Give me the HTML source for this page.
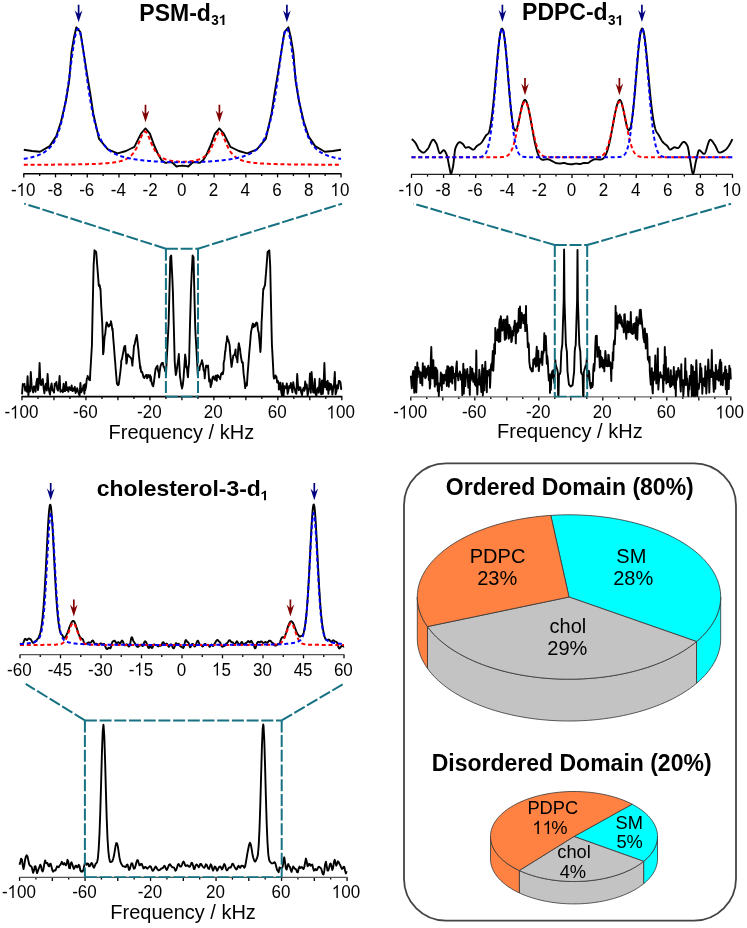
<!DOCTYPE html><html><head><meta charset="utf-8"><style>html,body{margin:0;padding:0;background:#fff;overflow:hidden}svg{display:block;will-change:transform}text{font-family:"Liberation Sans",sans-serif}</style></head><body><svg width="747" height="928" viewBox="0 0 747 928" font-family="Liberation Sans, sans-serif">
<rect width="747" height="928" fill="#fff"/>
<line x1="23.8" y1="173.8" x2="23.8" y2="177.4" stroke="#000" stroke-width="1.3"/>
<line x1="55.52" y1="173.8" x2="55.52" y2="177.4" stroke="#000" stroke-width="1.3"/>
<line x1="87.24" y1="173.8" x2="87.24" y2="177.4" stroke="#000" stroke-width="1.3"/>
<line x1="118.96" y1="173.8" x2="118.96" y2="177.4" stroke="#000" stroke-width="1.3"/>
<line x1="150.68" y1="173.8" x2="150.68" y2="177.4" stroke="#000" stroke-width="1.3"/>
<line x1="182.4" y1="173.8" x2="182.4" y2="177.4" stroke="#000" stroke-width="1.3"/>
<line x1="214.12" y1="173.8" x2="214.12" y2="177.4" stroke="#000" stroke-width="1.3"/>
<line x1="245.84" y1="173.8" x2="245.84" y2="177.4" stroke="#000" stroke-width="1.3"/>
<line x1="277.56" y1="173.8" x2="277.56" y2="177.4" stroke="#000" stroke-width="1.3"/>
<line x1="309.28" y1="173.8" x2="309.28" y2="177.4" stroke="#000" stroke-width="1.3"/>
<line x1="341" y1="173.8" x2="341" y2="177.4" stroke="#000" stroke-width="1.3"/>
<line x1="39.66" y1="173.8" x2="39.66" y2="176.1" stroke="#000" stroke-width="1.3"/>
<line x1="71.38" y1="173.8" x2="71.38" y2="176.1" stroke="#000" stroke-width="1.3"/>
<line x1="103.1" y1="173.8" x2="103.1" y2="176.1" stroke="#000" stroke-width="1.3"/>
<line x1="134.82" y1="173.8" x2="134.82" y2="176.1" stroke="#000" stroke-width="1.3"/>
<line x1="166.54" y1="173.8" x2="166.54" y2="176.1" stroke="#000" stroke-width="1.3"/>
<line x1="198.26" y1="173.8" x2="198.26" y2="176.1" stroke="#000" stroke-width="1.3"/>
<line x1="229.98" y1="173.8" x2="229.98" y2="176.1" stroke="#000" stroke-width="1.3"/>
<line x1="261.7" y1="173.8" x2="261.7" y2="176.1" stroke="#000" stroke-width="1.3"/>
<line x1="293.42" y1="173.8" x2="293.42" y2="176.1" stroke="#000" stroke-width="1.3"/>
<line x1="325.14" y1="173.8" x2="325.14" y2="176.1" stroke="#000" stroke-width="1.3"/>
<line x1="23.3" y1="173.8" x2="341.5" y2="173.8" stroke="#000" stroke-width="1.6"/>
<text transform="translate(10.93,196) scale(1.0,1.07)" font-size="17" fill="#000">-</text>
<path d="M22.66,196 L22.66,182.98 L21.69,182.98 L21.3,183.78 L20.58,184.63 L19.61,185.36 L18.37,186.05 L18.37,187.54 L19.48,187.05 L20.46,186.41 L21.26,185.72 L21.26,196 Z" fill="#000"/>
<text transform="translate(26.04,196) scale(1.0,1.07)" font-size="17" fill="#000">0</text>
<text transform="translate(47.41,196) scale(1.0,1.07)" font-size="17" fill="#000">-8</text>
<text transform="translate(79.13,196) scale(1.0,1.07)" font-size="17" fill="#000">-6</text>
<text transform="translate(110.73,196) scale(1.0,1.07)" font-size="17" fill="#000">-4</text>
<text transform="translate(142.62,196) scale(1.0,1.07)" font-size="17" fill="#000">-2</text>
<text transform="translate(177.12,196) scale(1.0,1.07)" font-size="17" fill="#000">0</text>
<text transform="translate(208.84,196) scale(1.0,1.07)" font-size="17" fill="#000">2</text>
<text transform="translate(240.61,196) scale(1.0,1.07)" font-size="17" fill="#000">4</text>
<text transform="translate(272.22,196) scale(1.0,1.07)" font-size="17" fill="#000">6</text>
<text transform="translate(304,196) scale(1.0,1.07)" font-size="17" fill="#000">8</text>
<path d="M336.51,196 L336.51,182.98 L335.54,182.98 L335.15,183.78 L334.43,184.63 L333.46,185.36 L332.22,186.05 L332.22,187.54 L333.33,187.05 L334.31,186.41 L335.11,185.72 L335.11,196 Z" fill="#000"/>
<text transform="translate(339.89,196) scale(1.0,1.07)" font-size="17" fill="#000">0</text>
<path d="M23.8,149.7 L32,151 L40,151.7 L49.7,146.1 L56.2,136.4 L61,121.8 L65.9,100.8 L69.1,81.4 L71.5,52.3 L73.9,37.8 L76.4,27.3 L80.4,32.1 L83.6,52.3 L86.9,73.3 L90.1,92.7 L93.3,113.7 L99,138.8 L107.9,149.3 L117.6,153.3 L126,151 L130,149 L134.4,146.8 L141,133.6 L145.5,128.4 L149.9,133.6 L154,145 L158,154 L161.3,159.8 L164.5,162.5 L166,162.8 L168,162.3 L172,162.3 L176.5,166.5 L179.5,165.9 L182.4,165.6 L185.3,165.9 L188.3,166.5 L192.8,162.3 L196.8,162.3 L198.8,162.8 L200.3,162.5 L203.5,159.8 L206.8,154 L210.8,145 L214.9,133.6 L219.3,128.4 L223.8,133.6 L230.4,146.8 L234.8,149 L238.8,151 L247.2,153.3 L256.9,149.3 L265.8,138.8 L271.5,113.7 L274.7,92.7 L277.9,73.3 L281.2,52.3 L284.4,32.1 L288.4,27.3 L290.9,37.8 L293.3,52.3 L295.7,81.4 L298.9,100.8 L303.8,121.8 L308.6,136.4 L315.1,146.1 L324.8,151.7 L332.8,151 L341,149.7" fill="none" stroke="#000" stroke-width="1.9" stroke-linejoin="round"/>
<path d="M23.8,164.77 L24.2,164.77 L24.59,164.77 L24.99,164.77 L25.39,164.77 L25.78,164.77 L26.18,164.76 L26.58,164.76 L26.97,164.76 L27.37,164.76 L27.77,164.76 L28.16,164.76 L28.56,164.76 L28.95,164.75 L29.35,164.75 L29.75,164.75 L30.14,164.75 L30.54,164.75 L30.94,164.75 L31.33,164.75 L31.73,164.74 L32.13,164.74 L32.52,164.74 L32.92,164.74 L33.32,164.74 L33.71,164.74 L34.11,164.73 L34.51,164.73 L34.9,164.73 L35.3,164.73 L35.7,164.73 L36.09,164.73 L36.49,164.72 L36.88,164.72 L37.28,164.72 L37.68,164.72 L38.07,164.72 L38.47,164.71 L38.87,164.71 L39.26,164.71 L39.66,164.71 L40.06,164.71 L40.45,164.7 L40.85,164.7 L41.25,164.7 L41.64,164.7 L42.04,164.7 L42.44,164.69 L42.83,164.69 L43.23,164.69 L43.62,164.69 L44.02,164.69 L44.42,164.68 L44.81,164.68 L45.21,164.68 L45.61,164.68 L46,164.67 L46.4,164.67 L46.8,164.67 L47.19,164.67 L47.59,164.67 L47.99,164.66 L48.38,164.66 L48.78,164.66 L49.18,164.66 L49.57,164.65 L49.97,164.65 L50.37,164.65 L50.76,164.65 L51.16,164.64 L51.56,164.64 L51.95,164.64 L52.35,164.63 L52.74,164.63 L53.14,164.63 L53.54,164.63 L53.93,164.62 L54.33,164.62 L54.73,164.62 L55.12,164.61 L55.52,164.61 L55.92,164.61 L56.31,164.6 L56.71,164.6 L57.11,164.6 L57.5,164.6 L57.9,164.59 L58.3,164.59 L58.69,164.59 L59.09,164.58 L59.49,164.58 L59.88,164.57 L60.28,164.57 L60.67,164.57 L61.07,164.56 L61.47,164.56 L61.86,164.56 L62.26,164.55 L62.66,164.55 L63.05,164.55 L63.45,164.54 L63.85,164.54 L64.24,164.53 L64.64,164.53 L65.04,164.52 L65.43,164.52 L65.83,164.52 L66.23,164.51 L66.62,164.51 L67.02,164.5 L67.42,164.5 L67.81,164.49 L68.21,164.49 L68.6,164.48 L69,164.48 L69.4,164.47 L69.79,164.47 L70.19,164.47 L70.59,164.46 L70.98,164.45 L71.38,164.45 L71.78,164.44 L72.17,164.44 L72.57,164.43 L72.97,164.43 L73.36,164.42 L73.76,164.42 L74.16,164.41 L74.55,164.4 L74.95,164.4 L75.35,164.39 L75.74,164.39 L76.14,164.38 L76.53,164.37 L76.93,164.37 L77.33,164.36 L77.72,164.35 L78.12,164.35 L78.52,164.34 L78.91,164.33 L79.31,164.33 L79.71,164.32 L80.1,164.31 L80.5,164.3 L80.9,164.3 L81.29,164.29 L81.69,164.28 L82.09,164.27 L82.48,164.26 L82.88,164.26 L83.28,164.25 L83.67,164.24 L84.07,164.23 L84.46,164.22 L84.86,164.21 L85.26,164.2 L85.65,164.19 L86.05,164.18 L86.45,164.17 L86.84,164.16 L87.24,164.15 L87.64,164.14 L88.03,164.13 L88.43,164.12 L88.83,164.11 L89.22,164.1 L89.62,164.09 L90.02,164.07 L90.41,164.06 L90.81,164.05 L91.21,164.04 L91.6,164.02 L92,164.01 L92.39,164 L92.79,163.99 L93.19,163.97 L93.58,163.96 L93.98,163.94 L94.38,163.93 L94.77,163.91 L95.17,163.9 L95.57,163.88 L95.96,163.87 L96.36,163.85 L96.76,163.83 L97.15,163.81 L97.55,163.8 L97.95,163.78 L98.34,163.76 L98.74,163.74 L99.14,163.72 L99.53,163.7 L99.93,163.68 L100.32,163.66 L100.72,163.64 L101.12,163.62 L101.51,163.59 L101.91,163.57 L102.31,163.55 L102.7,163.52 L103.1,163.5 L103.5,163.47 L103.89,163.45 L104.29,163.42 L104.69,163.39 L105.08,163.36 L105.48,163.33 L105.88,163.3 L106.27,163.27 L106.67,163.24 L107.07,163.21 L107.46,163.17 L107.86,163.14 L108.25,163.1 L108.65,163.07 L109.05,163.03 L109.44,162.99 L109.84,162.95 L110.24,162.91 L110.63,162.87 L111.03,162.82 L111.43,162.78 L111.82,162.73 L112.22,162.68 L112.62,162.63 L113.01,162.58 L113.41,162.52 L113.81,162.47 L114.2,162.41 L114.6,162.35 L115,162.29 L115.39,162.23 L115.79,162.16 L116.18,162.09 L116.58,162.02 L116.98,161.95 L117.37,161.87 L117.77,161.79 L118.17,161.71 L118.56,161.62 L118.96,161.54 L119.36,161.44 L119.75,161.35 L120.15,161.25 L120.55,161.14 L120.94,161.03 L121.34,160.92 L121.74,160.8 L122.13,160.68 L122.53,160.55 L122.93,160.42 L123.32,160.28 L123.72,160.13 L124.11,159.98 L124.51,159.82 L124.91,159.65 L125.3,159.47 L125.7,159.29 L126.1,159.09 L126.49,158.89 L126.89,158.67 L127.29,158.45 L127.68,158.21 L128.08,157.97 L128.48,157.7 L128.87,157.43 L129.27,157.14 L129.67,156.84 L130.06,156.51 L130.46,156.18 L130.86,155.82 L131.25,155.44 L131.65,155.04 L132.04,154.62 L132.44,154.18 L132.84,153.71 L133.23,153.21 L133.63,152.69 L134.03,152.14 L134.42,151.56 L134.82,150.95 L135.22,150.3 L135.61,149.62 L136.01,148.91 L136.41,148.16 L136.8,147.37 L137.2,146.55 L137.6,145.7 L137.99,144.81 L138.39,143.89 L138.79,142.95 L139.18,141.98 L139.58,141 L139.97,140 L140.37,139.01 L140.77,138.02 L141.16,137.06 L141.56,136.12 L141.96,135.24 L142.35,134.42 L142.75,133.68 L143.15,133.03 L143.54,132.48 L143.94,132.06 L144.34,131.76 L144.73,131.6 L145.13,131.58 L145.53,131.71 L145.92,131.97 L146.32,132.36 L146.72,132.87 L147.11,133.49 L147.51,134.21 L147.9,135.01 L148.3,135.87 L148.7,136.78 L149.09,137.73 L149.49,138.71 L149.89,139.69 L150.28,140.68 L150.68,141.66 L151.08,142.62 L151.47,143.56 L151.87,144.47 L152.27,145.35 L152.66,146.21 L153.06,147.02 L153.46,147.81 L153.85,148.55 L154.25,149.26 L154.65,149.94 L155.04,150.58 L155.44,151.19 L155.83,151.77 L156.23,152.32 L156.63,152.84 L157.02,153.33 L157.42,153.79 L157.82,154.23 L158.21,154.64 L158.61,155.03 L159.01,155.41 L159.4,155.76 L159.8,156.09 L160.2,156.4 L160.59,156.7 L160.99,156.98 L161.39,157.25 L161.78,157.5 L162.18,157.74 L162.58,157.96 L162.97,158.18 L163.37,158.38 L163.76,158.57 L164.16,158.76 L164.56,158.93 L164.95,159.09 L165.35,159.25 L165.75,159.4 L166.14,159.54 L166.54,159.67 L166.94,159.8 L167.33,159.92 L167.73,160.04 L168.13,160.15 L168.52,160.25 L168.92,160.35 L169.32,160.44 L169.71,160.53 L170.11,160.62 L170.5,160.7 L170.9,160.77 L171.3,160.85 L171.69,160.91 L172.09,160.98 L172.49,161.04 L172.88,161.1 L173.28,161.15 L173.68,161.2 L174.07,161.25 L174.47,161.3 L174.87,161.34 L175.26,161.38 L175.66,161.42 L176.06,161.46 L176.45,161.49 L176.85,161.52 L177.25,161.55 L177.64,161.57 L178.04,161.6 L178.44,161.62 L178.83,161.64 L179.23,161.65 L179.62,161.67 L180.02,161.68 L180.42,161.69 L180.81,161.7 L181.21,161.71 L181.61,161.71 L182,161.72 L182.4,161.72 L182.8,161.72 L183.19,161.71 L183.59,161.71 L183.99,161.7 L184.38,161.69 L184.78,161.68 L185.18,161.67 L185.57,161.65 L185.97,161.64 L186.37,161.62 L186.76,161.6 L187.16,161.57 L187.55,161.55 L187.95,161.52 L188.35,161.49 L188.74,161.46 L189.14,161.42 L189.54,161.38 L189.93,161.34 L190.33,161.3 L190.73,161.25 L191.12,161.2 L191.52,161.15 L191.92,161.1 L192.31,161.04 L192.71,160.98 L193.11,160.91 L193.5,160.85 L193.9,160.77 L194.3,160.7 L194.69,160.62 L195.09,160.53 L195.48,160.44 L195.88,160.35 L196.28,160.25 L196.67,160.15 L197.07,160.04 L197.47,159.92 L197.86,159.8 L198.26,159.67 L198.66,159.54 L199.05,159.4 L199.45,159.25 L199.85,159.09 L200.24,158.93 L200.64,158.76 L201.04,158.57 L201.43,158.38 L201.83,158.18 L202.22,157.96 L202.62,157.74 L203.02,157.5 L203.41,157.25 L203.81,156.98 L204.21,156.7 L204.6,156.4 L205,156.09 L205.4,155.76 L205.79,155.41 L206.19,155.03 L206.59,154.64 L206.98,154.23 L207.38,153.79 L207.78,153.33 L208.17,152.84 L208.57,152.32 L208.97,151.77 L209.36,151.19 L209.76,150.58 L210.16,149.94 L210.55,149.26 L210.95,148.55 L211.34,147.81 L211.74,147.02 L212.14,146.21 L212.53,145.35 L212.93,144.47 L213.33,143.56 L213.72,142.62 L214.12,141.66 L214.52,140.68 L214.91,139.69 L215.31,138.71 L215.71,137.73 L216.1,136.78 L216.5,135.87 L216.9,135.01 L217.29,134.21 L217.69,133.49 L218.09,132.87 L218.48,132.36 L218.88,131.97 L219.27,131.71 L219.67,131.58 L220.07,131.6 L220.46,131.76 L220.86,132.06 L221.26,132.48 L221.65,133.03 L222.05,133.68 L222.45,134.42 L222.84,135.24 L223.24,136.12 L223.64,137.06 L224.03,138.02 L224.43,139.01 L224.83,140 L225.22,141 L225.62,141.98 L226.01,142.95 L226.41,143.89 L226.81,144.81 L227.2,145.7 L227.6,146.55 L228,147.37 L228.39,148.16 L228.79,148.91 L229.19,149.62 L229.58,150.3 L229.98,150.95 L230.38,151.56 L230.77,152.14 L231.17,152.69 L231.57,153.21 L231.96,153.71 L232.36,154.18 L232.76,154.62 L233.15,155.04 L233.55,155.44 L233.94,155.82 L234.34,156.18 L234.74,156.51 L235.13,156.84 L235.53,157.14 L235.93,157.43 L236.32,157.7 L236.72,157.97 L237.12,158.21 L237.51,158.45 L237.91,158.67 L238.31,158.89 L238.7,159.09 L239.1,159.29 L239.5,159.47 L239.89,159.65 L240.29,159.82 L240.69,159.98 L241.08,160.13 L241.48,160.28 L241.88,160.42 L242.27,160.55 L242.67,160.68 L243.06,160.8 L243.46,160.92 L243.86,161.03 L244.25,161.14 L244.65,161.25 L245.05,161.35 L245.44,161.44 L245.84,161.54 L246.24,161.62 L246.63,161.71 L247.03,161.79 L247.43,161.87 L247.82,161.95 L248.22,162.02 L248.62,162.09 L249.01,162.16 L249.41,162.23 L249.81,162.29 L250.2,162.35 L250.6,162.41 L250.99,162.47 L251.39,162.52 L251.79,162.58 L252.18,162.63 L252.58,162.68 L252.98,162.73 L253.37,162.78 L253.77,162.82 L254.17,162.87 L254.56,162.91 L254.96,162.95 L255.36,162.99 L255.75,163.03 L256.15,163.07 L256.55,163.1 L256.94,163.14 L257.34,163.17 L257.74,163.21 L258.13,163.24 L258.53,163.27 L258.92,163.3 L259.32,163.33 L259.72,163.36 L260.11,163.39 L260.51,163.42 L260.91,163.45 L261.3,163.47 L261.7,163.5 L262.1,163.52 L262.49,163.55 L262.89,163.57 L263.29,163.59 L263.68,163.62 L264.08,163.64 L264.48,163.66 L264.87,163.68 L265.27,163.7 L265.67,163.72 L266.06,163.74 L266.46,163.76 L266.85,163.78 L267.25,163.8 L267.65,163.81 L268.04,163.83 L268.44,163.85 L268.84,163.87 L269.23,163.88 L269.63,163.9 L270.03,163.91 L270.42,163.93 L270.82,163.94 L271.22,163.96 L271.61,163.97 L272.01,163.99 L272.41,164 L272.8,164.01 L273.2,164.02 L273.6,164.04 L273.99,164.05 L274.39,164.06 L274.78,164.07 L275.18,164.09 L275.58,164.1 L275.97,164.11 L276.37,164.12 L276.77,164.13 L277.16,164.14 L277.56,164.15 L277.96,164.16 L278.35,164.17 L278.75,164.18 L279.15,164.19 L279.54,164.2 L279.94,164.21 L280.34,164.22 L280.73,164.23 L281.13,164.24 L281.52,164.25 L281.92,164.26 L282.32,164.26 L282.71,164.27 L283.11,164.28 L283.51,164.29 L283.9,164.3 L284.3,164.3 L284.7,164.31 L285.09,164.32 L285.49,164.33 L285.89,164.33 L286.28,164.34 L286.68,164.35 L287.08,164.35 L287.47,164.36 L287.87,164.37 L288.27,164.37 L288.66,164.38 L289.06,164.39 L289.45,164.39 L289.85,164.4 L290.25,164.4 L290.64,164.41 L291.04,164.42 L291.44,164.42 L291.83,164.43 L292.23,164.43 L292.63,164.44 L293.02,164.44 L293.42,164.45 L293.82,164.45 L294.21,164.46 L294.61,164.47 L295.01,164.47 L295.4,164.47 L295.8,164.48 L296.2,164.48 L296.59,164.49 L296.99,164.49 L297.38,164.5 L297.78,164.5 L298.18,164.51 L298.57,164.51 L298.97,164.52 L299.37,164.52 L299.76,164.52 L300.16,164.53 L300.56,164.53 L300.95,164.54 L301.35,164.54 L301.75,164.55 L302.14,164.55 L302.54,164.55 L302.94,164.56 L303.33,164.56 L303.73,164.56 L304.13,164.57 L304.52,164.57 L304.92,164.57 L305.31,164.58 L305.71,164.58 L306.11,164.59 L306.5,164.59 L306.9,164.59 L307.3,164.6 L307.69,164.6 L308.09,164.6 L308.49,164.6 L308.88,164.61 L309.28,164.61 L309.68,164.61 L310.07,164.62 L310.47,164.62 L310.87,164.62 L311.26,164.63 L311.66,164.63 L312.06,164.63 L312.45,164.63 L312.85,164.64 L313.25,164.64 L313.64,164.64 L314.04,164.65 L314.43,164.65 L314.83,164.65 L315.23,164.65 L315.62,164.66 L316.02,164.66 L316.42,164.66 L316.81,164.66 L317.21,164.67 L317.61,164.67 L318,164.67 L318.4,164.67 L318.8,164.67 L319.19,164.68 L319.59,164.68 L319.99,164.68 L320.38,164.68 L320.78,164.69 L321.18,164.69 L321.57,164.69 L321.97,164.69 L322.36,164.69 L322.76,164.7 L323.16,164.7 L323.55,164.7 L323.95,164.7 L324.35,164.7 L324.74,164.71 L325.14,164.71 L325.54,164.71 L325.93,164.71 L326.33,164.71 L326.73,164.72 L327.12,164.72 L327.52,164.72 L327.92,164.72 L328.31,164.72 L328.71,164.73 L329.11,164.73 L329.5,164.73 L329.9,164.73 L330.29,164.73 L330.69,164.73 L331.09,164.74 L331.48,164.74 L331.88,164.74 L332.28,164.74 L332.67,164.74 L333.07,164.74 L333.47,164.75 L333.86,164.75 L334.26,164.75 L334.66,164.75 L335.05,164.75 L335.45,164.75 L335.85,164.75 L336.24,164.76 L336.64,164.76 L337.03,164.76 L337.43,164.76 L337.83,164.76 L338.22,164.76 L338.62,164.76 L339.02,164.77 L339.41,164.77 L339.81,164.77 L340.21,164.77 L340.6,164.77 L341,164.77" fill="none" stroke="#ff0000" stroke-width="2.0" stroke-dasharray="4 2.8" stroke-linejoin="round"/>
<path d="M23.8,158.91 L24.2,158.84 L24.59,158.78 L24.99,158.71 L25.39,158.64 L25.78,158.56 L26.18,158.49 L26.58,158.41 L26.97,158.34 L27.37,158.26 L27.77,158.18 L28.16,158.09 L28.56,158.01 L28.95,157.92 L29.35,157.83 L29.75,157.74 L30.14,157.65 L30.54,157.56 L30.94,157.46 L31.33,157.36 L31.73,157.26 L32.13,157.16 L32.52,157.05 L32.92,156.94 L33.32,156.83 L33.71,156.72 L34.11,156.6 L34.51,156.48 L34.9,156.36 L35.3,156.23 L35.7,156.1 L36.09,155.97 L36.49,155.83 L36.88,155.69 L37.28,155.55 L37.68,155.4 L38.07,155.25 L38.47,155.09 L38.87,154.93 L39.26,154.76 L39.66,154.59 L40.06,154.42 L40.45,154.24 L40.85,154.05 L41.25,153.86 L41.64,153.67 L42.04,153.46 L42.44,153.25 L42.83,153.04 L43.23,152.81 L43.62,152.58 L44.02,152.34 L44.42,152.1 L44.81,151.84 L45.21,151.58 L45.61,151.3 L46,151.02 L46.4,150.72 L46.8,150.42 L47.19,150.1 L47.59,149.77 L47.99,149.43 L48.38,149.07 L48.78,148.7 L49.18,148.31 L49.57,147.91 L49.97,147.49 L50.37,147.05 L50.76,146.59 L51.16,146.11 L51.56,145.61 L51.95,145.09 L52.35,144.55 L52.74,143.97 L53.14,143.38 L53.54,142.75 L53.93,142.1 L54.33,141.42 L54.73,140.7 L55.12,139.95 L55.52,139.16 L55.92,138.34 L56.31,137.48 L56.71,136.57 L57.11,135.63 L57.5,134.64 L57.9,133.6 L58.3,132.52 L58.69,131.38 L59.09,130.19 L59.49,128.95 L59.88,127.65 L60.28,126.3 L60.67,124.88 L61.07,123.41 L61.47,121.87 L61.86,120.26 L62.26,118.59 L62.66,116.84 L63.05,115.03 L63.45,113.15 L63.85,111.19 L64.24,109.16 L64.64,107.06 L65.04,104.88 L65.43,102.63 L65.83,100.3 L66.23,97.9 L66.62,95.43 L67.02,92.88 L67.42,90.27 L67.81,87.59 L68.21,84.85 L68.6,82.04 L69,79.19 L69.4,76.29 L69.79,73.35 L70.19,70.38 L70.59,67.39 L70.98,64.39 L71.38,61.39 L71.78,58.42 L72.17,55.47 L72.57,52.58 L72.97,49.76 L73.36,47.03 L73.76,44.41 L74.16,41.92 L74.55,39.59 L74.95,37.43 L75.35,35.48 L75.74,33.74 L76.14,32.24 L76.53,30.99 L76.93,30.01 L77.33,29.32 L77.72,28.92 L78.12,28.81 L78.52,29 L78.91,29.49 L79.31,30.26 L79.71,31.32 L80.1,32.64 L80.5,34.21 L80.9,36.01 L81.29,38.02 L81.69,40.23 L82.09,42.61 L82.48,45.14 L82.88,47.79 L83.28,50.55 L83.67,53.39 L84.07,56.29 L84.46,59.25 L84.86,62.23 L85.26,65.23 L85.65,68.22 L86.05,71.21 L86.45,74.17 L86.84,77.1 L87.24,79.98 L87.64,82.82 L88.03,85.61 L88.43,88.33 L88.83,90.99 L89.22,93.58 L89.62,96.11 L90.02,98.56 L90.41,100.94 L90.81,103.24 L91.21,105.47 L91.6,107.62 L92,109.71 L92.39,111.71 L92.79,113.64 L93.19,115.51 L93.58,117.3 L93.98,119.02 L94.38,120.67 L94.77,122.26 L95.17,123.78 L95.57,125.23 L95.96,126.63 L96.36,127.97 L96.76,129.25 L97.15,130.47 L97.55,131.64 L97.95,132.76 L98.34,133.83 L98.74,134.86 L99.14,135.83 L99.53,136.76 L99.93,137.65 L100.32,138.5 L100.72,139.32 L101.12,140.09 L101.51,140.83 L101.91,141.54 L102.31,142.21 L102.7,142.86 L103.1,143.47 L103.5,144.06 L103.89,144.62 L104.29,145.16 L104.69,145.68 L105.08,146.17 L105.48,146.64 L105.88,147.09 L106.27,147.53 L106.67,147.94 L107.07,148.34 L107.46,148.72 L107.86,149.09 L108.25,149.44 L108.65,149.78 L109.05,150.11 L109.44,150.42 L109.84,150.73 L110.24,151.02 L110.63,151.3 L111.03,151.57 L111.43,151.83 L111.82,152.09 L112.22,152.33 L112.62,152.57 L113.01,152.8 L113.41,153.02 L113.81,153.23 L114.2,153.44 L114.6,153.64 L115,153.84 L115.39,154.03 L115.79,154.22 L116.18,154.39 L116.58,154.57 L116.98,154.74 L117.37,154.9 L117.77,155.06 L118.17,155.22 L118.56,155.37 L118.96,155.52 L119.36,155.66 L119.75,155.8 L120.15,155.94 L120.55,156.07 L120.94,156.2 L121.34,156.33 L121.74,156.46 L122.13,156.58 L122.53,156.69 L122.93,156.81 L123.32,156.92 L123.72,157.03 L124.11,157.14 L124.51,157.24 L124.91,157.35 L125.3,157.45 L125.7,157.54 L126.1,157.64 L126.49,157.73 L126.89,157.83 L127.29,157.92 L127.68,158 L128.08,158.09 L128.48,158.18 L128.87,158.26 L129.27,158.34 L129.67,158.42 L130.06,158.5 L130.46,158.57 L130.86,158.65 L131.25,158.72 L131.65,158.79 L132.04,158.86 L132.44,158.93 L132.84,159 L133.23,159.07 L133.63,159.13 L134.03,159.19 L134.42,159.26 L134.82,159.32 L135.22,159.38 L135.61,159.44 L136.01,159.5 L136.41,159.55 L136.8,159.61 L137.2,159.67 L137.6,159.72 L137.99,159.77 L138.39,159.83 L138.79,159.88 L139.18,159.93 L139.58,159.98 L139.97,160.03 L140.37,160.08 L140.77,160.12 L141.16,160.17 L141.56,160.22 L141.96,160.26 L142.35,160.31 L142.75,160.35 L143.15,160.39 L143.54,160.43 L143.94,160.48 L144.34,160.52 L144.73,160.56 L145.13,160.6 L145.53,160.64 L145.92,160.67 L146.32,160.71 L146.72,160.75 L147.11,160.79 L147.51,160.82 L147.9,160.86 L148.3,160.89 L148.7,160.93 L149.09,160.96 L149.49,160.99 L149.89,161.03 L150.28,161.06 L150.68,161.09 L151.08,161.12 L151.47,161.15 L151.87,161.18 L152.27,161.21 L152.66,161.24 L153.06,161.27 L153.46,161.3 L153.85,161.33 L154.25,161.35 L154.65,161.38 L155.04,161.41 L155.44,161.43 L155.83,161.46 L156.23,161.48 L156.63,161.51 L157.02,161.53 L157.42,161.56 L157.82,161.58 L158.21,161.6 L158.61,161.63 L159.01,161.65 L159.4,161.67 L159.8,161.69 L160.2,161.71 L160.59,161.73 L160.99,161.75 L161.39,161.77 L161.78,161.79 L162.18,161.81 L162.58,161.83 L162.97,161.85 L163.37,161.87 L163.76,161.88 L164.16,161.9 L164.56,161.92 L164.95,161.93 L165.35,161.95 L165.75,161.96 L166.14,161.98 L166.54,161.99 L166.94,162.01 L167.33,162.02 L167.73,162.04 L168.13,162.05 L168.52,162.06 L168.92,162.08 L169.32,162.09 L169.71,162.1 L170.11,162.11 L170.5,162.12 L170.9,162.13 L171.3,162.14 L171.69,162.15 L172.09,162.16 L172.49,162.17 L172.88,162.18 L173.28,162.19 L173.68,162.2 L174.07,162.21 L174.47,162.21 L174.87,162.22 L175.26,162.23 L175.66,162.23 L176.06,162.24 L176.45,162.24 L176.85,162.25 L177.25,162.25 L177.64,162.26 L178.04,162.26 L178.44,162.27 L178.83,162.27 L179.23,162.27 L179.62,162.28 L180.02,162.28 L180.42,162.28 L180.81,162.28 L181.21,162.28 L181.61,162.28 L182,162.28 L182.4,162.29 L182.8,162.28 L183.19,162.28 L183.59,162.28 L183.99,162.28 L184.38,162.28 L184.78,162.28 L185.18,162.28 L185.57,162.27 L185.97,162.27 L186.37,162.27 L186.76,162.26 L187.16,162.26 L187.55,162.25 L187.95,162.25 L188.35,162.24 L188.74,162.24 L189.14,162.23 L189.54,162.23 L189.93,162.22 L190.33,162.21 L190.73,162.21 L191.12,162.2 L191.52,162.19 L191.92,162.18 L192.31,162.17 L192.71,162.16 L193.11,162.15 L193.5,162.14 L193.9,162.13 L194.3,162.12 L194.69,162.11 L195.09,162.1 L195.48,162.09 L195.88,162.08 L196.28,162.06 L196.67,162.05 L197.07,162.04 L197.47,162.02 L197.86,162.01 L198.26,161.99 L198.66,161.98 L199.05,161.96 L199.45,161.95 L199.85,161.93 L200.24,161.92 L200.64,161.9 L201.04,161.88 L201.43,161.87 L201.83,161.85 L202.22,161.83 L202.62,161.81 L203.02,161.79 L203.41,161.77 L203.81,161.75 L204.21,161.73 L204.6,161.71 L205,161.69 L205.4,161.67 L205.79,161.65 L206.19,161.63 L206.59,161.6 L206.98,161.58 L207.38,161.56 L207.78,161.53 L208.17,161.51 L208.57,161.48 L208.97,161.46 L209.36,161.43 L209.76,161.41 L210.16,161.38 L210.55,161.35 L210.95,161.33 L211.34,161.3 L211.74,161.27 L212.14,161.24 L212.53,161.21 L212.93,161.18 L213.33,161.15 L213.72,161.12 L214.12,161.09 L214.52,161.06 L214.91,161.03 L215.31,160.99 L215.71,160.96 L216.1,160.93 L216.5,160.89 L216.9,160.86 L217.29,160.82 L217.69,160.79 L218.09,160.75 L218.48,160.71 L218.88,160.67 L219.27,160.64 L219.67,160.6 L220.07,160.56 L220.46,160.52 L220.86,160.48 L221.26,160.43 L221.65,160.39 L222.05,160.35 L222.45,160.31 L222.84,160.26 L223.24,160.22 L223.64,160.17 L224.03,160.12 L224.43,160.08 L224.83,160.03 L225.22,159.98 L225.62,159.93 L226.01,159.88 L226.41,159.83 L226.81,159.77 L227.2,159.72 L227.6,159.67 L228,159.61 L228.39,159.55 L228.79,159.5 L229.19,159.44 L229.58,159.38 L229.98,159.32 L230.38,159.26 L230.77,159.19 L231.17,159.13 L231.57,159.07 L231.96,159 L232.36,158.93 L232.76,158.86 L233.15,158.79 L233.55,158.72 L233.94,158.65 L234.34,158.57 L234.74,158.5 L235.13,158.42 L235.53,158.34 L235.93,158.26 L236.32,158.18 L236.72,158.09 L237.12,158 L237.51,157.92 L237.91,157.83 L238.31,157.73 L238.7,157.64 L239.1,157.54 L239.5,157.45 L239.89,157.35 L240.29,157.24 L240.69,157.14 L241.08,157.03 L241.48,156.92 L241.88,156.81 L242.27,156.69 L242.67,156.58 L243.06,156.46 L243.46,156.33 L243.86,156.2 L244.25,156.07 L244.65,155.94 L245.05,155.8 L245.44,155.66 L245.84,155.52 L246.24,155.37 L246.63,155.22 L247.03,155.06 L247.43,154.9 L247.82,154.74 L248.22,154.57 L248.62,154.39 L249.01,154.22 L249.41,154.03 L249.81,153.84 L250.2,153.64 L250.6,153.44 L250.99,153.23 L251.39,153.02 L251.79,152.8 L252.18,152.57 L252.58,152.33 L252.98,152.09 L253.37,151.83 L253.77,151.57 L254.17,151.3 L254.56,151.02 L254.96,150.73 L255.36,150.42 L255.75,150.11 L256.15,149.78 L256.55,149.44 L256.94,149.09 L257.34,148.72 L257.74,148.34 L258.13,147.94 L258.53,147.53 L258.92,147.09 L259.32,146.64 L259.72,146.17 L260.11,145.68 L260.51,145.16 L260.91,144.62 L261.3,144.06 L261.7,143.47 L262.1,142.86 L262.49,142.21 L262.89,141.54 L263.29,140.83 L263.68,140.09 L264.08,139.32 L264.48,138.5 L264.87,137.65 L265.27,136.76 L265.67,135.83 L266.06,134.86 L266.46,133.83 L266.85,132.76 L267.25,131.64 L267.65,130.47 L268.04,129.25 L268.44,127.97 L268.84,126.63 L269.23,125.23 L269.63,123.78 L270.03,122.26 L270.42,120.67 L270.82,119.02 L271.22,117.3 L271.61,115.51 L272.01,113.64 L272.41,111.71 L272.8,109.71 L273.2,107.62 L273.6,105.47 L273.99,103.24 L274.39,100.94 L274.78,98.56 L275.18,96.11 L275.58,93.58 L275.97,90.99 L276.37,88.33 L276.77,85.61 L277.16,82.82 L277.56,79.98 L277.96,77.1 L278.35,74.17 L278.75,71.21 L279.15,68.22 L279.54,65.23 L279.94,62.23 L280.34,59.25 L280.73,56.29 L281.13,53.39 L281.52,50.55 L281.92,47.79 L282.32,45.14 L282.71,42.61 L283.11,40.23 L283.51,38.02 L283.9,36.01 L284.3,34.21 L284.7,32.64 L285.09,31.32 L285.49,30.26 L285.89,29.49 L286.28,29 L286.68,28.81 L287.08,28.92 L287.47,29.32 L287.87,30.01 L288.27,30.99 L288.66,32.24 L289.06,33.74 L289.45,35.48 L289.85,37.43 L290.25,39.59 L290.64,41.92 L291.04,44.41 L291.44,47.03 L291.83,49.76 L292.23,52.58 L292.63,55.47 L293.02,58.42 L293.42,61.39 L293.82,64.39 L294.21,67.39 L294.61,70.38 L295.01,73.35 L295.4,76.29 L295.8,79.19 L296.2,82.04 L296.59,84.85 L296.99,87.59 L297.38,90.27 L297.78,92.88 L298.18,95.43 L298.57,97.9 L298.97,100.3 L299.37,102.63 L299.76,104.88 L300.16,107.06 L300.56,109.16 L300.95,111.19 L301.35,113.15 L301.75,115.03 L302.14,116.84 L302.54,118.59 L302.94,120.26 L303.33,121.87 L303.73,123.41 L304.13,124.88 L304.52,126.3 L304.92,127.65 L305.31,128.95 L305.71,130.19 L306.11,131.38 L306.5,132.52 L306.9,133.6 L307.3,134.64 L307.69,135.63 L308.09,136.57 L308.49,137.48 L308.88,138.34 L309.28,139.16 L309.68,139.95 L310.07,140.7 L310.47,141.42 L310.87,142.1 L311.26,142.75 L311.66,143.38 L312.06,143.97 L312.45,144.55 L312.85,145.09 L313.25,145.61 L313.64,146.11 L314.04,146.59 L314.43,147.05 L314.83,147.49 L315.23,147.91 L315.62,148.31 L316.02,148.7 L316.42,149.07 L316.81,149.43 L317.21,149.77 L317.61,150.1 L318,150.42 L318.4,150.72 L318.8,151.02 L319.19,151.3 L319.59,151.58 L319.99,151.84 L320.38,152.1 L320.78,152.34 L321.18,152.58 L321.57,152.81 L321.97,153.04 L322.36,153.25 L322.76,153.46 L323.16,153.67 L323.55,153.86 L323.95,154.05 L324.35,154.24 L324.74,154.42 L325.14,154.59 L325.54,154.76 L325.93,154.93 L326.33,155.09 L326.73,155.25 L327.12,155.4 L327.52,155.55 L327.92,155.69 L328.31,155.83 L328.71,155.97 L329.11,156.1 L329.5,156.23 L329.9,156.36 L330.29,156.48 L330.69,156.6 L331.09,156.72 L331.48,156.83 L331.88,156.94 L332.28,157.05 L332.67,157.16 L333.07,157.26 L333.47,157.36 L333.86,157.46 L334.26,157.56 L334.66,157.65 L335.05,157.74 L335.45,157.83 L335.85,157.92 L336.24,158.01 L336.64,158.09 L337.03,158.18 L337.43,158.26 L337.83,158.34 L338.22,158.41 L338.62,158.49 L339.02,158.56 L339.41,158.64 L339.81,158.71 L340.21,158.78 L340.6,158.84 L341,158.91" fill="none" stroke="#0000ff" stroke-width="2.0" stroke-dasharray="4 2.8" stroke-linejoin="round"/>
<line x1="411.5" y1="174.3" x2="411.5" y2="177.9" stroke="#000" stroke-width="1.3"/>
<line x1="443.6" y1="174.3" x2="443.6" y2="177.9" stroke="#000" stroke-width="1.3"/>
<line x1="475.7" y1="174.3" x2="475.7" y2="177.9" stroke="#000" stroke-width="1.3"/>
<line x1="507.8" y1="174.3" x2="507.8" y2="177.9" stroke="#000" stroke-width="1.3"/>
<line x1="539.9" y1="174.3" x2="539.9" y2="177.9" stroke="#000" stroke-width="1.3"/>
<line x1="572" y1="174.3" x2="572" y2="177.9" stroke="#000" stroke-width="1.3"/>
<line x1="604.1" y1="174.3" x2="604.1" y2="177.9" stroke="#000" stroke-width="1.3"/>
<line x1="636.2" y1="174.3" x2="636.2" y2="177.9" stroke="#000" stroke-width="1.3"/>
<line x1="668.3" y1="174.3" x2="668.3" y2="177.9" stroke="#000" stroke-width="1.3"/>
<line x1="700.4" y1="174.3" x2="700.4" y2="177.9" stroke="#000" stroke-width="1.3"/>
<line x1="732.5" y1="174.3" x2="732.5" y2="177.9" stroke="#000" stroke-width="1.3"/>
<line x1="427.55" y1="174.3" x2="427.55" y2="176.6" stroke="#000" stroke-width="1.3"/>
<line x1="459.65" y1="174.3" x2="459.65" y2="176.6" stroke="#000" stroke-width="1.3"/>
<line x1="491.75" y1="174.3" x2="491.75" y2="176.6" stroke="#000" stroke-width="1.3"/>
<line x1="523.85" y1="174.3" x2="523.85" y2="176.6" stroke="#000" stroke-width="1.3"/>
<line x1="555.95" y1="174.3" x2="555.95" y2="176.6" stroke="#000" stroke-width="1.3"/>
<line x1="588.05" y1="174.3" x2="588.05" y2="176.6" stroke="#000" stroke-width="1.3"/>
<line x1="620.15" y1="174.3" x2="620.15" y2="176.6" stroke="#000" stroke-width="1.3"/>
<line x1="652.25" y1="174.3" x2="652.25" y2="176.6" stroke="#000" stroke-width="1.3"/>
<line x1="684.35" y1="174.3" x2="684.35" y2="176.6" stroke="#000" stroke-width="1.3"/>
<line x1="716.45" y1="174.3" x2="716.45" y2="176.6" stroke="#000" stroke-width="1.3"/>
<line x1="411" y1="174.3" x2="733" y2="174.3" stroke="#222" stroke-width="1.35"/>
<text transform="translate(398.62,196) scale(1.0,1.07)" font-size="17" fill="#000">-</text>
<path d="M410.36,196 L410.36,182.98 L409.39,182.98 L409,183.78 L408.28,184.63 L407.31,185.36 L406.07,186.05 L406.07,187.54 L407.18,187.05 L408.16,186.41 L408.96,185.72 L408.96,196 Z" fill="#000"/>
<text transform="translate(413.74,196) scale(1.0,1.07)" font-size="17" fill="#000">0</text>
<text transform="translate(435.49,196) scale(1.0,1.07)" font-size="17" fill="#000">-8</text>
<text transform="translate(467.59,196) scale(1.0,1.07)" font-size="17" fill="#000">-6</text>
<text transform="translate(499.57,196) scale(1.0,1.07)" font-size="17" fill="#000">-4</text>
<text transform="translate(531.84,196) scale(1.0,1.07)" font-size="17" fill="#000">-2</text>
<text transform="translate(566.72,196) scale(1.0,1.07)" font-size="17" fill="#000">0</text>
<text transform="translate(598.82,196) scale(1.0,1.07)" font-size="17" fill="#000">2</text>
<text transform="translate(630.98,196) scale(1.0,1.07)" font-size="17" fill="#000">4</text>
<text transform="translate(662.96,196) scale(1.0,1.07)" font-size="17" fill="#000">6</text>
<text transform="translate(695.12,196) scale(1.0,1.07)" font-size="17" fill="#000">8</text>
<path d="M728.01,196 L728.01,182.98 L727.04,182.98 L726.65,183.78 L725.93,184.63 L724.96,185.36 L723.72,186.05 L723.72,187.54 L724.83,187.05 L725.81,186.41 L726.61,185.72 L726.61,196 Z" fill="#000"/>
<text transform="translate(731.39,196) scale(1.0,1.07)" font-size="17" fill="#000">0</text>
<path d="M411.7,139.1 L411.93,139.24 L412.16,139.4 L412.39,139.57 L412.62,139.75 L412.85,139.95 L413.08,140.15 L413.3,140.37 L413.53,140.6 L413.76,140.84 L413.99,141.09 L414.22,141.35 L414.45,141.62 L414.68,141.89 L414.91,142.18 L415.14,142.46 L415.37,142.76 L415.6,143.07 L415.83,143.44 L416.06,143.84 L416.28,144.28 L416.51,144.74 L416.74,145.23 L416.97,145.72 L417.2,146.22 L417.43,146.72 L417.66,147.21 L417.89,147.68 L418.12,148.12 L418.35,148.54 L418.58,148.92 L418.81,149.25 L419.04,149.53 L419.26,149.77 L419.49,150 L419.72,150.24 L419.95,150.47 L420.18,150.69 L420.41,150.91 L420.64,151.13 L420.87,151.33 L421.1,151.53 L421.33,151.71 L421.56,151.88 L421.79,152.04 L422.02,152.18 L422.24,152.3 L422.47,152.4 L422.7,152.49 L422.93,152.55 L423.16,152.59 L423.39,152.6 L423.62,152.58 L423.85,152.53 L424.08,152.45 L424.31,152.34 L424.54,152.21 L424.77,152.05 L425,151.87 L425.22,151.67 L425.45,151.45 L425.68,151.22 L425.91,150.97 L426.14,150.72 L426.37,150.45 L426.6,150.19 L426.83,149.91 L427.06,149.64 L427.29,149.37 L427.52,149.11 L427.75,148.85 L427.98,148.55 L428.2,148.21 L428.43,147.83 L428.66,147.42 L428.89,146.97 L429.12,146.5 L429.35,146 L429.58,145.5 L429.81,144.98 L430.04,144.46 L430.27,143.94 L430.5,143.42 L430.73,142.92 L430.96,142.44 L431.18,141.98 L431.41,141.54 L431.64,141.14 L431.87,140.78 L432.1,140.46 L432.33,140.19 L432.56,139.97 L432.79,139.81 L433.02,139.72 L433.25,139.7 L433.48,139.75 L433.71,139.85 L433.94,140.01 L434.17,140.21 L434.39,140.46 L434.62,140.75 L434.85,141.06 L435.08,141.4 L435.31,141.76 L435.54,142.14 L435.77,142.52 L436,142.9 L436.23,143.28 L436.46,143.69 L436.69,144.21 L436.92,144.83 L437.15,145.53 L437.37,146.3 L437.6,147.11 L437.83,147.95 L438.06,148.79 L438.29,149.61 L438.52,150.4 L438.75,151.13 L438.98,151.79 L439.21,152.35 L439.44,152.8 L439.67,153.12 L439.9,153.28 L440.13,153.29 L440.35,153.22 L440.58,153.09 L440.81,152.92 L441.04,152.7 L441.27,152.45 L441.5,152.18 L441.73,151.9 L441.96,151.61 L442.19,151.33 L442.42,151.06 L442.65,150.81 L442.88,150.59 L443.11,150.41 L443.33,150.28 L443.56,150.21 L443.79,150.21 L444.02,150.28 L444.25,150.42 L444.48,150.62 L444.71,150.89 L444.94,151.21 L445.17,151.58 L445.4,151.99 L445.63,152.44 L445.86,152.92 L446.09,153.42 L446.31,153.95 L446.54,154.49 L446.77,155.04 L447,155.66 L447.23,156.46 L447.46,157.41 L447.69,158.47 L447.92,159.63 L448.15,160.84 L448.38,162.08 L448.61,163.33 L448.84,164.54 L449.07,165.7 L449.29,166.78 L449.52,167.9 L449.75,169.16 L449.98,170.45 L450.21,171.66 L450.44,172.66 L450.67,173.34 L450.9,173.6 L451.13,173.48 L451.36,173.12 L451.59,172.58 L451.82,171.86 L452.05,171.02 L452.27,170.08 L452.5,169.07 L452.73,168.02 L452.96,166.97 L453.19,165.77 L453.42,164.16 L453.65,162.23 L453.88,160.1 L454.11,157.86 L454.34,155.63 L454.57,153.5 L454.8,151.58 L455.03,149.97 L455.25,148.79 L455.48,148.09 L455.71,147.52 L455.94,146.97 L456.17,146.45 L456.4,145.95 L456.63,145.48 L456.86,145.04 L457.09,144.62 L457.32,144.23 L457.55,143.88 L457.78,143.55 L458.01,143.26 L458.23,143 L458.46,142.77 L458.69,142.58 L458.92,142.43 L459.15,142.32 L459.38,142.24 L459.61,142.2 L459.84,142.21 L460.07,142.24 L460.3,142.3 L460.53,142.39 L460.76,142.5 L460.99,142.63 L461.21,142.77 L461.44,142.93 L461.67,143.1 L461.9,143.28 L462.13,143.46 L462.36,143.65 L462.59,143.83 L462.82,144.02 L463.05,144.23 L463.28,144.5 L463.51,144.82 L463.74,145.17 L463.97,145.53 L464.19,145.9 L464.42,146.27 L464.65,146.62 L464.88,146.94 L465.11,147.22 L465.34,147.45 L465.57,147.61 L465.8,147.69 L466.03,147.7 L466.26,147.66 L466.49,147.61 L466.72,147.54 L466.95,147.46 L467.17,147.37 L467.4,147.29 L467.63,147.21 L467.86,147.15 L468.09,147.11 L468.32,147.1 L468.55,147.12 L468.78,147.16 L469.01,147.24 L469.24,147.33 L469.47,147.45 L469.7,147.58 L469.93,147.72 L470.15,147.88 L470.38,148.04 L470.61,148.21 L470.84,148.38 L471.07,148.55 L471.3,148.72 L471.53,148.88 L471.76,149.04 L471.99,149.18 L472.22,149.3 L472.45,149.41 L472.68,149.49 L472.91,149.56 L473.14,149.59 L473.36,149.6 L473.59,149.55 L473.82,149.45 L474.05,149.3 L474.28,149.1 L474.51,148.87 L474.74,148.62 L474.97,148.33 L475.2,148.04 L475.43,147.73 L475.66,147.42 L475.89,147.12 L476.12,146.82 L476.34,146.55 L476.57,146.29 L476.8,146.07 L477.03,145.88 L477.26,145.71 L477.49,145.55 L477.72,145.39 L477.95,145.24 L478.18,145.1 L478.41,144.96 L478.64,144.82 L478.87,144.68 L479.1,144.54 L479.32,144.4 L479.55,144.25 L479.78,144.1 L480.01,143.94 L480.24,143.77 L480.47,143.59 L480.7,143.4 L480.93,143.19 L481.16,142.95 L481.39,142.69 L481.62,142.41 L481.85,142.11 L482.08,141.79 L482.3,141.45 L482.53,141.11 L482.76,140.75 L482.99,140.38 L483.22,140.01 L483.45,139.63 L483.68,139.24 L483.91,138.85 L484.14,138.46 L484.37,138.07 L484.6,137.68 L484.83,137.29 L485.06,136.9 L485.28,136.52 L485.51,136.14 L485.74,135.78 L485.97,135.48 L486.2,135.22 L486.43,135.01 L486.66,134.82 L486.89,134.65 L487.12,134.48 L487.35,134.31 L487.58,134.12 L487.81,133.9 L488.04,133.64 L488.26,133.33 L488.49,132.95 L488.72,132.5 L488.95,131.97 L489.18,131.34 L489.41,130.59 L489.64,129.73 L489.87,128.74 L490.1,127.64 L490.33,126.45 L490.56,125.19 L490.79,123.85 L491.02,122.42 L491.24,120.92 L491.47,119.33 L491.7,117.67 L491.93,115.92 L492.16,114.09 L492.39,112.18 L492.62,110.2 L492.85,108.14 L493.08,106.01 L493.31,103.81 L493.54,101.54 L493.77,99.2 L494,96.81 L494.22,94.36 L494.45,91.86 L494.68,89.32 L494.91,86.74 L495.14,84.12 L495.37,81.48 L495.6,78.81 L495.83,76.14 L496.06,73.45 L496.29,70.77 L496.52,68.1 L496.75,65.45 L496.98,62.83 L497.2,60.24 L497.43,57.7 L497.66,55.21 L497.89,52.78 L498.12,50.42 L498.35,48.14 L498.58,45.95 L498.81,43.86 L499.04,41.87 L499.27,39.99 L499.5,38.24 L499.73,36.61 L499.96,35.11 L500.18,33.75 L500.41,32.54 L500.64,31.49 L500.87,30.58 L501.1,29.84 L501.33,29.26 L501.56,28.85 L501.79,28.61 L502.02,28.54 L502.25,28.63 L502.48,28.91 L502.71,29.35 L502.94,29.96 L503.16,30.75 L503.39,31.7 L503.62,32.81 L503.85,34.08 L504.08,35.5 L504.31,37.06 L504.54,38.77 L504.77,40.61 L505,42.58 L505.23,44.67 L505.46,46.87 L505.69,49.17 L505.92,51.57 L506.14,54.04 L506.37,56.6 L506.6,59.22 L506.83,61.9 L507.06,64.63 L507.29,67.39 L507.52,70.18 L507.75,72.99 L507.98,75.81 L508.21,78.62 L508.44,81.43 L508.67,84.22 L508.9,86.98 L509.12,89.71 L509.35,92.39 L509.58,95.03 L509.81,97.6 L510.04,100.11 L510.27,102.55 L510.5,104.91 L510.73,107.19 L510.96,109.38 L511.19,111.48 L511.42,113.48 L511.65,115.38 L511.88,117.17 L512.11,118.86 L512.33,120.44 L512.56,121.91 L512.79,123.26 L513.02,124.5 L513.25,125.62 L513.48,126.64 L513.71,127.53 L513.94,128.31 L514.17,128.97 L514.4,129.51 L514.63,129.93 L514.86,130.23 L515.09,130.41 L515.31,130.48 L515.54,130.44 L515.77,130.3 L516,130.06 L516.23,129.72 L516.46,129.29 L516.69,128.78 L516.92,128.18 L517.15,127.51 L517.38,126.77 L517.61,125.97 L517.84,125.11 L518.07,124.19 L518.29,123.23 L518.52,122.22 L518.75,121.19 L518.98,120.12 L519.21,119.03 L519.44,117.92 L519.67,116.8 L519.9,115.67 L520.13,114.55 L520.36,113.43 L520.59,112.32 L520.82,111.23 L521.05,110.16 L521.27,109.13 L521.5,108.12 L521.73,107.15 L521.96,106.23 L522.19,105.35 L522.42,104.53 L522.65,103.76 L522.88,103.06 L523.11,102.42 L523.34,101.85 L523.57,101.35 L523.8,100.92 L524.03,100.57 L524.25,100.3 L524.48,100.12 L524.71,100.02 L524.94,100 L525.17,100.05 L525.4,100.18 L525.63,100.39 L525.86,100.66 L526.09,101.01 L526.32,101.42 L526.55,101.91 L526.78,102.46 L527.01,103.08 L527.23,103.76 L527.46,104.5 L527.69,105.3 L527.92,106.16 L528.15,107.07 L528.38,108.03 L528.61,109.04 L528.84,110.09 L529.07,111.19 L529.3,112.32 L529.53,113.49 L529.76,114.68 L529.99,115.9 L530.21,117.15 L530.44,118.42 L530.67,119.7 L530.9,121 L531.13,122.31 L531.36,123.62 L531.59,124.94 L531.82,126.26 L532.05,127.58 L532.28,128.89 L532.51,130.19 L532.74,131.48 L532.97,132.76 L533.19,134.02 L533.42,135.26 L533.65,136.48 L533.88,137.68 L534.11,138.85 L534.34,140 L534.57,141.12 L534.8,142.22 L535.03,143.28 L535.26,144.31 L535.49,145.31 L535.72,146.28 L535.95,147.21 L536.17,148.11 L536.4,148.97 L536.63,149.8 L536.86,150.59 L537.09,151.35 L537.32,152.07 L537.55,152.76 L537.78,153.41 L538.01,154.03 L538.24,154.61 L538.47,155.16 L538.7,155.68 L538.93,156.16 L539.15,156.61 L539.38,157.02 L539.61,157.41 L539.84,157.76 L540.07,158.08 L540.3,158.37 L540.53,158.62 L540.76,158.85 L540.99,159.04 L541.22,159.21 L541.45,159.35 L541.68,159.47 L541.91,159.57 L542.13,159.65 L542.36,159.7 L542.59,159.74 L542.82,159.77 L543.05,159.78 L543.28,159.78 L543.51,159.77 L543.74,159.75 L543.97,159.72 L544.2,159.68 L544.43,159.64 L544.66,159.59 L544.89,159.54 L545.11,159.49 L545.34,159.44 L545.57,159.39 L545.8,159.35 L546.03,159.31 L546.26,159.27 L546.49,159.24 L546.72,159.21 L546.95,159.19 L547.18,159.19 L547.41,159.19 L547.64,159.2 L547.87,159.23 L548.09,159.27 L548.32,159.33 L548.55,159.39 L548.78,159.47 L549.01,159.55 L549.24,159.65 L549.47,159.75 L549.7,159.85 L549.93,159.97 L550.16,160.08 L550.39,160.2 L550.62,160.32 L550.85,160.44 L551.07,160.56 L551.3,160.67 L551.53,160.79 L551.76,160.89 L551.99,161 L552.22,161.1 L552.45,161.21 L552.68,161.33 L552.91,161.46 L553.14,161.59 L553.37,161.73 L553.6,161.86 L553.83,162 L554.06,162.13 L554.28,162.27 L554.51,162.39 L554.74,162.52 L554.97,162.63 L555.2,162.74 L555.43,162.84 L555.66,162.93 L555.89,163 L556.12,163.06 L556.35,163.11 L556.58,163.15 L556.81,163.19 L557.04,163.22 L557.26,163.26 L557.49,163.29 L557.72,163.33 L557.95,163.36 L558.18,163.38 L558.41,163.41 L558.64,163.43 L558.87,163.45 L559.1,163.47 L559.33,163.48 L559.56,163.49 L559.79,163.5 L560.02,163.5 L560.24,163.49 L560.47,163.48 L560.7,163.46 L560.93,163.43 L561.16,163.4 L561.39,163.36 L561.62,163.32 L561.85,163.28 L562.08,163.24 L562.31,163.19 L562.54,163.15 L562.77,163.11 L563,163.08 L563.22,163.05 L563.45,163.03 L563.68,163.01 L563.91,163 L564.14,163 L564.37,163.02 L564.6,163.05 L564.83,163.1 L565.06,163.15 L565.29,163.21 L565.52,163.28 L565.75,163.36 L565.98,163.43 L566.2,163.51 L566.43,163.59 L566.66,163.67 L566.89,163.75 L567.12,163.81 L567.35,163.88 L567.58,163.93 L567.81,163.97 L568.04,164 L568.27,164.03 L568.5,164.06 L568.73,164.08 L568.96,164.11 L569.18,164.13 L569.41,164.15 L569.64,164.18 L569.87,164.2 L570.1,164.22 L570.33,164.23 L570.56,164.25 L570.79,164.26 L571.02,164.28 L571.25,164.29 L571.48,164.29 L571.71,164.3 L571.94,164.3 L572.16,164.3 L572.39,164.28 L572.62,164.25 L572.85,164.22 L573.08,164.17 L573.31,164.12 L573.54,164.07 L573.77,164.01 L574,163.95 L574.23,163.89 L574.46,163.83 L574.69,163.78 L574.92,163.73 L575.14,163.68 L575.37,163.65 L575.6,163.62 L575.83,163.6 L576.06,163.6 L576.29,163.61 L576.52,163.62 L576.75,163.64 L576.98,163.66 L577.21,163.69 L577.44,163.72 L577.67,163.75 L577.9,163.78 L578.12,163.82 L578.35,163.85 L578.58,163.89 L578.81,163.92 L579.04,163.94 L579.27,163.96 L579.5,163.98 L579.73,163.99 L579.96,164 L580.19,163.99 L580.42,163.97 L580.65,163.93 L580.88,163.88 L581.1,163.81 L581.33,163.74 L581.56,163.66 L581.79,163.58 L582.02,163.49 L582.25,163.41 L582.48,163.32 L582.71,163.25 L582.94,163.17 L583.17,163.11 L583.4,163.06 L583.63,163.02 L583.86,163 L584.08,163 L584.31,163 L584.54,163.01 L584.77,163.01 L585,163.02 L585.23,163.03 L585.46,163.04 L585.69,163.05 L585.92,163.06 L586.15,163.07 L586.38,163.08 L586.61,163.09 L586.84,163.09 L587.06,163.1 L587.29,163.1 L587.52,163.09 L587.75,163.06 L587.98,162.99 L588.21,162.9 L588.44,162.78 L588.67,162.64 L588.9,162.49 L589.13,162.33 L589.36,162.15 L589.59,161.98 L589.82,161.8 L590.04,161.62 L590.27,161.45 L590.5,161.29 L590.73,161.15 L590.96,161.02 L591.19,160.9 L591.42,160.78 L591.65,160.65 L591.88,160.52 L592.11,160.39 L592.34,160.26 L592.57,160.13 L592.8,160 L593.03,159.87 L593.25,159.75 L593.48,159.64 L593.71,159.54 L593.94,159.45 L594.17,159.37 L594.4,159.3 L594.63,159.25 L594.86,159.22 L595.09,159.2 L595.32,159.2 L595.55,159.2 L595.78,159.2 L596.01,159.21 L596.23,159.23 L596.46,159.24 L596.69,159.26 L596.92,159.29 L597.15,159.31 L597.38,159.34 L597.61,159.37 L597.84,159.39 L598.07,159.42 L598.3,159.45 L598.53,159.47 L598.76,159.49 L598.99,159.51 L599.21,159.53 L599.44,159.54 L599.67,159.55 L599.9,159.55 L600.13,159.54 L600.36,159.53 L600.59,159.51 L600.82,159.48 L601.05,159.44 L601.28,159.39 L601.51,159.32 L601.74,159.25 L601.97,159.16 L602.19,159.05 L602.42,158.93 L602.65,158.8 L602.88,158.64 L603.11,158.47 L603.34,158.27 L603.57,158.05 L603.8,157.81 L604.03,157.55 L604.26,157.26 L604.49,156.95 L604.72,156.61 L604.95,156.24 L605.17,155.84 L605.4,155.42 L605.63,154.97 L605.86,154.49 L606.09,153.97 L606.32,153.43 L606.55,152.86 L606.78,152.25 L607.01,151.61 L607.24,150.94 L607.47,150.24 L607.7,149.5 L607.93,148.73 L608.15,147.93 L608.38,147.1 L608.61,146.23 L608.84,145.33 L609.07,144.4 L609.3,143.43 L609.53,142.44 L609.76,141.41 L609.99,140.36 L610.22,139.28 L610.45,138.17 L610.68,137.03 L610.91,135.87 L611.13,134.69 L611.36,133.49 L611.59,132.27 L611.82,131.04 L612.05,129.79 L612.28,128.52 L612.51,127.25 L612.74,125.98 L612.97,124.7 L613.2,123.42 L613.43,122.14 L613.66,120.86 L613.89,119.6 L614.11,118.35 L614.34,117.11 L614.57,115.89 L614.8,114.69 L615.03,113.52 L615.26,112.38 L615.49,111.27 L615.72,110.2 L615.95,109.16 L616.18,108.16 L616.41,107.21 L616.64,106.31 L616.87,105.46 L617.09,104.66 L617.32,103.92 L617.55,103.24 L617.78,102.62 L618.01,102.06 L618.24,101.56 L618.47,101.13 L618.7,100.77 L618.93,100.48 L619.16,100.25 L619.39,100.1 L619.62,100.02 L619.85,100 L620.07,100.08 L620.3,100.24 L620.53,100.5 L620.76,100.84 L620.99,101.27 L621.22,101.78 L621.45,102.37 L621.68,103.03 L621.91,103.76 L622.14,104.56 L622.37,105.41 L622.6,106.32 L622.83,107.28 L623.05,108.29 L623.28,109.34 L623.51,110.42 L623.74,111.53 L623.97,112.66 L624.2,113.81 L624.43,114.97 L624.66,116.13 L624.89,117.28 L625.12,118.43 L625.35,119.57 L625.58,120.68 L625.81,121.76 L626.03,122.8 L626.26,123.8 L626.49,124.76 L626.72,125.65 L626.95,126.49 L627.18,127.26 L627.41,127.95 L627.64,128.56 L627.87,129.08 L628.1,129.52 L628.33,129.85 L628.56,130.08 L628.79,130.2 L629.01,130.21 L629.24,130.09 L629.47,129.86 L629.7,129.5 L629.93,129.01 L630.16,128.42 L630.39,127.71 L630.62,126.89 L630.85,125.95 L631.08,124.9 L631.31,123.73 L631.54,122.44 L631.77,121.04 L631.99,119.53 L632.22,117.91 L632.45,116.18 L632.68,114.34 L632.91,112.4 L633.14,110.35 L633.37,108.22 L633.6,105.99 L633.83,103.67 L634.06,101.27 L634.29,98.8 L634.52,96.25 L634.75,93.65 L634.98,90.99 L635.2,88.28 L635.43,85.54 L635.66,82.76 L635.89,79.96 L636.12,77.14 L636.35,74.32 L636.58,71.51 L636.81,68.7 L637.04,65.93 L637.27,63.18 L637.5,60.48 L637.73,57.83 L637.96,55.24 L638.18,52.72 L638.41,50.28 L638.64,47.93 L638.87,45.69 L639.1,43.55 L639.33,41.52 L639.56,39.62 L639.79,37.85 L640.02,36.21 L640.25,34.72 L640.48,33.38 L640.71,32.2 L640.94,31.17 L641.16,30.31 L641.39,29.62 L641.62,29.09 L641.85,28.74 L642.08,28.55 L642.31,28.54 L642.54,28.69 L642.77,29 L643,29.48 L643.23,30.11 L643.46,30.91 L643.69,31.85 L643.92,32.95 L644.14,34.18 L644.37,35.56 L644.6,37.07 L644.83,38.7 L645.06,40.45 L645.29,42.32 L645.52,44.29 L645.75,46.36 L645.98,48.51 L646.21,50.75 L646.44,53.05 L646.67,55.42 L646.9,57.85 L647.12,60.32 L647.35,62.83 L647.58,65.37 L647.81,67.93 L648.04,70.5 L648.27,73.08 L648.5,75.65 L648.73,78.22 L648.96,80.77 L649.19,83.29 L649.42,85.79 L649.65,88.25 L649.88,90.67 L650.1,93.04 L650.33,95.37 L650.56,97.63 L650.79,99.84 L651.02,101.99 L651.25,104.07 L651.48,106.08 L651.71,108.02 L651.94,109.89 L652.17,111.68 L652.4,113.41 L652.63,115.05 L652.86,116.62 L653.08,118.12 L653.31,119.54 L653.54,120.89 L653.77,122.16 L654,123.36 L654.23,124.49 L654.46,125.55 L654.69,126.55 L654.92,127.47 L655.15,128.32 L655.38,129.07 L655.61,129.75 L655.84,130.35 L656.06,130.89 L656.29,131.37 L656.52,131.81 L656.75,132.2 L656.98,132.57 L657.21,132.91 L657.44,133.24 L657.67,133.56 L657.9,133.88 L658.13,134.22 L658.36,134.57 L658.59,134.94 L658.82,135.34 L659.04,135.74 L659.27,136.15 L659.5,136.57 L659.73,136.99 L659.96,137.42 L660.19,137.85 L660.42,138.28 L660.65,138.7 L660.88,139.12 L661.11,139.53 L661.34,139.94 L661.57,140.33 L661.8,140.7 L662.02,141.05 L662.25,141.39 L662.48,141.7 L662.71,141.99 L662.94,142.24 L663.17,142.48 L663.4,142.71 L663.63,142.92 L663.86,143.13 L664.09,143.32 L664.32,143.51 L664.55,143.7 L664.78,143.88 L665,144.06 L665.23,144.24 L665.46,144.42 L665.69,144.6 L665.92,144.78 L666.15,144.97 L666.38,145.16 L666.61,145.36 L666.84,145.56 L667.07,145.77 L667.3,146 L667.53,146.27 L667.76,146.59 L667.98,146.94 L668.21,147.31 L668.44,147.69 L668.67,148.07 L668.9,148.43 L669.13,148.76 L669.36,149.06 L669.59,149.3 L669.82,149.48 L670.05,149.58 L670.28,149.6 L670.51,149.57 L670.74,149.51 L670.96,149.42 L671.19,149.3 L671.42,149.17 L671.65,149.02 L671.88,148.85 L672.11,148.68 L672.34,148.5 L672.57,148.32 L672.8,148.14 L673.03,147.97 L673.26,147.81 L673.49,147.67 L673.72,147.54 L673.95,147.44 L674.17,147.36 L674.4,147.31 L674.63,147.3 L674.86,147.32 L675.09,147.36 L675.32,147.42 L675.55,147.49 L675.78,147.57 L676.01,147.66 L676.24,147.75 L676.47,147.84 L676.7,147.93 L676.93,148 L677.15,148.05 L677.38,148.09 L677.61,148.1 L677.84,148.07 L678.07,148 L678.3,147.88 L678.53,147.72 L678.76,147.53 L678.99,147.31 L679.22,147.05 L679.45,146.78 L679.68,146.48 L679.91,146.17 L680.13,145.84 L680.36,145.5 L680.59,145.16 L680.82,144.82 L681.05,144.48 L681.28,144.14 L681.51,143.81 L681.74,143.5 L681.97,143.2 L682.2,142.93 L682.43,142.68 L682.66,142.46 L682.89,142.27 L683.11,142.11 L683.34,142 L683.57,141.92 L683.8,141.9 L684.03,141.92 L684.26,141.98 L684.49,142.07 L684.72,142.19 L684.95,142.35 L685.18,142.54 L685.41,142.76 L685.64,143.01 L685.87,143.29 L686.09,143.59 L686.32,143.91 L686.55,144.26 L686.78,144.63 L687.01,145.02 L687.24,145.42 L687.47,145.84 L687.7,146.39 L687.93,147.2 L688.16,148.24 L688.39,149.46 L688.62,150.82 L688.85,152.27 L689.07,153.77 L689.3,155.27 L689.53,156.74 L689.76,158.11 L689.99,159.36 L690.22,160.58 L690.45,161.91 L690.68,163.31 L690.91,164.75 L691.14,166.19 L691.37,167.61 L691.6,168.95 L691.83,170.19 L692.05,171.29 L692.28,172.22 L692.51,172.93 L692.74,173.41 L692.97,173.6 L693.2,173.49 L693.43,173.11 L693.66,172.5 L693.89,171.69 L694.12,170.71 L694.35,169.6 L694.58,168.4 L694.81,167.14 L695.03,165.86 L695.26,164.59 L695.49,163.36 L695.72,162.22 L695.95,161.19 L696.18,160.29 L696.41,159.37 L696.64,158.39 L696.87,157.38 L697.1,156.35 L697.33,155.33 L697.56,154.34 L697.79,153.41 L698.01,152.56 L698.24,151.8 L698.47,151.16 L698.7,150.67 L698.93,150.34 L699.16,150.2 L699.39,150.22 L699.62,150.28 L699.85,150.38 L700.08,150.51 L700.31,150.68 L700.54,150.88 L700.77,151.09 L700.99,151.33 L701.22,151.57 L701.45,151.83 L701.68,152.09 L701.91,152.35 L702.14,152.6 L702.37,152.84 L702.6,153.07 L702.83,153.28 L703.06,153.47 L703.29,153.63 L703.52,153.76 L703.75,153.84 L703.97,153.89 L704.2,153.89 L704.43,153.78 L704.66,153.57 L704.89,153.26 L705.12,152.87 L705.35,152.4 L705.58,151.86 L705.81,151.26 L706.04,150.61 L706.27,149.91 L706.5,149.18 L706.73,148.42 L706.95,147.64 L707.18,146.85 L707.41,146.07 L707.64,145.29 L707.87,144.53 L708.1,143.79 L708.33,143.09 L708.56,142.43 L708.79,141.82 L709.02,141.27 L709.25,140.79 L709.48,140.39 L709.71,140.07 L709.93,139.84 L710.16,139.72 L710.39,139.7 L710.62,139.75 L710.85,139.84 L711.08,139.97 L711.31,140.14 L711.54,140.35 L711.77,140.58 L712,140.85 L712.23,141.13 L712.46,141.44 L712.69,141.76 L712.92,142.1 L713.14,142.44 L713.37,142.79 L713.6,143.14 L713.83,143.49 L714.06,143.84 L714.29,144.17 L714.52,144.49 L714.75,144.81 L714.98,145.17 L715.21,145.56 L715.44,145.99 L715.67,146.44 L715.9,146.92 L716.12,147.41 L716.35,147.91 L716.58,148.41 L716.81,148.91 L717.04,149.4 L717.27,149.88 L717.5,150.34 L717.73,150.77 L717.96,151.17 L718.19,151.53 L718.42,151.85 L718.65,152.12 L718.88,152.34 L719.1,152.49 L719.33,152.58 L719.56,152.6 L719.79,152.59 L720.02,152.57 L720.25,152.54 L720.48,152.49 L720.71,152.44 L720.94,152.38 L721.17,152.3 L721.4,152.22 L721.63,152.13 L721.86,152.04 L722.08,151.93 L722.31,151.82 L722.54,151.7 L722.77,151.58 L723,151.45 L723.23,151.32 L723.46,151.18 L723.69,151.04 L723.92,150.9 L724.15,150.76 L724.38,150.61 L724.61,150.46 L724.84,150.31 L725.06,150.16 L725.29,149.99 L725.52,149.82 L725.75,149.62 L725.98,149.42 L726.21,149.2 L726.44,148.96 L726.67,148.72 L726.9,148.46 L727.13,148.18 L727.36,147.9 L727.59,147.6 L727.82,147.29 L728.04,146.97 L728.27,146.64 L728.5,146.3 L728.73,145.94 L728.96,145.58 L729.19,145.21 L729.42,144.82 L729.65,144.43 L729.88,144.03 L730.11,143.62 L730.34,143.2 L730.57,142.77 L730.8,142.34 L731.02,141.89 L731.25,141.45 L731.48,140.99 L731.71,140.53 L731.94,140.06 L732.17,139.58 L732.4,139.1" fill="none" stroke="#000" stroke-width="1.9" stroke-linejoin="round"/>
<path d="M411.5,157.2 L411.77,157.2 L412.03,157.2 L412.3,157.2 L412.57,157.2 L412.84,157.2 L413.11,157.2 L413.37,157.2 L413.64,157.2 L413.91,157.2 L414.17,157.2 L414.44,157.2 L414.71,157.2 L414.98,157.2 L415.25,157.2 L415.51,157.2 L415.78,157.2 L416.05,157.2 L416.31,157.2 L416.58,157.2 L416.85,157.2 L417.12,157.2 L417.38,157.2 L417.65,157.2 L417.92,157.2 L418.19,157.2 L418.45,157.2 L418.72,157.2 L418.99,157.2 L419.26,157.2 L419.52,157.2 L419.79,157.2 L420.06,157.2 L420.33,157.2 L420.6,157.2 L420.86,157.2 L421.13,157.2 L421.4,157.2 L421.66,157.2 L421.93,157.2 L422.2,157.2 L422.47,157.2 L422.74,157.2 L423,157.2 L423.27,157.2 L423.54,157.2 L423.8,157.2 L424.07,157.2 L424.34,157.2 L424.61,157.2 L424.88,157.2 L425.14,157.2 L425.41,157.2 L425.68,157.2 L425.94,157.2 L426.21,157.2 L426.48,157.2 L426.75,157.2 L427.01,157.2 L427.28,157.2 L427.55,157.2 L427.82,157.2 L428.08,157.2 L428.35,157.2 L428.62,157.2 L428.89,157.2 L429.15,157.2 L429.42,157.2 L429.69,157.2 L429.96,157.2 L430.23,157.2 L430.49,157.2 L430.76,157.2 L431.03,157.2 L431.3,157.2 L431.56,157.2 L431.83,157.2 L432.1,157.2 L432.37,157.2 L432.63,157.2 L432.9,157.2 L433.17,157.2 L433.44,157.2 L433.7,157.2 L433.97,157.2 L434.24,157.2 L434.5,157.2 L434.77,157.2 L435.04,157.2 L435.31,157.2 L435.57,157.2 L435.84,157.2 L436.11,157.2 L436.38,157.2 L436.64,157.2 L436.91,157.2 L437.18,157.2 L437.45,157.2 L437.71,157.2 L437.98,157.2 L438.25,157.2 L438.52,157.2 L438.78,157.2 L439.05,157.2 L439.32,157.2 L439.59,157.2 L439.86,157.2 L440.12,157.2 L440.39,157.2 L440.66,157.2 L440.93,157.2 L441.19,157.2 L441.46,157.2 L441.73,157.2 L442,157.2 L442.26,157.2 L442.53,157.2 L442.8,157.2 L443.06,157.2 L443.33,157.2 L443.6,157.2 L443.87,157.2 L444.13,157.2 L444.4,157.2 L444.67,157.2 L444.94,157.2 L445.2,157.2 L445.47,157.2 L445.74,157.2 L446.01,157.2 L446.27,157.2 L446.54,157.2 L446.81,157.2 L447.08,157.2 L447.35,157.2 L447.61,157.2 L447.88,157.2 L448.15,157.2 L448.41,157.2 L448.68,157.2 L448.95,157.2 L449.22,157.2 L449.49,157.2 L449.75,157.2 L450.02,157.2 L450.29,157.2 L450.56,157.2 L450.82,157.2 L451.09,157.2 L451.36,157.2 L451.62,157.2 L451.89,157.2 L452.16,157.2 L452.43,157.2 L452.69,157.2 L452.96,157.2 L453.23,157.2 L453.5,157.2 L453.76,157.2 L454.03,157.2 L454.3,157.2 L454.57,157.2 L454.83,157.2 L455.1,157.2 L455.37,157.2 L455.64,157.2 L455.9,157.2 L456.17,157.2 L456.44,157.2 L456.71,157.2 L456.98,157.2 L457.24,157.2 L457.51,157.2 L457.78,157.2 L458.05,157.2 L458.31,157.2 L458.58,157.2 L458.85,157.2 L459.12,157.2 L459.38,157.2 L459.65,157.2 L459.92,157.2 L460.19,157.2 L460.45,157.2 L460.72,157.2 L460.99,157.2 L461.25,157.2 L461.52,157.2 L461.79,157.2 L462.06,157.2 L462.32,157.2 L462.59,157.2 L462.86,157.2 L463.13,157.2 L463.39,157.2 L463.66,157.2 L463.93,157.2 L464.2,157.2 L464.46,157.2 L464.73,157.2 L465,157.2 L465.27,157.2 L465.53,157.2 L465.8,157.2 L466.07,157.2 L466.34,157.2 L466.61,157.2 L466.87,157.2 L467.14,157.2 L467.41,157.2 L467.68,157.2 L467.94,157.2 L468.21,157.2 L468.48,157.2 L468.75,157.2 L469.01,157.2 L469.28,157.2 L469.55,157.2 L469.81,157.2 L470.08,157.2 L470.35,157.2 L470.62,157.2 L470.88,157.2 L471.15,157.2 L471.42,157.2 L471.69,157.2 L471.95,157.2 L472.22,157.2 L472.49,157.2 L472.76,157.2 L473.02,157.2 L473.29,157.2 L473.56,157.2 L473.83,157.2 L474.1,157.2 L474.36,157.2 L474.63,157.2 L474.9,157.2 L475.16,157.2 L475.43,157.2 L475.7,157.2 L475.97,157.2 L476.24,157.2 L476.5,157.2 L476.77,157.2 L477.04,157.2 L477.31,157.2 L477.57,157.2 L477.84,157.2 L478.11,157.2 L478.38,157.2 L478.64,157.2 L478.91,157.2 L479.18,157.2 L479.44,157.2 L479.71,157.2 L479.98,157.2 L480.25,157.2 L480.51,157.2 L480.78,157.2 L481.05,157.2 L481.32,157.2 L481.58,157.2 L481.85,157.2 L482.12,157.2 L482.39,157.2 L482.65,157.2 L482.92,157.2 L483.19,157.2 L483.46,157.2 L483.73,157.2 L483.99,157.2 L484.26,157.2 L484.53,157.2 L484.79,157.2 L485.06,157.2 L485.33,157.2 L485.6,157.2 L485.87,157.2 L486.13,157.2 L486.4,157.2 L486.67,157.2 L486.94,157.2 L487.2,157.2 L487.47,157.2 L487.74,157.2 L488,157.2 L488.27,157.2 L488.54,157.2 L488.81,157.2 L489.07,157.2 L489.34,157.2 L489.61,157.2 L489.88,157.2 L490.14,157.2 L490.41,157.2 L490.68,157.2 L490.95,157.2 L491.22,157.2 L491.48,157.2 L491.75,157.2 L492.02,157.2 L492.28,157.2 L492.55,157.2 L492.82,157.2 L493.09,157.2 L493.36,157.2 L493.62,157.2 L493.89,157.2 L494.16,157.2 L494.43,157.2 L494.69,157.2 L494.96,157.2 L495.23,157.2 L495.5,157.2 L495.76,157.2 L496.03,157.2 L496.3,157.2 L496.56,157.2 L496.83,157.19 L497.1,157.19 L497.37,157.19 L497.63,157.19 L497.9,157.19 L498.17,157.19 L498.44,157.18 L498.7,157.18 L498.97,157.18 L499.24,157.17 L499.51,157.17 L499.77,157.16 L500.04,157.16 L500.31,157.15 L500.58,157.14 L500.85,157.13 L501.11,157.12 L501.38,157.11 L501.65,157.1 L501.91,157.08 L502.18,157.06 L502.45,157.04 L502.72,157.02 L502.99,156.99 L503.25,156.96 L503.52,156.93 L503.79,156.89 L504.06,156.85 L504.32,156.8 L504.59,156.74 L504.86,156.68 L505.12,156.61 L505.39,156.54 L505.66,156.45 L505.93,156.36 L506.19,156.25 L506.46,156.14 L506.73,156.01 L507,155.87 L507.26,155.71 L507.53,155.54 L507.8,155.36 L508.07,155.15 L508.33,154.93 L508.6,154.69 L508.87,154.42 L509.14,154.13 L509.4,153.82 L509.67,153.48 L509.94,153.12 L510.21,152.72 L510.48,152.3 L510.74,151.85 L511.01,151.36 L511.28,150.84 L511.55,150.28 L511.81,149.69 L512.08,149.06 L512.35,148.39 L512.62,147.69 L512.88,146.94 L513.15,146.15 L513.42,145.32 L513.68,144.46 L513.95,143.55 L514.22,142.6 L514.49,141.61 L514.75,140.58 L515.02,139.51 L515.29,138.4 L515.56,137.26 L515.83,136.08 L516.09,134.88 L516.36,133.64 L516.63,132.37 L516.89,131.08 L517.16,129.76 L517.43,128.43 L517.7,127.08 L517.97,125.72 L518.23,124.36 L518.5,122.99 L518.77,121.62 L519.03,120.26 L519.3,118.92 L519.57,117.58 L519.84,116.27 L520.11,114.99 L520.37,113.74 L520.64,112.52 L520.91,111.34 L521.17,110.22 L521.44,109.14 L521.71,108.12 L521.98,107.16 L522.25,106.27 L522.51,105.45 L522.78,104.7 L523.05,104.03 L523.32,103.43 L523.58,102.93 L523.85,102.5 L524.12,102.17 L524.38,101.92 L524.65,101.77 L524.92,101.7 L525.19,101.73 L525.46,101.85 L525.72,102.06 L525.99,102.36 L526.26,102.75 L526.52,103.22 L526.79,103.78 L527.06,104.42 L527.33,105.14 L527.6,105.93 L527.86,106.8 L528.13,107.73 L528.4,108.73 L528.66,109.78 L528.93,110.89 L529.2,112.04 L529.47,113.24 L529.74,114.48 L530,115.76 L530.27,117.06 L530.54,118.38 L530.8,119.72 L531.07,121.08 L531.34,122.44 L531.61,123.81 L531.88,125.18 L532.14,126.54 L532.41,127.89 L532.68,129.23 L532.94,130.55 L533.21,131.85 L533.48,133.13 L533.75,134.38 L534.01,135.6 L534.28,136.79 L534.55,137.95 L534.82,139.07 L535.09,140.16 L535.35,141.2 L535.62,142.21 L535.89,143.17 L536.15,144.1 L536.42,144.98 L536.69,145.83 L536.96,146.63 L537.23,147.39 L537.49,148.11 L537.76,148.8 L538.03,149.44 L538.29,150.05 L538.56,150.62 L538.83,151.15 L539.1,151.65 L539.37,152.12 L539.63,152.56 L539.9,152.96 L540.17,153.34 L540.43,153.69 L540.7,154.01 L540.97,154.31 L541.24,154.58 L541.5,154.83 L541.77,155.07 L542.04,155.28 L542.31,155.47 L542.58,155.65 L542.84,155.81 L543.11,155.96 L543.38,156.09 L543.64,156.21 L543.91,156.32 L544.18,156.42 L544.45,156.5 L544.72,156.58 L544.98,156.65 L545.25,156.72 L545.52,156.78 L545.78,156.83 L546.05,156.87 L546.32,156.91 L546.59,156.95 L546.86,156.98 L547.12,157.01 L547.39,157.03 L547.66,157.05 L547.92,157.07 L548.19,157.09 L548.46,157.1 L548.73,157.12 L549,157.13 L549.26,157.14 L549.53,157.15 L549.8,157.15 L550.06,157.16 L550.33,157.17 L550.6,157.17 L550.87,157.18 L551.13,157.18 L551.4,157.18 L551.67,157.19 L551.94,157.19 L552.2,157.19 L552.47,157.19 L552.74,157.19 L553.01,157.19 L553.27,157.19 L553.54,157.2 L553.81,157.2 L554.08,157.2 L554.35,157.2 L554.61,157.2 L554.88,157.2 L555.15,157.2 L555.41,157.2 L555.68,157.2 L555.95,157.2 L556.22,157.2 L556.49,157.2 L556.75,157.2 L557.02,157.2 L557.29,157.2 L557.55,157.2 L557.82,157.2 L558.09,157.2 L558.36,157.2 L558.62,157.2 L558.89,157.2 L559.16,157.2 L559.43,157.2 L559.69,157.2 L559.96,157.2 L560.23,157.2 L560.5,157.2 L560.76,157.2 L561.03,157.2 L561.3,157.2 L561.57,157.2 L561.84,157.2 L562.1,157.2 L562.37,157.2 L562.64,157.2 L562.9,157.2 L563.17,157.2 L563.44,157.2 L563.71,157.2 L563.98,157.2 L564.24,157.2 L564.51,157.2 L564.78,157.2 L565.04,157.2 L565.31,157.2 L565.58,157.2 L565.85,157.2 L566.12,157.2 L566.38,157.2 L566.65,157.2 L566.92,157.2 L567.18,157.2 L567.45,157.2 L567.72,157.2 L567.99,157.2 L568.25,157.2 L568.52,157.2 L568.79,157.2 L569.06,157.2 L569.33,157.2 L569.59,157.2 L569.86,157.2 L570.13,157.2 L570.39,157.2 L570.66,157.2 L570.93,157.2 L571.2,157.2 L571.47,157.2 L571.73,157.2 L572,157.2 L572.27,157.2 L572.53,157.2 L572.8,157.2 L573.07,157.2 L573.34,157.2 L573.61,157.2 L573.87,157.2 L574.14,157.2 L574.41,157.2 L574.67,157.2 L574.94,157.2 L575.21,157.2 L575.48,157.2 L575.75,157.2 L576.01,157.2 L576.28,157.2 L576.55,157.2 L576.82,157.2 L577.08,157.2 L577.35,157.2 L577.62,157.2 L577.88,157.2 L578.15,157.2 L578.42,157.2 L578.69,157.2 L578.96,157.2 L579.22,157.2 L579.49,157.2 L579.76,157.2 L580.02,157.2 L580.29,157.2 L580.56,157.2 L580.83,157.2 L581.1,157.2 L581.36,157.2 L581.63,157.2 L581.9,157.2 L582.16,157.2 L582.43,157.2 L582.7,157.2 L582.97,157.2 L583.24,157.2 L583.5,157.2 L583.77,157.2 L584.04,157.2 L584.3,157.2 L584.57,157.2 L584.84,157.2 L585.11,157.2 L585.38,157.2 L585.64,157.2 L585.91,157.2 L586.18,157.2 L586.45,157.2 L586.71,157.2 L586.98,157.2 L587.25,157.2 L587.51,157.2 L587.78,157.2 L588.05,157.2 L588.32,157.2 L588.59,157.2 L588.85,157.2 L589.12,157.2 L589.39,157.2 L589.65,157.2 L589.92,157.2 L590.19,157.2 L590.46,157.2 L590.73,157.2 L590.99,157.2 L591.26,157.2 L591.53,157.19 L591.79,157.19 L592.06,157.19 L592.33,157.19 L592.6,157.19 L592.87,157.19 L593.13,157.18 L593.4,157.18 L593.67,157.18 L593.94,157.17 L594.2,157.17 L594.47,157.16 L594.74,157.16 L595,157.15 L595.27,157.14 L595.54,157.13 L595.81,157.12 L596.08,157.11 L596.34,157.1 L596.61,157.08 L596.88,157.06 L597.14,157.04 L597.41,157.02 L597.68,156.99 L597.95,156.96 L598.22,156.93 L598.48,156.89 L598.75,156.85 L599.02,156.8 L599.28,156.74 L599.55,156.68 L599.82,156.61 L600.09,156.54 L600.36,156.45 L600.62,156.36 L600.89,156.25 L601.16,156.14 L601.42,156.01 L601.69,155.87 L601.96,155.71 L602.23,155.54 L602.5,155.36 L602.76,155.15 L603.03,154.93 L603.3,154.69 L603.57,154.42 L603.83,154.13 L604.1,153.82 L604.37,153.48 L604.63,153.12 L604.9,152.72 L605.17,152.3 L605.44,151.85 L605.71,151.36 L605.97,150.84 L606.24,150.28 L606.51,149.69 L606.77,149.06 L607.04,148.39 L607.31,147.69 L607.58,146.94 L607.85,146.15 L608.11,145.32 L608.38,144.46 L608.65,143.55 L608.91,142.6 L609.18,141.61 L609.45,140.58 L609.72,139.51 L609.99,138.4 L610.25,137.26 L610.52,136.08 L610.79,134.88 L611.06,133.64 L611.32,132.37 L611.59,131.08 L611.86,129.76 L612.12,128.43 L612.39,127.08 L612.66,125.72 L612.93,124.36 L613.2,122.99 L613.46,121.62 L613.73,120.26 L614,118.92 L614.26,117.58 L614.53,116.27 L614.8,114.99 L615.07,113.74 L615.34,112.52 L615.6,111.34 L615.87,110.22 L616.14,109.14 L616.4,108.12 L616.67,107.16 L616.94,106.27 L617.21,105.45 L617.48,104.7 L617.74,104.03 L618.01,103.43 L618.28,102.93 L618.54,102.5 L618.81,102.17 L619.08,101.92 L619.35,101.77 L619.62,101.7 L619.88,101.73 L620.15,101.85 L620.42,102.06 L620.68,102.36 L620.95,102.75 L621.22,103.22 L621.49,103.78 L621.75,104.42 L622.02,105.14 L622.29,105.93 L622.56,106.8 L622.83,107.73 L623.09,108.73 L623.36,109.78 L623.63,110.89 L623.89,112.04 L624.16,113.24 L624.43,114.48 L624.7,115.76 L624.97,117.06 L625.23,118.38 L625.5,119.72 L625.77,121.08 L626.03,122.44 L626.3,123.81 L626.57,125.18 L626.84,126.54 L627.11,127.89 L627.37,129.23 L627.64,130.55 L627.91,131.85 L628.17,133.13 L628.44,134.38 L628.71,135.6 L628.98,136.79 L629.25,137.95 L629.51,139.07 L629.78,140.16 L630.05,141.2 L630.32,142.21 L630.58,143.17 L630.85,144.1 L631.12,144.98 L631.38,145.83 L631.65,146.63 L631.92,147.39 L632.19,148.11 L632.45,148.8 L632.72,149.44 L632.99,150.05 L633.26,150.62 L633.52,151.15 L633.79,151.65 L634.06,152.12 L634.33,152.56 L634.6,152.96 L634.86,153.34 L635.13,153.69 L635.4,154.01 L635.66,154.31 L635.93,154.58 L636.2,154.83 L636.47,155.07 L636.74,155.28 L637,155.47 L637.27,155.65 L637.54,155.81 L637.8,155.96 L638.07,156.09 L638.34,156.21 L638.61,156.32 L638.88,156.42 L639.14,156.5 L639.41,156.58 L639.68,156.65 L639.94,156.72 L640.21,156.78 L640.48,156.83 L640.75,156.87 L641.01,156.91 L641.28,156.95 L641.55,156.98 L641.82,157.01 L642.09,157.03 L642.35,157.05 L642.62,157.07 L642.89,157.09 L643.15,157.1 L643.42,157.12 L643.69,157.13 L643.96,157.14 L644.23,157.15 L644.49,157.15 L644.76,157.16 L645.03,157.17 L645.29,157.17 L645.56,157.18 L645.83,157.18 L646.1,157.18 L646.37,157.19 L646.63,157.19 L646.9,157.19 L647.17,157.19 L647.43,157.19 L647.7,157.19 L647.97,157.19 L648.24,157.2 L648.5,157.2 L648.77,157.2 L649.04,157.2 L649.31,157.2 L649.58,157.2 L649.84,157.2 L650.11,157.2 L650.38,157.2 L650.64,157.2 L650.91,157.2 L651.18,157.2 L651.45,157.2 L651.72,157.2 L651.98,157.2 L652.25,157.2 L652.52,157.2 L652.78,157.2 L653.05,157.2 L653.32,157.2 L653.59,157.2 L653.86,157.2 L654.12,157.2 L654.39,157.2 L654.66,157.2 L654.92,157.2 L655.19,157.2 L655.46,157.2 L655.73,157.2 L656,157.2 L656.26,157.2 L656.53,157.2 L656.8,157.2 L657.06,157.2 L657.33,157.2 L657.6,157.2 L657.87,157.2 L658.13,157.2 L658.4,157.2 L658.67,157.2 L658.94,157.2 L659.21,157.2 L659.47,157.2 L659.74,157.2 L660.01,157.2 L660.27,157.2 L660.54,157.2 L660.81,157.2 L661.08,157.2 L661.35,157.2 L661.61,157.2 L661.88,157.2 L662.15,157.2 L662.41,157.2 L662.68,157.2 L662.95,157.2 L663.22,157.2 L663.49,157.2 L663.75,157.2 L664.02,157.2 L664.29,157.2 L664.55,157.2 L664.82,157.2 L665.09,157.2 L665.36,157.2 L665.62,157.2 L665.89,157.2 L666.16,157.2 L666.43,157.2 L666.7,157.2 L666.96,157.2 L667.23,157.2 L667.5,157.2 L667.76,157.2 L668.03,157.2 L668.3,157.2 L668.57,157.2 L668.84,157.2 L669.1,157.2 L669.37,157.2 L669.64,157.2 L669.9,157.2 L670.17,157.2 L670.44,157.2 L670.71,157.2 L670.98,157.2 L671.24,157.2 L671.51,157.2 L671.78,157.2 L672.05,157.2 L672.31,157.2 L672.58,157.2 L672.85,157.2 L673.12,157.2 L673.38,157.2 L673.65,157.2 L673.92,157.2 L674.19,157.2 L674.45,157.2 L674.72,157.2 L674.99,157.2 L675.25,157.2 L675.52,157.2 L675.79,157.2 L676.06,157.2 L676.33,157.2 L676.59,157.2 L676.86,157.2 L677.13,157.2 L677.39,157.2 L677.66,157.2 L677.93,157.2 L678.2,157.2 L678.47,157.2 L678.73,157.2 L679,157.2 L679.27,157.2 L679.53,157.2 L679.8,157.2 L680.07,157.2 L680.34,157.2 L680.61,157.2 L680.87,157.2 L681.14,157.2 L681.41,157.2 L681.67,157.2 L681.94,157.2 L682.21,157.2 L682.48,157.2 L682.75,157.2 L683.01,157.2 L683.28,157.2 L683.55,157.2 L683.81,157.2 L684.08,157.2 L684.35,157.2 L684.62,157.2 L684.88,157.2 L685.15,157.2 L685.42,157.2 L685.69,157.2 L685.96,157.2 L686.22,157.2 L686.49,157.2 L686.76,157.2 L687.02,157.2 L687.29,157.2 L687.56,157.2 L687.83,157.2 L688.1,157.2 L688.36,157.2 L688.63,157.2 L688.9,157.2 L689.16,157.2 L689.43,157.2 L689.7,157.2 L689.97,157.2 L690.24,157.2 L690.5,157.2 L690.77,157.2 L691.04,157.2 L691.31,157.2 L691.57,157.2 L691.84,157.2 L692.11,157.2 L692.38,157.2 L692.64,157.2 L692.91,157.2 L693.18,157.2 L693.45,157.2 L693.71,157.2 L693.98,157.2 L694.25,157.2 L694.51,157.2 L694.78,157.2 L695.05,157.2 L695.32,157.2 L695.59,157.2 L695.85,157.2 L696.12,157.2 L696.39,157.2 L696.65,157.2 L696.92,157.2 L697.19,157.2 L697.46,157.2 L697.73,157.2 L697.99,157.2 L698.26,157.2 L698.53,157.2 L698.79,157.2 L699.06,157.2 L699.33,157.2 L699.6,157.2 L699.87,157.2 L700.13,157.2 L700.4,157.2 L700.67,157.2 L700.93,157.2 L701.2,157.2 L701.47,157.2 L701.74,157.2 L702,157.2 L702.27,157.2 L702.54,157.2 L702.81,157.2 L703.08,157.2 L703.34,157.2 L703.61,157.2 L703.88,157.2 L704.14,157.2 L704.41,157.2 L704.68,157.2 L704.95,157.2 L705.22,157.2 L705.48,157.2 L705.75,157.2 L706.02,157.2 L706.29,157.2 L706.55,157.2 L706.82,157.2 L707.09,157.2 L707.36,157.2 L707.62,157.2 L707.89,157.2 L708.16,157.2 L708.42,157.2 L708.69,157.2 L708.96,157.2 L709.23,157.2 L709.5,157.2 L709.76,157.2 L710.03,157.2 L710.3,157.2 L710.57,157.2 L710.83,157.2 L711.1,157.2 L711.37,157.2 L711.63,157.2 L711.9,157.2 L712.17,157.2 L712.44,157.2 L712.7,157.2 L712.97,157.2 L713.24,157.2 L713.51,157.2 L713.77,157.2 L714.04,157.2 L714.31,157.2 L714.58,157.2 L714.85,157.2 L715.11,157.2 L715.38,157.2 L715.65,157.2 L715.91,157.2 L716.18,157.2 L716.45,157.2 L716.72,157.2 L716.99,157.2 L717.25,157.2 L717.52,157.2 L717.79,157.2 L718.06,157.2 L718.32,157.2 L718.59,157.2 L718.86,157.2 L719.12,157.2 L719.39,157.2 L719.66,157.2 L719.93,157.2 L720.2,157.2 L720.46,157.2 L720.73,157.2 L721,157.2 L721.26,157.2 L721.53,157.2 L721.8,157.2 L722.07,157.2 L722.34,157.2 L722.6,157.2 L722.87,157.2 L723.14,157.2 L723.4,157.2 L723.67,157.2 L723.94,157.2 L724.21,157.2 L724.48,157.2 L724.74,157.2 L725.01,157.2 L725.28,157.2 L725.55,157.2 L725.81,157.2 L726.08,157.2 L726.35,157.2 L726.62,157.2 L726.88,157.2 L727.15,157.2 L727.42,157.2 L727.68,157.2 L727.95,157.2 L728.22,157.2 L728.49,157.2 L728.75,157.2 L729.02,157.2 L729.29,157.2 L729.56,157.2 L729.83,157.2 L730.09,157.2 L730.36,157.2 L730.63,157.2 L730.89,157.2 L731.16,157.2 L731.43,157.2 L731.7,157.2 L731.96,157.2 L732.23,157.2 L732.5,157.2" fill="none" stroke="#ff0000" stroke-width="2.0" stroke-dasharray="4 2.8" stroke-linejoin="round"/>
<path d="M411.5,157.2 L411.77,157.2 L412.03,157.2 L412.3,157.2 L412.57,157.2 L412.84,157.2 L413.11,157.2 L413.37,157.2 L413.64,157.2 L413.91,157.2 L414.17,157.2 L414.44,157.2 L414.71,157.2 L414.98,157.2 L415.25,157.2 L415.51,157.2 L415.78,157.2 L416.05,157.2 L416.31,157.2 L416.58,157.2 L416.85,157.2 L417.12,157.2 L417.38,157.2 L417.65,157.2 L417.92,157.2 L418.19,157.2 L418.45,157.2 L418.72,157.2 L418.99,157.2 L419.26,157.2 L419.52,157.2 L419.79,157.2 L420.06,157.2 L420.33,157.2 L420.6,157.2 L420.86,157.2 L421.13,157.2 L421.4,157.2 L421.66,157.2 L421.93,157.2 L422.2,157.2 L422.47,157.2 L422.74,157.2 L423,157.2 L423.27,157.2 L423.54,157.2 L423.8,157.2 L424.07,157.2 L424.34,157.2 L424.61,157.2 L424.88,157.2 L425.14,157.2 L425.41,157.2 L425.68,157.2 L425.94,157.2 L426.21,157.2 L426.48,157.2 L426.75,157.2 L427.01,157.2 L427.28,157.2 L427.55,157.2 L427.82,157.2 L428.08,157.2 L428.35,157.2 L428.62,157.2 L428.89,157.2 L429.15,157.2 L429.42,157.2 L429.69,157.2 L429.96,157.2 L430.23,157.2 L430.49,157.2 L430.76,157.2 L431.03,157.2 L431.3,157.2 L431.56,157.2 L431.83,157.2 L432.1,157.2 L432.37,157.2 L432.63,157.2 L432.9,157.2 L433.17,157.2 L433.44,157.2 L433.7,157.2 L433.97,157.2 L434.24,157.2 L434.5,157.2 L434.77,157.2 L435.04,157.2 L435.31,157.2 L435.57,157.2 L435.84,157.2 L436.11,157.2 L436.38,157.2 L436.64,157.2 L436.91,157.2 L437.18,157.2 L437.45,157.2 L437.71,157.2 L437.98,157.2 L438.25,157.2 L438.52,157.2 L438.78,157.2 L439.05,157.2 L439.32,157.2 L439.59,157.2 L439.86,157.2 L440.12,157.2 L440.39,157.2 L440.66,157.2 L440.93,157.2 L441.19,157.2 L441.46,157.2 L441.73,157.2 L442,157.2 L442.26,157.2 L442.53,157.2 L442.8,157.2 L443.06,157.2 L443.33,157.2 L443.6,157.2 L443.87,157.2 L444.13,157.2 L444.4,157.2 L444.67,157.2 L444.94,157.2 L445.2,157.2 L445.47,157.2 L445.74,157.2 L446.01,157.2 L446.27,157.2 L446.54,157.2 L446.81,157.2 L447.08,157.2 L447.35,157.2 L447.61,157.2 L447.88,157.2 L448.15,157.2 L448.41,157.2 L448.68,157.2 L448.95,157.2 L449.22,157.2 L449.49,157.2 L449.75,157.2 L450.02,157.2 L450.29,157.2 L450.56,157.2 L450.82,157.2 L451.09,157.2 L451.36,157.2 L451.62,157.2 L451.89,157.2 L452.16,157.2 L452.43,157.2 L452.69,157.2 L452.96,157.2 L453.23,157.2 L453.5,157.2 L453.76,157.2 L454.03,157.2 L454.3,157.2 L454.57,157.2 L454.83,157.2 L455.1,157.2 L455.37,157.2 L455.64,157.2 L455.9,157.2 L456.17,157.2 L456.44,157.2 L456.71,157.2 L456.98,157.2 L457.24,157.2 L457.51,157.2 L457.78,157.2 L458.05,157.2 L458.31,157.2 L458.58,157.2 L458.85,157.2 L459.12,157.2 L459.38,157.2 L459.65,157.2 L459.92,157.2 L460.19,157.2 L460.45,157.2 L460.72,157.2 L460.99,157.2 L461.25,157.2 L461.52,157.2 L461.79,157.2 L462.06,157.2 L462.32,157.2 L462.59,157.2 L462.86,157.2 L463.13,157.2 L463.39,157.2 L463.66,157.2 L463.93,157.2 L464.2,157.2 L464.46,157.2 L464.73,157.2 L465,157.2 L465.27,157.2 L465.53,157.2 L465.8,157.2 L466.07,157.2 L466.34,157.2 L466.61,157.2 L466.87,157.2 L467.14,157.2 L467.41,157.2 L467.68,157.2 L467.94,157.2 L468.21,157.2 L468.48,157.2 L468.75,157.2 L469.01,157.2 L469.28,157.2 L469.55,157.2 L469.81,157.2 L470.08,157.2 L470.35,157.2 L470.62,157.2 L470.88,157.2 L471.15,157.2 L471.42,157.2 L471.69,157.2 L471.95,157.2 L472.22,157.2 L472.49,157.2 L472.76,157.2 L473.02,157.2 L473.29,157.2 L473.56,157.2 L473.83,157.2 L474.1,157.19 L474.36,157.19 L474.63,157.19 L474.9,157.19 L475.16,157.19 L475.43,157.19 L475.7,157.18 L475.97,157.18 L476.24,157.18 L476.5,157.17 L476.77,157.17 L477.04,157.16 L477.31,157.15 L477.57,157.14 L477.84,157.13 L478.11,157.12 L478.38,157.11 L478.64,157.09 L478.91,157.07 L479.18,157.05 L479.44,157.02 L479.71,157 L479.98,156.96 L480.25,156.92 L480.51,156.88 L480.78,156.83 L481.05,156.77 L481.32,156.7 L481.58,156.63 L481.85,156.54 L482.12,156.44 L482.39,156.33 L482.65,156.21 L482.92,156.07 L483.19,155.91 L483.46,155.73 L483.73,155.54 L483.99,155.31 L484.26,155.07 L484.53,154.79 L484.79,154.49 L485.06,154.15 L485.33,153.77 L485.6,153.36 L485.87,152.9 L486.13,152.4 L486.4,151.84 L486.67,151.24 L486.94,150.58 L487.2,149.86 L487.47,149.08 L487.74,148.23 L488,147.31 L488.27,146.31 L488.54,145.24 L488.81,144.08 L489.07,142.84 L489.34,141.51 L489.61,140.09 L489.88,138.58 L490.14,136.96 L490.41,135.25 L490.68,133.43 L490.95,131.51 L491.22,129.49 L491.48,127.37 L491.75,125.13 L492.02,122.8 L492.28,120.36 L492.55,117.82 L492.82,115.18 L493.09,112.45 L493.36,109.63 L493.62,106.72 L493.89,103.73 L494.16,100.66 L494.43,97.53 L494.69,94.35 L494.96,91.11 L495.23,87.83 L495.5,84.53 L495.76,81.2 L496.03,77.87 L496.3,74.54 L496.56,71.23 L496.83,67.95 L497.1,64.71 L497.37,61.54 L497.63,58.43 L497.9,55.41 L498.17,52.48 L498.44,49.67 L498.7,46.99 L498.97,44.45 L499.24,42.05 L499.51,39.82 L499.77,37.77 L500.04,35.9 L500.31,34.23 L500.58,32.76 L500.85,31.5 L501.11,30.47 L501.38,29.65 L501.65,29.07 L501.91,28.72 L502.18,28.6 L502.45,28.72 L502.72,29.07 L502.99,29.65 L503.25,30.47 L503.52,31.5 L503.79,32.76 L504.06,34.23 L504.32,35.9 L504.59,37.77 L504.86,39.82 L505.12,42.05 L505.39,44.45 L505.66,46.99 L505.93,49.67 L506.19,52.48 L506.46,55.41 L506.73,58.43 L507,61.54 L507.26,64.71 L507.53,67.95 L507.8,71.23 L508.07,74.54 L508.33,77.87 L508.6,81.2 L508.87,84.53 L509.14,87.83 L509.4,91.11 L509.67,94.35 L509.94,97.53 L510.21,100.66 L510.48,103.73 L510.74,106.72 L511.01,109.63 L511.28,112.45 L511.55,115.18 L511.81,117.82 L512.08,120.36 L512.35,122.8 L512.62,125.13 L512.88,127.37 L513.15,129.49 L513.42,131.51 L513.68,133.43 L513.95,135.25 L514.22,136.96 L514.49,138.58 L514.75,140.09 L515.02,141.51 L515.29,142.84 L515.56,144.08 L515.83,145.24 L516.09,146.31 L516.36,147.31 L516.63,148.23 L516.89,149.08 L517.16,149.86 L517.43,150.58 L517.7,151.24 L517.97,151.84 L518.23,152.4 L518.5,152.9 L518.77,153.36 L519.03,153.77 L519.3,154.15 L519.57,154.49 L519.84,154.79 L520.11,155.07 L520.37,155.31 L520.64,155.54 L520.91,155.73 L521.17,155.91 L521.44,156.07 L521.71,156.21 L521.98,156.33 L522.25,156.44 L522.51,156.54 L522.78,156.63 L523.05,156.7 L523.32,156.77 L523.58,156.83 L523.85,156.88 L524.12,156.92 L524.38,156.96 L524.65,157 L524.92,157.02 L525.19,157.05 L525.46,157.07 L525.72,157.09 L525.99,157.11 L526.26,157.12 L526.52,157.13 L526.79,157.14 L527.06,157.15 L527.33,157.16 L527.6,157.17 L527.86,157.17 L528.13,157.18 L528.4,157.18 L528.66,157.18 L528.93,157.19 L529.2,157.19 L529.47,157.19 L529.74,157.19 L530,157.19 L530.27,157.19 L530.54,157.2 L530.8,157.2 L531.07,157.2 L531.34,157.2 L531.61,157.2 L531.88,157.2 L532.14,157.2 L532.41,157.2 L532.68,157.2 L532.94,157.2 L533.21,157.2 L533.48,157.2 L533.75,157.2 L534.01,157.2 L534.28,157.2 L534.55,157.2 L534.82,157.2 L535.09,157.2 L535.35,157.2 L535.62,157.2 L535.89,157.2 L536.15,157.2 L536.42,157.2 L536.69,157.2 L536.96,157.2 L537.23,157.2 L537.49,157.2 L537.76,157.2 L538.03,157.2 L538.29,157.2 L538.56,157.2 L538.83,157.2 L539.1,157.2 L539.37,157.2 L539.63,157.2 L539.9,157.2 L540.17,157.2 L540.43,157.2 L540.7,157.2 L540.97,157.2 L541.24,157.2 L541.5,157.2 L541.77,157.2 L542.04,157.2 L542.31,157.2 L542.58,157.2 L542.84,157.2 L543.11,157.2 L543.38,157.2 L543.64,157.2 L543.91,157.2 L544.18,157.2 L544.45,157.2 L544.72,157.2 L544.98,157.2 L545.25,157.2 L545.52,157.2 L545.78,157.2 L546.05,157.2 L546.32,157.2 L546.59,157.2 L546.86,157.2 L547.12,157.2 L547.39,157.2 L547.66,157.2 L547.92,157.2 L548.19,157.2 L548.46,157.2 L548.73,157.2 L549,157.2 L549.26,157.2 L549.53,157.2 L549.8,157.2 L550.06,157.2 L550.33,157.2 L550.6,157.2 L550.87,157.2 L551.13,157.2 L551.4,157.2 L551.67,157.2 L551.94,157.2 L552.2,157.2 L552.47,157.2 L552.74,157.2 L553.01,157.2 L553.27,157.2 L553.54,157.2 L553.81,157.2 L554.08,157.2 L554.35,157.2 L554.61,157.2 L554.88,157.2 L555.15,157.2 L555.41,157.2 L555.68,157.2 L555.95,157.2 L556.22,157.2 L556.49,157.2 L556.75,157.2 L557.02,157.2 L557.29,157.2 L557.55,157.2 L557.82,157.2 L558.09,157.2 L558.36,157.2 L558.62,157.2 L558.89,157.2 L559.16,157.2 L559.43,157.2 L559.69,157.2 L559.96,157.2 L560.23,157.2 L560.5,157.2 L560.76,157.2 L561.03,157.2 L561.3,157.2 L561.57,157.2 L561.84,157.2 L562.1,157.2 L562.37,157.2 L562.64,157.2 L562.9,157.2 L563.17,157.2 L563.44,157.2 L563.71,157.2 L563.98,157.2 L564.24,157.2 L564.51,157.2 L564.78,157.2 L565.04,157.2 L565.31,157.2 L565.58,157.2 L565.85,157.2 L566.12,157.2 L566.38,157.2 L566.65,157.2 L566.92,157.2 L567.18,157.2 L567.45,157.2 L567.72,157.2 L567.99,157.2 L568.25,157.2 L568.52,157.2 L568.79,157.2 L569.06,157.2 L569.33,157.2 L569.59,157.2 L569.86,157.2 L570.13,157.2 L570.39,157.2 L570.66,157.2 L570.93,157.2 L571.2,157.2 L571.47,157.2 L571.73,157.2 L572,157.2 L572.27,157.2 L572.53,157.2 L572.8,157.2 L573.07,157.2 L573.34,157.2 L573.61,157.2 L573.87,157.2 L574.14,157.2 L574.41,157.2 L574.67,157.2 L574.94,157.2 L575.21,157.2 L575.48,157.2 L575.75,157.2 L576.01,157.2 L576.28,157.2 L576.55,157.2 L576.82,157.2 L577.08,157.2 L577.35,157.2 L577.62,157.2 L577.88,157.2 L578.15,157.2 L578.42,157.2 L578.69,157.2 L578.96,157.2 L579.22,157.2 L579.49,157.2 L579.76,157.2 L580.02,157.2 L580.29,157.2 L580.56,157.2 L580.83,157.2 L581.1,157.2 L581.36,157.2 L581.63,157.2 L581.9,157.2 L582.16,157.2 L582.43,157.2 L582.7,157.2 L582.97,157.2 L583.24,157.2 L583.5,157.2 L583.77,157.2 L584.04,157.2 L584.3,157.2 L584.57,157.2 L584.84,157.2 L585.11,157.2 L585.38,157.2 L585.64,157.2 L585.91,157.2 L586.18,157.2 L586.45,157.2 L586.71,157.2 L586.98,157.2 L587.25,157.2 L587.51,157.2 L587.78,157.2 L588.05,157.2 L588.32,157.2 L588.59,157.2 L588.85,157.2 L589.12,157.2 L589.39,157.2 L589.65,157.2 L589.92,157.2 L590.19,157.2 L590.46,157.2 L590.73,157.2 L590.99,157.2 L591.26,157.2 L591.53,157.2 L591.79,157.2 L592.06,157.2 L592.33,157.2 L592.6,157.2 L592.87,157.2 L593.13,157.2 L593.4,157.2 L593.67,157.2 L593.94,157.2 L594.2,157.2 L594.47,157.2 L594.74,157.2 L595,157.2 L595.27,157.2 L595.54,157.2 L595.81,157.2 L596.08,157.2 L596.34,157.2 L596.61,157.2 L596.88,157.2 L597.14,157.2 L597.41,157.2 L597.68,157.2 L597.95,157.2 L598.22,157.2 L598.48,157.2 L598.75,157.2 L599.02,157.2 L599.28,157.2 L599.55,157.2 L599.82,157.2 L600.09,157.2 L600.36,157.2 L600.62,157.2 L600.89,157.2 L601.16,157.2 L601.42,157.2 L601.69,157.2 L601.96,157.2 L602.23,157.2 L602.5,157.2 L602.76,157.2 L603.03,157.2 L603.3,157.2 L603.57,157.2 L603.83,157.2 L604.1,157.2 L604.37,157.2 L604.63,157.2 L604.9,157.2 L605.17,157.2 L605.44,157.2 L605.71,157.2 L605.97,157.2 L606.24,157.2 L606.51,157.2 L606.77,157.2 L607.04,157.2 L607.31,157.2 L607.58,157.2 L607.85,157.2 L608.11,157.2 L608.38,157.2 L608.65,157.2 L608.91,157.2 L609.18,157.2 L609.45,157.2 L609.72,157.2 L609.99,157.2 L610.25,157.2 L610.52,157.2 L610.79,157.2 L611.06,157.2 L611.32,157.2 L611.59,157.2 L611.86,157.2 L612.12,157.2 L612.39,157.2 L612.66,157.2 L612.93,157.2 L613.2,157.2 L613.46,157.2 L613.73,157.2 L614,157.19 L614.26,157.19 L614.53,157.19 L614.8,157.19 L615.07,157.19 L615.34,157.19 L615.6,157.18 L615.87,157.18 L616.14,157.17 L616.4,157.17 L616.67,157.16 L616.94,157.16 L617.21,157.15 L617.48,157.14 L617.74,157.13 L618.01,157.12 L618.28,157.1 L618.54,157.08 L618.81,157.06 L619.08,157.04 L619.35,157.01 L619.62,156.98 L619.88,156.95 L620.15,156.91 L620.42,156.86 L620.68,156.81 L620.95,156.74 L621.22,156.67 L621.49,156.59 L621.75,156.5 L622.02,156.4 L622.29,156.29 L622.56,156.16 L622.83,156.01 L623.09,155.84 L623.36,155.66 L623.63,155.45 L623.89,155.22 L624.16,154.96 L624.43,154.67 L624.7,154.35 L624.97,154 L625.23,153.61 L625.5,153.18 L625.77,152.7 L626.03,152.18 L626.3,151.61 L626.57,150.98 L626.84,150.3 L627.11,149.56 L627.37,148.75 L627.64,147.87 L627.91,146.92 L628.17,145.89 L628.44,144.79 L628.71,143.6 L628.98,142.32 L629.25,140.96 L629.51,139.5 L629.78,137.94 L630.05,136.29 L630.32,134.53 L630.58,132.68 L630.85,130.72 L631.12,128.65 L631.38,126.48 L631.65,124.21 L631.92,121.83 L632.19,119.36 L632.45,116.78 L632.72,114.1 L632.99,111.33 L633.26,108.47 L633.52,105.53 L633.79,102.51 L634.06,99.42 L634.33,96.27 L634.6,93.06 L634.86,89.8 L635.13,86.51 L635.4,83.2 L635.66,79.87 L635.93,76.53 L636.2,73.21 L636.47,69.91 L636.74,66.65 L637,63.43 L637.27,60.28 L637.54,57.21 L637.8,54.23 L638.07,51.35 L638.34,48.58 L638.61,45.95 L638.88,43.47 L639.14,41.14 L639.41,38.98 L639.68,37 L639.94,35.21 L640.21,33.61 L640.48,32.23 L640.75,31.06 L641.01,30.11 L641.28,29.39 L641.55,28.9 L641.82,28.64 L642.09,28.62 L642.35,28.83 L642.62,29.27 L642.89,29.95 L643.15,30.85 L643.42,31.98 L643.69,33.32 L643.96,34.87 L644.23,36.62 L644.49,38.57 L644.76,40.69 L645.03,42.99 L645.29,45.45 L645.56,48.05 L645.83,50.78 L646.1,53.64 L646.37,56.6 L646.63,59.66 L646.9,62.8 L647.17,66 L647.43,69.26 L647.7,72.55 L647.97,75.87 L648.24,79.2 L648.5,82.53 L648.77,85.85 L649.04,89.15 L649.31,92.41 L649.58,95.63 L649.84,98.79 L650.11,101.9 L650.38,104.93 L650.64,107.89 L650.91,110.77 L651.18,113.55 L651.45,116.25 L651.72,118.85 L651.98,121.35 L652.25,123.74 L652.52,126.04 L652.78,128.23 L653.05,130.31 L653.32,132.29 L653.59,134.17 L653.86,135.95 L654.12,137.62 L654.39,139.19 L654.66,140.67 L654.92,142.06 L655.19,143.35 L655.46,144.56 L655.73,145.68 L656,146.72 L656.26,147.69 L656.53,148.58 L656.8,149.4 L657.06,150.16 L657.33,150.85 L657.6,151.49 L657.87,152.07 L658.13,152.6 L658.4,153.09 L658.67,153.53 L658.94,153.93 L659.21,154.29 L659.47,154.61 L659.74,154.91 L660.01,155.17 L660.27,155.41 L660.54,155.62 L660.81,155.81 L661.08,155.98 L661.35,156.13 L661.61,156.26 L661.88,156.38 L662.15,156.48 L662.41,156.58 L662.68,156.66 L662.95,156.73 L663.22,156.79 L663.49,156.85 L663.75,156.9 L664.02,156.94 L664.29,156.98 L664.55,157.01 L664.82,157.04 L665.09,157.06 L665.36,157.08 L665.62,157.1 L665.89,157.11 L666.16,157.13 L666.43,157.14 L666.7,157.15 L666.96,157.16 L667.23,157.16 L667.5,157.17 L667.76,157.17 L668.03,157.18 L668.3,157.18 L668.57,157.18 L668.84,157.19 L669.1,157.19 L669.37,157.19 L669.64,157.19 L669.9,157.19 L670.17,157.19 L670.44,157.2 L670.71,157.2 L670.98,157.2 L671.24,157.2 L671.51,157.2 L671.78,157.2 L672.05,157.2 L672.31,157.2 L672.58,157.2 L672.85,157.2 L673.12,157.2 L673.38,157.2 L673.65,157.2 L673.92,157.2 L674.19,157.2 L674.45,157.2 L674.72,157.2 L674.99,157.2 L675.25,157.2 L675.52,157.2 L675.79,157.2 L676.06,157.2 L676.33,157.2 L676.59,157.2 L676.86,157.2 L677.13,157.2 L677.39,157.2 L677.66,157.2 L677.93,157.2 L678.2,157.2 L678.47,157.2 L678.73,157.2 L679,157.2 L679.27,157.2 L679.53,157.2 L679.8,157.2 L680.07,157.2 L680.34,157.2 L680.61,157.2 L680.87,157.2 L681.14,157.2 L681.41,157.2 L681.67,157.2 L681.94,157.2 L682.21,157.2 L682.48,157.2 L682.75,157.2 L683.01,157.2 L683.28,157.2 L683.55,157.2 L683.81,157.2 L684.08,157.2 L684.35,157.2 L684.62,157.2 L684.88,157.2 L685.15,157.2 L685.42,157.2 L685.69,157.2 L685.96,157.2 L686.22,157.2 L686.49,157.2 L686.76,157.2 L687.02,157.2 L687.29,157.2 L687.56,157.2 L687.83,157.2 L688.1,157.2 L688.36,157.2 L688.63,157.2 L688.9,157.2 L689.16,157.2 L689.43,157.2 L689.7,157.2 L689.97,157.2 L690.24,157.2 L690.5,157.2 L690.77,157.2 L691.04,157.2 L691.31,157.2 L691.57,157.2 L691.84,157.2 L692.11,157.2 L692.38,157.2 L692.64,157.2 L692.91,157.2 L693.18,157.2 L693.45,157.2 L693.71,157.2 L693.98,157.2 L694.25,157.2 L694.51,157.2 L694.78,157.2 L695.05,157.2 L695.32,157.2 L695.59,157.2 L695.85,157.2 L696.12,157.2 L696.39,157.2 L696.65,157.2 L696.92,157.2 L697.19,157.2 L697.46,157.2 L697.73,157.2 L697.99,157.2 L698.26,157.2 L698.53,157.2 L698.79,157.2 L699.06,157.2 L699.33,157.2 L699.6,157.2 L699.87,157.2 L700.13,157.2 L700.4,157.2 L700.67,157.2 L700.93,157.2 L701.2,157.2 L701.47,157.2 L701.74,157.2 L702,157.2 L702.27,157.2 L702.54,157.2 L702.81,157.2 L703.08,157.2 L703.34,157.2 L703.61,157.2 L703.88,157.2 L704.14,157.2 L704.41,157.2 L704.68,157.2 L704.95,157.2 L705.22,157.2 L705.48,157.2 L705.75,157.2 L706.02,157.2 L706.29,157.2 L706.55,157.2 L706.82,157.2 L707.09,157.2 L707.36,157.2 L707.62,157.2 L707.89,157.2 L708.16,157.2 L708.42,157.2 L708.69,157.2 L708.96,157.2 L709.23,157.2 L709.5,157.2 L709.76,157.2 L710.03,157.2 L710.3,157.2 L710.57,157.2 L710.83,157.2 L711.1,157.2 L711.37,157.2 L711.63,157.2 L711.9,157.2 L712.17,157.2 L712.44,157.2 L712.7,157.2 L712.97,157.2 L713.24,157.2 L713.51,157.2 L713.77,157.2 L714.04,157.2 L714.31,157.2 L714.58,157.2 L714.85,157.2 L715.11,157.2 L715.38,157.2 L715.65,157.2 L715.91,157.2 L716.18,157.2 L716.45,157.2 L716.72,157.2 L716.99,157.2 L717.25,157.2 L717.52,157.2 L717.79,157.2 L718.06,157.2 L718.32,157.2 L718.59,157.2 L718.86,157.2 L719.12,157.2 L719.39,157.2 L719.66,157.2 L719.93,157.2 L720.2,157.2 L720.46,157.2 L720.73,157.2 L721,157.2 L721.26,157.2 L721.53,157.2 L721.8,157.2 L722.07,157.2 L722.34,157.2 L722.6,157.2 L722.87,157.2 L723.14,157.2 L723.4,157.2 L723.67,157.2 L723.94,157.2 L724.21,157.2 L724.48,157.2 L724.74,157.2 L725.01,157.2 L725.28,157.2 L725.55,157.2 L725.81,157.2 L726.08,157.2 L726.35,157.2 L726.62,157.2 L726.88,157.2 L727.15,157.2 L727.42,157.2 L727.68,157.2 L727.95,157.2 L728.22,157.2 L728.49,157.2 L728.75,157.2 L729.02,157.2 L729.29,157.2 L729.56,157.2 L729.83,157.2 L730.09,157.2 L730.36,157.2 L730.63,157.2 L730.89,157.2 L731.16,157.2 L731.43,157.2 L731.7,157.2 L731.96,157.2 L732.23,157.2 L732.5,157.2" fill="none" stroke="#0000ff" stroke-width="2.0" stroke-dasharray="4 2.8" stroke-linejoin="round"/>
<line x1="20" y1="654.7" x2="20" y2="658.3" stroke="#000" stroke-width="1.3"/>
<line x1="60.5" y1="654.7" x2="60.5" y2="658.3" stroke="#000" stroke-width="1.3"/>
<line x1="101" y1="654.7" x2="101" y2="658.3" stroke="#000" stroke-width="1.3"/>
<line x1="141.5" y1="654.7" x2="141.5" y2="658.3" stroke="#000" stroke-width="1.3"/>
<line x1="182" y1="654.7" x2="182" y2="658.3" stroke="#000" stroke-width="1.3"/>
<line x1="222.5" y1="654.7" x2="222.5" y2="658.3" stroke="#000" stroke-width="1.3"/>
<line x1="263" y1="654.7" x2="263" y2="658.3" stroke="#000" stroke-width="1.3"/>
<line x1="303.5" y1="654.7" x2="303.5" y2="658.3" stroke="#000" stroke-width="1.3"/>
<line x1="344" y1="654.7" x2="344" y2="658.3" stroke="#000" stroke-width="1.3"/>
<line x1="40.25" y1="654.7" x2="40.25" y2="657" stroke="#000" stroke-width="1.3"/>
<line x1="80.75" y1="654.7" x2="80.75" y2="657" stroke="#000" stroke-width="1.3"/>
<line x1="121.25" y1="654.7" x2="121.25" y2="657" stroke="#000" stroke-width="1.3"/>
<line x1="161.75" y1="654.7" x2="161.75" y2="657" stroke="#000" stroke-width="1.3"/>
<line x1="202.25" y1="654.7" x2="202.25" y2="657" stroke="#000" stroke-width="1.3"/>
<line x1="242.75" y1="654.7" x2="242.75" y2="657" stroke="#000" stroke-width="1.3"/>
<line x1="283.25" y1="654.7" x2="283.25" y2="657" stroke="#000" stroke-width="1.3"/>
<line x1="323.75" y1="654.7" x2="323.75" y2="657" stroke="#000" stroke-width="1.3"/>
<line x1="19.5" y1="654.7" x2="344.5" y2="654.7" stroke="#555" stroke-width="1.3"/>
<text transform="translate(7.12,675.6) scale(1.0,1.07)" font-size="17" fill="#000">-60</text>
<text transform="translate(47.65,675.6) scale(1.0,1.07)" font-size="17" fill="#000">-45</text>
<text transform="translate(88.12,675.6) scale(1.0,1.07)" font-size="17" fill="#000">-30</text>
<text transform="translate(128.65,675.6) scale(1.0,1.07)" font-size="17" fill="#000">-</text>
<path d="M140.38,675.6 L140.38,662.58 L139.41,662.58 L139.02,663.38 L138.31,664.23 L137.34,664.96 L136.1,665.65 L136.1,667.14 L137.2,666.65 L138.19,666.01 L138.99,665.32 L138.99,675.6 Z" fill="#000"/>
<text transform="translate(143.77,675.6) scale(1.0,1.07)" font-size="17" fill="#000">5</text>
<text transform="translate(176.72,675.6) scale(1.0,1.07)" font-size="17" fill="#000">0</text>
<path d="M218.03,675.6 L218.03,662.58 L217.06,662.58 L216.67,663.38 L215.96,664.23 L214.99,664.96 L213.75,665.65 L213.75,667.14 L214.85,666.65 L215.84,666.01 L216.64,665.32 L216.64,675.6 Z" fill="#000"/>
<text transform="translate(221.42,675.6) scale(1.0,1.07)" font-size="17" fill="#000">5</text>
<text transform="translate(253.01,675.6) scale(1.0,1.07)" font-size="17" fill="#000">30</text>
<text transform="translate(293.66,675.6) scale(1.0,1.07)" font-size="17" fill="#000">45</text>
<text transform="translate(333.9,675.6) scale(1.0,1.07)" font-size="17" fill="#000">60</text>
<path d="M20,643.27 L20.46,643.63 L20.93,643.94 L21.39,644.15 L21.85,644.18 L22.32,644.04 L22.78,643.68 L23.24,642.96 L23.71,641.85 L24.17,640.53 L24.64,639.41 L25.1,638.81 L25.56,638.84 L26.03,639.33 L26.49,639.89 L26.95,640.12 L27.42,639.81 L27.88,639.16 L28.34,638.61 L28.81,638.48 L29.27,638.65 L29.73,638.84 L30.2,638.97 L30.66,639.26 L31.12,639.88 L31.59,640.78 L32.05,641.69 L32.52,642.39 L32.98,642.79 L33.44,642.87 L33.91,642.67 L34.37,642.27 L34.83,641.76 L35.3,641.25 L35.76,640.81 L36.22,640.42 L36.69,640 L37.15,639.51 L37.61,638.98 L38.08,638.42 L38.54,637.71 L39,636.72 L39.47,635.43 L39.93,633.93 L40.39,632.13 L40.86,629.99 L41.32,627.43 L41.79,624.37 L42.25,620.71 L42.71,616.39 L43.18,611.33 L43.64,605.5 L44.1,598.92 L44.57,591.62 L45.03,583.68 L45.49,575.19 L45.96,566.3 L46.42,557.12 L46.88,547.83 L47.35,538.62 L47.81,529.81 L48.27,521.76 L48.74,514.88 L49.2,509.54 L49.67,506.06 L50.13,504.62 L50.59,505.27 L51.06,507.93 L51.52,512.45 L51.98,518.59 L52.45,526.03 L52.91,534.43 L53.37,543.4 L53.84,552.63 L54.3,561.87 L54.76,570.89 L55.23,579.53 L55.69,587.67 L56.15,595.22 L56.62,602.11 L57.08,608.26 L57.55,613.64 L58.01,618.27 L58.47,622.2 L58.94,625.51 L59.4,628.25 L59.86,630.46 L60.33,632.21 L60.79,633.55 L61.25,634.22 L61.72,634.57 L62.18,635 L62.64,635.71 L63.11,636.63 L63.57,637.43 L64.03,637.82 L64.5,637.73 L64.96,637.33 L65.42,636.76 L65.89,636.07 L66.35,635.21 L66.82,634.22 L67.28,633.19 L67.74,632.04 L68.21,630.79 L68.67,629.48 L69.13,628.16 L69.6,626.89 L70.06,625.68 L70.52,624.56 L70.99,623.54 L71.45,622.63 L71.91,621.85 L72.38,621.25 L72.84,620.9 L73.3,620.86 L73.77,621.14 L74.23,621.73 L74.7,622.57 L75.16,623.63 L75.62,624.85 L76.09,626.18 L76.55,627.59 L77.01,629.01 L77.48,630.44 L77.94,631.86 L78.4,633.23 L78.87,634.52 L79.33,635.69 L79.79,636.51 L80.26,637.1 L80.72,637.64 L81.18,638.15 L81.65,638.52 L82.11,638.77 L82.58,639.09 L83.04,639.77 L83.5,640.94 L83.97,642.34 L84.43,643.52 L84.89,644.13 L85.36,644.16 L85.82,643.87 L86.28,643.58 L86.75,643.38 L87.21,643.17 L87.67,642.85 L88.14,642.53 L88.6,642.41 L89.06,642.52 L89.53,642.66 L89.99,642.67 L90.45,642.56 L90.92,642.32 L91.38,641.86 L91.85,641.18 L92.31,640.57 L92.77,640.44 L93.24,640.94 L93.7,641.88 L94.16,642.84 L94.63,643.52 L95.09,643.87 L95.55,643.95 L96.02,643.84 L96.48,643.73 L96.94,643.86 L97.41,644.3 L97.87,644.83 L98.33,645.1 L98.8,644.92 L99.26,644.44 L99.73,643.92 L100.19,643.56 L100.65,643.44 L101.12,643.54 L101.58,643.88 L102.04,644.35 L102.51,644.66 L102.97,644.55 L103.43,644.12 L103.9,643.86 L104.36,644.21 L104.82,645.19 L105.29,646.41 L105.75,647.52 L106.21,648.38 L106.68,648.95 L107.14,649.14 L107.61,648.93 L108.07,648.44 L108.53,647.94 L109,647.73 L109.46,647.92 L109.92,648.32 L110.39,648.39 L110.85,647.61 L111.31,645.89 L111.78,643.82 L112.24,642.22 L112.7,641.46 L113.17,641.29 L113.63,641.18 L114.09,640.89 L114.56,640.66 L115.02,640.94 L115.48,641.8 L115.95,642.79 L116.41,643.36 L116.88,643.31 L117.34,642.86 L117.8,642.4 L118.27,642.22 L118.73,642.4 L119.19,642.89 L119.66,643.39 L120.12,643.51 L120.58,642.99 L121.05,642.01 L121.51,641.05 L121.97,640.55 L122.44,640.7 L122.9,641.43 L123.36,642.56 L123.83,643.8 L124.29,644.8 L124.76,645.3 L125.22,645.28 L125.68,644.93 L126.15,644.48 L126.61,644.19 L127.07,644.3 L127.54,644.87 L128,645.67 L128.46,646.32 L128.93,646.54 L129.39,646.1 L129.85,644.85 L130.32,642.79 L130.78,640.34 L131.24,638.22 L131.71,637.18 L132.17,637.52 L132.64,638.88 L133.1,640.39 L133.56,641.41 L134.03,642.01 L134.49,642.64 L134.95,643.46 L135.42,644.31 L135.88,645.04 L136.34,645.72 L136.81,646.37 L137.27,646.84 L137.73,646.92 L138.2,646.66 L138.66,646.29 L139.12,645.99 L139.59,645.71 L140.05,645.32 L140.52,644.86 L140.98,644.59 L141.44,644.78 L141.91,645.38 L142.37,645.98 L142.83,646.01 L143.3,645.23 L143.76,643.84 L144.22,642.4 L144.69,641.48 L145.15,641.3 L145.61,641.66 L146.08,642.28 L146.54,643.11 L147,644.26 L147.47,645.67 L147.93,647 L148.39,647.85 L148.86,648 L149.32,647.51 L149.79,646.73 L150.25,646.27 L150.71,646.53 L151.18,647.34 L151.64,648.02 L152.1,648.01 L152.57,647.24 L153.03,646.06 L153.49,644.98 L153.96,644.39 L154.42,644.42 L154.88,644.82 L155.35,645.15 L155.81,645.12 L156.27,644.92 L156.74,644.98 L157.2,645.51 L157.67,646.16 L158.13,646.42 L158.59,646.16 L159.06,645.72 L159.52,645.54 L159.98,645.68 L160.45,645.82 L160.91,645.62 L161.37,645 L161.84,644.07 L162.3,643.11 L162.76,642.41 L163.23,642.21 L163.69,642.54 L164.15,643.21 L164.62,643.95 L165.08,644.44 L165.55,644.5 L166.01,644.17 L166.47,643.78 L166.94,643.73 L167.4,644.23 L167.86,645.21 L168.33,646.25 L168.79,646.8 L169.25,646.57 L169.72,645.75 L170.18,644.87 L170.64,644.32 L171.11,644.32 L171.57,644.88 L172.03,645.85 L172.5,646.95 L172.96,647.85 L173.42,648.3 L173.89,648.18 L174.35,647.44 L174.82,646.14 L175.28,644.59 L175.74,643.4 L176.21,643.12 L176.67,643.65 L177.13,644.28 L177.6,644.39 L178.06,644.05 L178.52,643.82 L178.99,644.11 L179.45,644.87 L179.91,645.7 L180.38,646.31 L180.84,646.6 L181.3,646.72 L181.77,646.88 L182.23,647.23 L182.7,647.71 L183.16,647.96 L183.62,647.5 L184.09,646.08 L184.55,643.97 L185.01,641.85 L185.48,640.41 L185.94,640 L186.4,640.54 L186.87,641.43 L187.33,642.03 L187.79,642.18 L188.26,642.39 L188.72,643.28 L189.18,644.9 L189.65,646.55 L190.11,647.35 L190.58,646.99 L191.04,645.89 L191.5,644.81 L191.97,644.14 L192.43,643.89 L192.89,644 L193.36,644.49 L193.82,645.34 L194.28,646.21 L194.75,646.62 L195.21,646.26 L195.67,645.28 L196.14,643.99 L196.6,642.68 L197.06,641.54 L197.53,640.8 L197.99,640.75 L198.45,641.51 L198.92,642.78 L199.38,643.97 L199.85,644.62 L200.31,644.7 L200.77,644.62 L201.24,644.86 L201.7,645.52 L202.16,646.24 L202.63,646.58 L203.09,646.27 L203.55,645.47 L204.02,644.6 L204.48,644.04 L204.94,643.88 L205.41,644.01 L205.87,644.39 L206.33,644.89 L206.8,645.19 L207.26,645.06 L207.73,644.73 L208.19,644.72 L208.65,645.34 L209.12,646.25 L209.58,646.79 L210.04,646.57 L210.51,645.76 L210.97,644.93 L211.43,644.59 L211.9,644.87 L212.36,645.48 L212.82,645.95 L213.29,645.92 L213.75,645.32 L214.21,644.38 L214.68,643.45 L215.14,642.68 L215.61,642 L216.07,641.3 L216.53,640.59 L217,640.05 L217.46,639.91 L217.92,640.22 L218.39,640.8 L218.85,641.31 L219.31,641.66 L219.78,642.03 L220.24,642.72 L220.7,643.81 L221.17,645.07 L221.63,646.14 L222.09,646.7 L222.56,646.73 L223.02,646.44 L223.48,646.13 L223.95,645.97 L224.41,645.88 L224.88,645.62 L225.34,645.05 L225.8,644.28 L226.27,643.62 L226.73,643.24 L227.19,642.99 L227.66,642.56 L228.12,641.84 L228.58,641.04 L229.05,640.46 L229.51,640.24 L229.97,640.42 L230.44,640.97 L230.9,641.66 L231.36,642.11 L231.83,642.18 L232.29,642.15 L232.76,642.36 L233.22,642.87 L233.68,643.47 L234.15,643.96 L234.61,644.19 L235.07,644.09 L235.54,643.55 L236,642.65 L236.46,641.74 L236.93,641.35 L237.39,641.7 L237.85,642.52 L238.32,643.3 L238.78,643.82 L239.24,644.15 L239.71,644.39 L240.17,644.32 L240.64,643.7 L241.1,642.67 L241.56,641.88 L242.03,641.93 L242.49,642.79 L242.95,643.83 L243.42,644.38 L243.88,644.33 L244.34,644 L244.81,643.67 L245.27,643.34 L245.73,643.03 L246.2,642.8 L246.66,642.57 L247.12,642.16 L247.59,641.53 L248.05,641.02 L248.52,641.07 L248.98,641.71 L249.44,642.4 L249.91,642.48 L250.37,641.83 L250.83,641.04 L251.3,640.82 L251.76,641.39 L252.22,642.38 L252.69,643.32 L253.15,644.12 L253.61,645.01 L254.08,646.22 L254.54,647.55 L255,648.39 L255.47,648.2 L255.93,646.99 L256.39,645.28 L256.86,643.69 L257.32,642.57 L257.79,641.96 L258.25,641.81 L258.71,641.99 L259.18,642.26 L259.64,642.36 L260.1,642.13 L260.57,641.69 L261.03,641.33 L261.49,641.35 L261.96,641.79 L262.42,642.41 L262.88,642.88 L263.35,642.99 L263.81,642.81 L264.27,642.5 L264.74,642.22 L265.2,642.05 L265.67,642.06 L266.13,642.31 L266.59,642.7 L267.06,642.94 L267.52,642.76 L267.98,642.19 L268.45,641.48 L268.91,640.92 L269.37,640.63 L269.84,640.61 L270.3,640.81 L270.76,641.2 L271.23,641.72 L271.69,642.22 L272.15,642.6 L272.62,642.86 L273.08,643.17 L273.55,643.7 L274.01,644.44 L274.47,645.14 L274.94,645.54 L275.4,645.59 L275.86,645.48 L276.33,645.35 L276.79,645.15 L277.25,644.76 L277.72,644.3 L278.18,644.03 L278.64,644 L279.11,643.87 L279.57,643.24 L280.03,642.11 L280.5,640.77 L280.96,639.49 L281.42,638.4 L281.89,637.58 L282.35,637.14 L282.82,637.09 L283.28,637.33 L283.74,637.57 L284.21,637.52 L284.67,636.95 L285.13,635.79 L285.6,634.3 L286.06,632.93 L286.52,631.41 L286.99,629.83 L287.45,628.3 L287.91,626.89 L288.38,625.61 L288.84,624.44 L289.3,623.38 L289.77,622.48 L290.23,621.79 L290.7,621.39 L291.16,621.27 L291.62,621.42 L292.09,621.78 L292.55,622.33 L293.01,623.04 L293.48,623.93 L293.94,624.98 L294.4,626.18 L294.87,627.47 L295.33,628.75 L295.79,629.97 L296.26,631.1 L296.72,632.14 L297.18,633.1 L297.65,633.97 L298.11,634.62 L298.58,635.33 L299.04,636.01 L299.5,636.46 L299.97,636.56 L300.43,636.35 L300.89,636.03 L301.36,635.84 L301.82,635.83 L302.28,635.75 L302.75,635.24 L303.21,634.13 L303.67,632.7 L304.14,630.83 L304.6,628.5 L305.06,625.68 L305.53,622.35 L305.99,618.43 L306.45,613.85 L306.92,608.52 L307.38,602.41 L307.85,595.56 L308.31,588.01 L308.77,579.83 L309.24,571.09 L309.7,561.92 L310.16,552.55 L310.63,543.22 L311.09,534.23 L311.55,525.83 L312.02,518.35 L312.48,512.15 L312.94,507.59 L313.41,504.99 L313.87,504.51 L314.33,506.19 L314.8,509.89 L315.26,515.36 L315.73,522.25 L316.19,530.21 L316.65,538.92 L317.12,548.04 L317.58,557.27 L318.04,566.4 L318.51,575.25 L318.97,583.68 L319.43,591.55 L319.9,598.75 L320.36,605.22 L320.82,610.95 L321.29,615.97 L321.75,620.34 L322.21,624.11 L322.68,627.35 L323.14,630.12 L323.61,632.48 L324.07,634.41 L324.53,636.42 L325,637.98 L325.46,639.01 L325.92,639.62 L326.39,639.96 L326.85,640.13 L327.31,640.15 L327.78,639.99 L328.24,639.72 L328.7,639.55 L329.17,639.74 L329.63,640.25 L330.09,640.88 L330.56,641.42 L331.02,641.72 L331.48,641.71 L331.95,641.36 L332.41,640.82 L332.88,640.37 L333.34,640.26 L333.8,640.52 L334.27,640.93 L334.73,641.26 L335.19,641.47 L335.66,641.64 L336.12,641.82 L336.58,642.07 L337.05,642.65 L337.51,643.82 L337.97,645.52 L338.44,647.16 L338.9,648.2 L339.36,648.49 L339.83,648.25 L340.29,647.67 L340.76,646.96 L341.22,646.33 L341.68,645.94 L342.15,645.82 L342.61,645.96 L343.07,646.29 L343.54,646.55 L344,646.31" fill="none" stroke="#000" stroke-width="1.9" stroke-linejoin="round"/>
<path d="M20,644.96 L20.27,644.96 L20.54,644.96 L20.81,644.96 L21.08,644.96 L21.35,644.96 L21.62,644.96 L21.89,644.95 L22.16,644.95 L22.43,644.95 L22.7,644.95 L22.97,644.95 L23.24,644.95 L23.51,644.95 L23.78,644.95 L24.05,644.95 L24.32,644.95 L24.59,644.95 L24.86,644.95 L25.13,644.95 L25.4,644.95 L25.67,644.95 L25.94,644.95 L26.21,644.95 L26.48,644.95 L26.75,644.95 L27.02,644.94 L27.29,644.94 L27.56,644.94 L27.83,644.94 L28.1,644.94 L28.37,644.94 L28.64,644.94 L28.91,644.94 L29.18,644.94 L29.45,644.94 L29.72,644.94 L29.99,644.94 L30.26,644.94 L30.53,644.94 L30.8,644.93 L31.07,644.93 L31.34,644.93 L31.61,644.93 L31.88,644.93 L32.15,644.93 L32.42,644.93 L32.69,644.93 L32.96,644.93 L33.23,644.93 L33.5,644.93 L33.77,644.92 L34.04,644.92 L34.31,644.92 L34.58,644.92 L34.85,644.92 L35.12,644.92 L35.39,644.92 L35.66,644.92 L35.93,644.92 L36.2,644.92 L36.47,644.91 L36.74,644.91 L37.01,644.91 L37.28,644.91 L37.55,644.91 L37.82,644.91 L38.09,644.91 L38.36,644.9 L38.63,644.9 L38.9,644.9 L39.17,644.9 L39.44,644.9 L39.71,644.9 L39.98,644.9 L40.25,644.89 L40.52,644.89 L40.79,644.89 L41.06,644.89 L41.33,644.89 L41.6,644.89 L41.87,644.88 L42.14,644.88 L42.41,644.88 L42.68,644.88 L42.95,644.88 L43.22,644.87 L43.49,644.87 L43.76,644.87 L44.03,644.87 L44.3,644.86 L44.57,644.86 L44.84,644.86 L45.11,644.86 L45.38,644.85 L45.65,644.85 L45.92,644.85 L46.19,644.84 L46.46,644.84 L46.73,644.84 L47,644.84 L47.27,644.83 L47.54,644.83 L47.81,644.83 L48.08,644.82 L48.35,644.82 L48.62,644.81 L48.89,644.81 L49.16,644.81 L49.43,644.8 L49.7,644.8 L49.97,644.79 L50.24,644.79 L50.51,644.78 L50.78,644.78 L51.05,644.77 L51.32,644.77 L51.59,644.76 L51.86,644.76 L52.13,644.75 L52.4,644.75 L52.67,644.74 L52.94,644.73 L53.21,644.73 L53.48,644.72 L53.75,644.71 L54.02,644.7 L54.29,644.69 L54.56,644.69 L54.83,644.68 L55.1,644.67 L55.37,644.66 L55.64,644.65 L55.91,644.63 L56.18,644.62 L56.45,644.61 L56.72,644.59 L56.99,644.58 L57.26,644.56 L57.53,644.54 L57.8,644.52 L58.07,644.5 L58.34,644.48 L58.61,644.45 L58.88,644.42 L59.15,644.38 L59.42,644.34 L59.69,644.3 L59.96,644.25 L60.23,644.19 L60.5,644.13 L60.77,644.05 L61.04,643.97 L61.31,643.88 L61.58,643.77 L61.85,643.66 L62.12,643.52 L62.39,643.37 L62.66,643.2 L62.93,643.02 L63.2,642.81 L63.47,642.58 L63.74,642.32 L64.01,642.04 L64.28,641.73 L64.55,641.39 L64.82,641.02 L65.09,640.61 L65.36,640.17 L65.63,639.7 L65.9,639.2 L66.17,638.66 L66.44,638.09 L66.71,637.48 L66.98,636.84 L67.25,636.17 L67.52,635.47 L67.79,634.75 L68.06,634 L68.33,633.23 L68.6,632.45 L68.87,631.66 L69.14,630.86 L69.41,630.07 L69.68,629.28 L69.95,628.5 L70.22,627.75 L70.49,627.03 L70.76,626.34 L71.03,625.7 L71.3,625.1 L71.57,624.57 L71.84,624.11 L72.11,623.72 L72.38,623.41 L72.65,623.18 L72.92,623.04 L73.19,623 L73.46,623.04 L73.73,623.18 L74,623.41 L74.27,623.72 L74.54,624.11 L74.81,624.57 L75.08,625.1 L75.35,625.7 L75.62,626.34 L75.89,627.03 L76.16,627.75 L76.43,628.5 L76.7,629.28 L76.97,630.07 L77.24,630.86 L77.51,631.66 L77.78,632.45 L78.05,633.23 L78.32,634 L78.59,634.74 L78.86,635.47 L79.13,636.17 L79.4,636.84 L79.67,637.48 L79.94,638.09 L80.21,638.66 L80.48,639.2 L80.75,639.7 L81.02,640.17 L81.29,640.61 L81.56,641.02 L81.83,641.39 L82.1,641.73 L82.37,642.04 L82.64,642.32 L82.91,642.58 L83.18,642.81 L83.45,643.02 L83.72,643.2 L83.99,643.37 L84.26,643.52 L84.53,643.65 L84.8,643.77 L85.07,643.88 L85.34,643.97 L85.61,644.05 L85.88,644.13 L86.15,644.19 L86.42,644.25 L86.69,644.3 L86.96,644.34 L87.23,644.38 L87.5,644.42 L87.77,644.45 L88.04,644.48 L88.31,644.5 L88.58,644.52 L88.85,644.54 L89.12,644.56 L89.39,644.58 L89.66,644.59 L89.93,644.61 L90.2,644.62 L90.47,644.63 L90.74,644.65 L91.01,644.66 L91.28,644.67 L91.55,644.68 L91.82,644.69 L92.09,644.69 L92.36,644.7 L92.63,644.71 L92.9,644.72 L93.17,644.72 L93.44,644.73 L93.71,644.74 L93.98,644.74 L94.25,644.75 L94.52,644.76 L94.79,644.76 L95.06,644.77 L95.33,644.77 L95.6,644.78 L95.87,644.78 L96.14,644.79 L96.41,644.79 L96.68,644.8 L96.95,644.8 L97.22,644.81 L97.49,644.81 L97.76,644.81 L98.03,644.82 L98.3,644.82 L98.57,644.82 L98.84,644.83 L99.11,644.83 L99.38,644.83 L99.65,644.84 L99.92,644.84 L100.19,644.84 L100.46,644.85 L100.73,644.85 L101,644.85 L101.27,644.85 L101.54,644.86 L101.81,644.86 L102.08,644.86 L102.35,644.86 L102.62,644.87 L102.89,644.87 L103.16,644.87 L103.43,644.87 L103.7,644.88 L103.97,644.88 L104.24,644.88 L104.51,644.88 L104.78,644.88 L105.05,644.89 L105.32,644.89 L105.59,644.89 L105.86,644.89 L106.13,644.89 L106.4,644.89 L106.67,644.9 L106.94,644.9 L107.21,644.9 L107.48,644.9 L107.75,644.9 L108.02,644.9 L108.29,644.9 L108.56,644.91 L108.83,644.91 L109.1,644.91 L109.37,644.91 L109.64,644.91 L109.91,644.91 L110.18,644.91 L110.45,644.91 L110.72,644.92 L110.99,644.92 L111.26,644.92 L111.53,644.92 L111.8,644.92 L112.07,644.92 L112.34,644.92 L112.61,644.92 L112.88,644.92 L113.15,644.93 L113.42,644.93 L113.69,644.93 L113.96,644.93 L114.23,644.93 L114.5,644.93 L114.77,644.93 L115.04,644.93 L115.31,644.93 L115.58,644.93 L115.85,644.93 L116.12,644.93 L116.39,644.94 L116.66,644.94 L116.93,644.94 L117.2,644.94 L117.47,644.94 L117.74,644.94 L118.01,644.94 L118.28,644.94 L118.55,644.94 L118.82,644.94 L119.09,644.94 L119.36,644.94 L119.63,644.94 L119.9,644.94 L120.17,644.94 L120.44,644.94 L120.71,644.95 L120.98,644.95 L121.25,644.95 L121.52,644.95 L121.79,644.95 L122.06,644.95 L122.33,644.95 L122.6,644.95 L122.87,644.95 L123.14,644.95 L123.41,644.95 L123.68,644.95 L123.95,644.95 L124.22,644.95 L124.49,644.95 L124.76,644.95 L125.03,644.95 L125.3,644.95 L125.57,644.95 L125.84,644.95 L126.11,644.95 L126.38,644.96 L126.65,644.96 L126.92,644.96 L127.19,644.96 L127.46,644.96 L127.73,644.96 L128,644.96 L128.27,644.96 L128.54,644.96 L128.81,644.96 L129.08,644.96 L129.35,644.96 L129.62,644.96 L129.89,644.96 L130.16,644.96 L130.43,644.96 L130.7,644.96 L130.97,644.96 L131.24,644.96 L131.51,644.96 L131.78,644.96 L132.05,644.96 L132.32,644.96 L132.59,644.96 L132.86,644.96 L133.13,644.96 L133.4,644.96 L133.67,644.96 L133.94,644.96 L134.21,644.96 L134.48,644.96 L134.75,644.96 L135.02,644.97 L135.29,644.97 L135.56,644.97 L135.83,644.97 L136.1,644.97 L136.37,644.97 L136.64,644.97 L136.91,644.97 L137.18,644.97 L137.45,644.97 L137.72,644.97 L137.99,644.97 L138.26,644.97 L138.53,644.97 L138.8,644.97 L139.07,644.97 L139.34,644.97 L139.61,644.97 L139.88,644.97 L140.15,644.97 L140.42,644.97 L140.69,644.97 L140.96,644.97 L141.23,644.97 L141.5,644.97 L141.77,644.97 L142.04,644.97 L142.31,644.97 L142.58,644.97 L142.85,644.97 L143.12,644.97 L143.39,644.97 L143.66,644.97 L143.93,644.97 L144.2,644.97 L144.47,644.97 L144.74,644.97 L145.01,644.97 L145.28,644.97 L145.55,644.97 L145.82,644.97 L146.09,644.97 L146.36,644.97 L146.63,644.97 L146.9,644.97 L147.17,644.97 L147.44,644.97 L147.71,644.97 L147.98,644.97 L148.25,644.97 L148.52,644.97 L148.79,644.97 L149.06,644.97 L149.33,644.97 L149.6,644.97 L149.87,644.97 L150.14,644.97 L150.41,644.97 L150.68,644.97 L150.95,644.98 L151.22,644.98 L151.49,644.98 L151.76,644.98 L152.03,644.98 L152.3,644.98 L152.57,644.98 L152.84,644.98 L153.11,644.98 L153.38,644.98 L153.65,644.98 L153.92,644.98 L154.19,644.98 L154.46,644.98 L154.73,644.98 L155,644.98 L155.27,644.98 L155.54,644.98 L155.81,644.98 L156.08,644.98 L156.35,644.98 L156.62,644.98 L156.89,644.98 L157.16,644.98 L157.43,644.98 L157.7,644.98 L157.97,644.98 L158.24,644.98 L158.51,644.98 L158.78,644.98 L159.05,644.98 L159.32,644.98 L159.59,644.98 L159.86,644.98 L160.13,644.98 L160.4,644.98 L160.67,644.98 L160.94,644.98 L161.21,644.98 L161.48,644.98 L161.75,644.98 L162.02,644.98 L162.29,644.98 L162.56,644.98 L162.83,644.98 L163.1,644.98 L163.37,644.98 L163.64,644.98 L163.91,644.98 L164.18,644.98 L164.45,644.98 L164.72,644.98 L164.99,644.98 L165.26,644.98 L165.53,644.98 L165.8,644.98 L166.07,644.98 L166.34,644.98 L166.61,644.98 L166.88,644.98 L167.15,644.98 L167.42,644.98 L167.69,644.98 L167.96,644.98 L168.23,644.98 L168.5,644.98 L168.77,644.98 L169.04,644.98 L169.31,644.98 L169.58,644.98 L169.85,644.98 L170.12,644.98 L170.39,644.98 L170.66,644.98 L170.93,644.98 L171.2,644.98 L171.47,644.98 L171.74,644.98 L172.01,644.98 L172.28,644.98 L172.55,644.98 L172.82,644.98 L173.09,644.98 L173.36,644.98 L173.63,644.98 L173.9,644.98 L174.17,644.98 L174.44,644.98 L174.71,644.98 L174.98,644.98 L175.25,644.98 L175.52,644.98 L175.79,644.98 L176.06,644.98 L176.33,644.98 L176.6,644.98 L176.87,644.98 L177.14,644.98 L177.41,644.98 L177.68,644.98 L177.95,644.98 L178.22,644.98 L178.49,644.98 L178.76,644.98 L179.03,644.98 L179.3,644.98 L179.57,644.98 L179.84,644.98 L180.11,644.98 L180.38,644.98 L180.65,644.98 L180.92,644.98 L181.19,644.98 L181.46,644.98 L181.73,644.98 L182,644.98 L182.27,644.98 L182.54,644.98 L182.81,644.98 L183.08,644.98 L183.35,644.98 L183.62,644.98 L183.89,644.98 L184.16,644.98 L184.43,644.98 L184.7,644.98 L184.97,644.98 L185.24,644.98 L185.51,644.98 L185.78,644.98 L186.05,644.98 L186.32,644.98 L186.59,644.98 L186.86,644.98 L187.13,644.98 L187.4,644.98 L187.67,644.98 L187.94,644.98 L188.21,644.98 L188.48,644.98 L188.75,644.98 L189.02,644.98 L189.29,644.98 L189.56,644.98 L189.83,644.98 L190.1,644.98 L190.37,644.98 L190.64,644.98 L190.91,644.98 L191.18,644.98 L191.45,644.98 L191.72,644.98 L191.99,644.98 L192.26,644.98 L192.53,644.98 L192.8,644.98 L193.07,644.98 L193.34,644.98 L193.61,644.98 L193.88,644.98 L194.15,644.98 L194.42,644.98 L194.69,644.98 L194.96,644.98 L195.23,644.98 L195.5,644.98 L195.77,644.98 L196.04,644.98 L196.31,644.98 L196.58,644.98 L196.85,644.98 L197.12,644.98 L197.39,644.98 L197.66,644.98 L197.93,644.98 L198.2,644.98 L198.47,644.98 L198.74,644.98 L199.01,644.98 L199.28,644.98 L199.55,644.98 L199.82,644.98 L200.09,644.98 L200.36,644.98 L200.63,644.98 L200.9,644.98 L201.17,644.98 L201.44,644.98 L201.71,644.98 L201.98,644.98 L202.25,644.98 L202.52,644.98 L202.79,644.98 L203.06,644.98 L203.33,644.98 L203.6,644.98 L203.87,644.98 L204.14,644.98 L204.41,644.98 L204.68,644.98 L204.95,644.98 L205.22,644.98 L205.49,644.98 L205.76,644.98 L206.03,644.98 L206.3,644.98 L206.57,644.98 L206.84,644.98 L207.11,644.98 L207.38,644.98 L207.65,644.98 L207.92,644.98 L208.19,644.98 L208.46,644.98 L208.73,644.98 L209,644.98 L209.27,644.98 L209.54,644.98 L209.81,644.98 L210.08,644.98 L210.35,644.98 L210.62,644.98 L210.89,644.98 L211.16,644.98 L211.43,644.98 L211.7,644.98 L211.97,644.98 L212.24,644.98 L212.51,644.98 L212.78,644.98 L213.05,644.98 L213.32,644.98 L213.59,644.97 L213.86,644.97 L214.13,644.97 L214.4,644.97 L214.67,644.97 L214.94,644.97 L215.21,644.97 L215.48,644.97 L215.75,644.97 L216.02,644.97 L216.29,644.97 L216.56,644.97 L216.83,644.97 L217.1,644.97 L217.37,644.97 L217.64,644.97 L217.91,644.97 L218.18,644.97 L218.45,644.97 L218.72,644.97 L218.99,644.97 L219.26,644.97 L219.53,644.97 L219.8,644.97 L220.07,644.97 L220.34,644.97 L220.61,644.97 L220.88,644.97 L221.15,644.97 L221.42,644.97 L221.69,644.97 L221.96,644.97 L222.23,644.97 L222.5,644.97 L222.77,644.97 L223.04,644.97 L223.31,644.97 L223.58,644.97 L223.85,644.97 L224.12,644.97 L224.39,644.97 L224.66,644.97 L224.93,644.97 L225.2,644.97 L225.47,644.97 L225.74,644.97 L226.01,644.97 L226.28,644.97 L226.55,644.97 L226.82,644.97 L227.09,644.97 L227.36,644.97 L227.63,644.97 L227.9,644.97 L228.17,644.97 L228.44,644.97 L228.71,644.97 L228.98,644.97 L229.25,644.97 L229.52,644.96 L229.79,644.96 L230.06,644.96 L230.33,644.96 L230.6,644.96 L230.87,644.96 L231.14,644.96 L231.41,644.96 L231.68,644.96 L231.95,644.96 L232.22,644.96 L232.49,644.96 L232.76,644.96 L233.03,644.96 L233.3,644.96 L233.57,644.96 L233.84,644.96 L234.11,644.96 L234.38,644.96 L234.65,644.96 L234.92,644.96 L235.19,644.96 L235.46,644.96 L235.73,644.96 L236,644.96 L236.27,644.96 L236.54,644.96 L236.81,644.96 L237.08,644.96 L237.35,644.96 L237.62,644.96 L237.89,644.96 L238.16,644.95 L238.43,644.95 L238.7,644.95 L238.97,644.95 L239.24,644.95 L239.51,644.95 L239.78,644.95 L240.05,644.95 L240.32,644.95 L240.59,644.95 L240.86,644.95 L241.13,644.95 L241.4,644.95 L241.67,644.95 L241.94,644.95 L242.21,644.95 L242.48,644.95 L242.75,644.95 L243.02,644.95 L243.29,644.95 L243.56,644.95 L243.83,644.94 L244.1,644.94 L244.37,644.94 L244.64,644.94 L244.91,644.94 L245.18,644.94 L245.45,644.94 L245.72,644.94 L245.99,644.94 L246.26,644.94 L246.53,644.94 L246.8,644.94 L247.07,644.94 L247.34,644.94 L247.61,644.94 L247.88,644.94 L248.15,644.93 L248.42,644.93 L248.69,644.93 L248.96,644.93 L249.23,644.93 L249.5,644.93 L249.77,644.93 L250.04,644.93 L250.31,644.93 L250.58,644.93 L250.85,644.93 L251.12,644.93 L251.39,644.92 L251.66,644.92 L251.93,644.92 L252.2,644.92 L252.47,644.92 L252.74,644.92 L253.01,644.92 L253.28,644.92 L253.55,644.92 L253.82,644.91 L254.09,644.91 L254.36,644.91 L254.63,644.91 L254.9,644.91 L255.17,644.91 L255.44,644.91 L255.71,644.91 L255.98,644.9 L256.25,644.9 L256.52,644.9 L256.79,644.9 L257.06,644.9 L257.33,644.9 L257.6,644.9 L257.87,644.89 L258.14,644.89 L258.41,644.89 L258.68,644.89 L258.95,644.89 L259.22,644.89 L259.49,644.88 L259.76,644.88 L260.03,644.88 L260.3,644.88 L260.57,644.88 L260.84,644.87 L261.11,644.87 L261.38,644.87 L261.65,644.87 L261.92,644.86 L262.19,644.86 L262.46,644.86 L262.73,644.86 L263,644.85 L263.27,644.85 L263.54,644.85 L263.81,644.85 L264.08,644.84 L264.35,644.84 L264.62,644.84 L264.89,644.83 L265.16,644.83 L265.43,644.83 L265.7,644.82 L265.97,644.82 L266.24,644.82 L266.51,644.81 L266.78,644.81 L267.05,644.81 L267.32,644.8 L267.59,644.8 L267.86,644.79 L268.13,644.79 L268.4,644.78 L268.67,644.78 L268.94,644.77 L269.21,644.77 L269.48,644.76 L269.75,644.76 L270.02,644.75 L270.29,644.74 L270.56,644.74 L270.83,644.73 L271.1,644.72 L271.37,644.72 L271.64,644.71 L271.91,644.7 L272.18,644.69 L272.45,644.69 L272.72,644.68 L272.99,644.67 L273.26,644.66 L273.53,644.65 L273.8,644.63 L274.07,644.62 L274.34,644.61 L274.61,644.59 L274.88,644.58 L275.15,644.56 L275.42,644.54 L275.69,644.52 L275.96,644.5 L276.23,644.48 L276.5,644.45 L276.77,644.42 L277.04,644.38 L277.31,644.34 L277.58,644.3 L277.85,644.25 L278.12,644.19 L278.39,644.13 L278.66,644.05 L278.93,643.97 L279.2,643.88 L279.47,643.77 L279.74,643.65 L280.01,643.52 L280.28,643.37 L280.55,643.2 L280.82,643.02 L281.09,642.81 L281.36,642.58 L281.63,642.32 L281.9,642.04 L282.17,641.73 L282.44,641.39 L282.71,641.02 L282.98,640.61 L283.25,640.17 L283.52,639.7 L283.79,639.2 L284.06,638.66 L284.33,638.09 L284.6,637.48 L284.87,636.84 L285.14,636.17 L285.41,635.47 L285.68,634.74 L285.95,634 L286.22,633.23 L286.49,632.45 L286.76,631.66 L287.03,630.86 L287.3,630.07 L287.57,629.28 L287.84,628.5 L288.11,627.75 L288.38,627.03 L288.65,626.34 L288.92,625.7 L289.19,625.1 L289.46,624.57 L289.73,624.11 L290,623.72 L290.27,623.41 L290.54,623.18 L290.81,623.04 L291.08,623 L291.35,623.04 L291.62,623.18 L291.89,623.41 L292.16,623.72 L292.43,624.11 L292.7,624.57 L292.97,625.1 L293.24,625.7 L293.51,626.34 L293.78,627.03 L294.05,627.75 L294.32,628.5 L294.59,629.28 L294.86,630.07 L295.13,630.86 L295.4,631.66 L295.67,632.45 L295.94,633.23 L296.21,634 L296.48,634.75 L296.75,635.47 L297.02,636.17 L297.29,636.84 L297.56,637.48 L297.83,638.09 L298.1,638.66 L298.37,639.2 L298.64,639.7 L298.91,640.17 L299.18,640.61 L299.45,641.02 L299.72,641.39 L299.99,641.73 L300.26,642.04 L300.53,642.32 L300.8,642.58 L301.07,642.81 L301.34,643.02 L301.61,643.2 L301.88,643.37 L302.15,643.52 L302.42,643.66 L302.69,643.77 L302.96,643.88 L303.23,643.97 L303.5,644.05 L303.77,644.13 L304.04,644.19 L304.31,644.25 L304.58,644.3 L304.85,644.34 L305.12,644.38 L305.39,644.42 L305.66,644.45 L305.93,644.48 L306.2,644.5 L306.47,644.52 L306.74,644.54 L307.01,644.56 L307.28,644.58 L307.55,644.59 L307.82,644.61 L308.09,644.62 L308.36,644.63 L308.63,644.65 L308.9,644.66 L309.17,644.67 L309.44,644.68 L309.71,644.69 L309.98,644.69 L310.25,644.7 L310.52,644.71 L310.79,644.72 L311.06,644.73 L311.33,644.73 L311.6,644.74 L311.87,644.75 L312.14,644.75 L312.41,644.76 L312.68,644.76 L312.95,644.77 L313.22,644.77 L313.49,644.78 L313.76,644.78 L314.03,644.79 L314.3,644.79 L314.57,644.8 L314.84,644.8 L315.11,644.81 L315.38,644.81 L315.65,644.81 L315.92,644.82 L316.19,644.82 L316.46,644.83 L316.73,644.83 L317,644.83 L317.27,644.84 L317.54,644.84 L317.81,644.84 L318.08,644.84 L318.35,644.85 L318.62,644.85 L318.89,644.85 L319.16,644.86 L319.43,644.86 L319.7,644.86 L319.97,644.86 L320.24,644.87 L320.51,644.87 L320.78,644.87 L321.05,644.87 L321.32,644.88 L321.59,644.88 L321.86,644.88 L322.13,644.88 L322.4,644.88 L322.67,644.89 L322.94,644.89 L323.21,644.89 L323.48,644.89 L323.75,644.89 L324.02,644.89 L324.29,644.9 L324.56,644.9 L324.83,644.9 L325.1,644.9 L325.37,644.9 L325.64,644.9 L325.91,644.9 L326.18,644.91 L326.45,644.91 L326.72,644.91 L326.99,644.91 L327.26,644.91 L327.53,644.91 L327.8,644.91 L328.07,644.92 L328.34,644.92 L328.61,644.92 L328.88,644.92 L329.15,644.92 L329.42,644.92 L329.69,644.92 L329.96,644.92 L330.23,644.92 L330.5,644.92 L330.77,644.93 L331.04,644.93 L331.31,644.93 L331.58,644.93 L331.85,644.93 L332.12,644.93 L332.39,644.93 L332.66,644.93 L332.93,644.93 L333.2,644.93 L333.47,644.93 L333.74,644.94 L334.01,644.94 L334.28,644.94 L334.55,644.94 L334.82,644.94 L335.09,644.94 L335.36,644.94 L335.63,644.94 L335.9,644.94 L336.17,644.94 L336.44,644.94 L336.71,644.94 L336.98,644.94 L337.25,644.94 L337.52,644.95 L337.79,644.95 L338.06,644.95 L338.33,644.95 L338.6,644.95 L338.87,644.95 L339.14,644.95 L339.41,644.95 L339.68,644.95 L339.95,644.95 L340.22,644.95 L340.49,644.95 L340.76,644.95 L341.03,644.95 L341.3,644.95 L341.57,644.95 L341.84,644.95 L342.11,644.95 L342.38,644.95 L342.65,644.96 L342.92,644.96 L343.19,644.96 L343.46,644.96 L343.73,644.96 L344,644.96" fill="none" stroke="#ff0000" stroke-width="2.0" stroke-dasharray="4 2.8" stroke-linejoin="round"/>
<path d="M20,644.09 L20.27,644.07 L20.54,644.05 L20.81,644.04 L21.08,644.02 L21.35,644 L21.62,643.99 L21.89,643.97 L22.16,643.95 L22.43,643.93 L22.7,643.91 L22.97,643.89 L23.24,643.87 L23.51,643.85 L23.78,643.82 L24.05,643.8 L24.32,643.78 L24.59,643.75 L24.86,643.73 L25.13,643.7 L25.4,643.68 L25.67,643.65 L25.94,643.62 L26.21,643.59 L26.48,643.56 L26.75,643.53 L27.02,643.5 L27.29,643.47 L27.56,643.43 L27.83,643.4 L28.1,643.36 L28.37,643.32 L28.64,643.28 L28.91,643.24 L29.18,643.2 L29.45,643.16 L29.72,643.11 L29.99,643.07 L30.26,643.02 L30.53,642.97 L30.8,642.92 L31.07,642.86 L31.34,642.81 L31.61,642.75 L31.88,642.69 L32.15,642.63 L32.42,642.56 L32.69,642.49 L32.96,642.42 L33.23,642.34 L33.5,642.27 L33.77,642.18 L34.04,642.1 L34.31,642 L34.58,641.91 L34.85,641.81 L35.12,641.7 L35.39,641.58 L35.66,641.45 L35.93,641.32 L36.2,641.18 L36.47,641.02 L36.74,640.85 L37.01,640.66 L37.28,640.46 L37.55,640.23 L37.82,639.98 L38.09,639.7 L38.36,639.38 L38.63,639.03 L38.9,638.64 L39.17,638.2 L39.44,637.7 L39.71,637.14 L39.98,636.5 L40.25,635.79 L40.52,634.98 L40.79,634.07 L41.06,633.06 L41.33,631.91 L41.6,630.64 L41.87,629.21 L42.14,627.63 L42.41,625.87 L42.68,623.93 L42.95,621.79 L43.22,619.45 L43.49,616.89 L43.76,614.11 L44.03,611.1 L44.3,607.86 L44.57,604.39 L44.84,600.68 L45.11,596.75 L45.38,592.6 L45.65,588.25 L45.92,583.7 L46.19,578.99 L46.46,574.13 L46.73,569.15 L47,564.09 L47.27,558.99 L47.54,553.89 L47.81,548.83 L48.08,543.87 L48.35,539.07 L48.62,534.49 L48.89,530.18 L49.16,526.21 L49.43,522.66 L49.7,519.58 L49.97,517.04 L50.24,515.08 L50.51,513.75 L50.78,513.07 L51.05,513.07 L51.32,513.75 L51.59,515.08 L51.86,517.04 L52.13,519.58 L52.4,522.66 L52.67,526.21 L52.94,530.18 L53.21,534.48 L53.48,539.07 L53.75,543.87 L54.02,548.83 L54.29,553.89 L54.56,558.99 L54.83,564.09 L55.1,569.15 L55.37,574.13 L55.64,578.99 L55.91,583.7 L56.18,588.25 L56.45,592.6 L56.72,596.75 L56.99,600.68 L57.26,604.38 L57.53,607.86 L57.8,611.1 L58.07,614.11 L58.34,616.89 L58.61,619.45 L58.88,621.79 L59.15,623.92 L59.42,625.87 L59.69,627.62 L59.96,629.21 L60.23,630.63 L60.5,631.91 L60.77,633.05 L61.04,634.07 L61.31,634.98 L61.58,635.78 L61.85,636.5 L62.12,637.13 L62.39,637.7 L62.66,638.19 L62.93,638.64 L63.2,639.03 L63.47,639.38 L63.74,639.69 L64.01,639.97 L64.28,640.23 L64.55,640.45 L64.82,640.66 L65.09,640.85 L65.36,641.02 L65.63,641.17 L65.9,641.32 L66.17,641.45 L66.44,641.58 L66.71,641.69 L66.98,641.8 L67.25,641.9 L67.52,642 L67.79,642.09 L68.06,642.18 L68.33,642.26 L68.6,642.34 L68.87,642.42 L69.14,642.49 L69.41,642.56 L69.68,642.62 L69.95,642.69 L70.22,642.75 L70.49,642.8 L70.76,642.86 L71.03,642.91 L71.3,642.97 L71.57,643.02 L71.84,643.06 L72.11,643.11 L72.38,643.15 L72.65,643.2 L72.92,643.24 L73.19,643.28 L73.46,643.32 L73.73,643.36 L74,643.39 L74.27,643.43 L74.54,643.46 L74.81,643.49 L75.08,643.53 L75.35,643.56 L75.62,643.59 L75.89,643.62 L76.16,643.64 L76.43,643.67 L76.7,643.7 L76.97,643.72 L77.24,643.75 L77.51,643.77 L77.78,643.8 L78.05,643.82 L78.32,643.84 L78.59,643.86 L78.86,643.88 L79.13,643.9 L79.4,643.92 L79.67,643.94 L79.94,643.96 L80.21,643.98 L80.48,644 L80.75,644.01 L81.02,644.03 L81.29,644.05 L81.56,644.06 L81.83,644.08 L82.1,644.09 L82.37,644.11 L82.64,644.12 L82.91,644.14 L83.18,644.15 L83.45,644.17 L83.72,644.18 L83.99,644.19 L84.26,644.2 L84.53,644.22 L84.8,644.23 L85.07,644.24 L85.34,644.25 L85.61,644.26 L85.88,644.27 L86.15,644.28 L86.42,644.29 L86.69,644.3 L86.96,644.31 L87.23,644.32 L87.5,644.33 L87.77,644.34 L88.04,644.35 L88.31,644.36 L88.58,644.37 L88.85,644.38 L89.12,644.39 L89.39,644.39 L89.66,644.4 L89.93,644.41 L90.2,644.42 L90.47,644.43 L90.74,644.43 L91.01,644.44 L91.28,644.45 L91.55,644.45 L91.82,644.46 L92.09,644.47 L92.36,644.47 L92.63,644.48 L92.9,644.49 L93.17,644.49 L93.44,644.5 L93.71,644.5 L93.98,644.51 L94.25,644.52 L94.52,644.52 L94.79,644.53 L95.06,644.53 L95.33,644.54 L95.6,644.54 L95.87,644.55 L96.14,644.55 L96.41,644.56 L96.68,644.56 L96.95,644.57 L97.22,644.57 L97.49,644.58 L97.76,644.58 L98.03,644.59 L98.3,644.59 L98.57,644.6 L98.84,644.6 L99.11,644.6 L99.38,644.61 L99.65,644.61 L99.92,644.62 L100.19,644.62 L100.46,644.62 L100.73,644.63 L101,644.63 L101.27,644.63 L101.54,644.64 L101.81,644.64 L102.08,644.65 L102.35,644.65 L102.62,644.65 L102.89,644.66 L103.16,644.66 L103.43,644.66 L103.7,644.67 L103.97,644.67 L104.24,644.67 L104.51,644.67 L104.78,644.68 L105.05,644.68 L105.32,644.68 L105.59,644.69 L105.86,644.69 L106.13,644.69 L106.4,644.69 L106.67,644.7 L106.94,644.7 L107.21,644.7 L107.48,644.7 L107.75,644.71 L108.02,644.71 L108.29,644.71 L108.56,644.71 L108.83,644.72 L109.1,644.72 L109.37,644.72 L109.64,644.72 L109.91,644.73 L110.18,644.73 L110.45,644.73 L110.72,644.73 L110.99,644.74 L111.26,644.74 L111.53,644.74 L111.8,644.74 L112.07,644.74 L112.34,644.75 L112.61,644.75 L112.88,644.75 L113.15,644.75 L113.42,644.75 L113.69,644.75 L113.96,644.76 L114.23,644.76 L114.5,644.76 L114.77,644.76 L115.04,644.76 L115.31,644.77 L115.58,644.77 L115.85,644.77 L116.12,644.77 L116.39,644.77 L116.66,644.77 L116.93,644.78 L117.2,644.78 L117.47,644.78 L117.74,644.78 L118.01,644.78 L118.28,644.78 L118.55,644.78 L118.82,644.79 L119.09,644.79 L119.36,644.79 L119.63,644.79 L119.9,644.79 L120.17,644.79 L120.44,644.79 L120.71,644.8 L120.98,644.8 L121.25,644.8 L121.52,644.8 L121.79,644.8 L122.06,644.8 L122.33,644.8 L122.6,644.8 L122.87,644.81 L123.14,644.81 L123.41,644.81 L123.68,644.81 L123.95,644.81 L124.22,644.81 L124.49,644.81 L124.76,644.81 L125.03,644.81 L125.3,644.82 L125.57,644.82 L125.84,644.82 L126.11,644.82 L126.38,644.82 L126.65,644.82 L126.92,644.82 L127.19,644.82 L127.46,644.82 L127.73,644.83 L128,644.83 L128.27,644.83 L128.54,644.83 L128.81,644.83 L129.08,644.83 L129.35,644.83 L129.62,644.83 L129.89,644.83 L130.16,644.83 L130.43,644.83 L130.7,644.84 L130.97,644.84 L131.24,644.84 L131.51,644.84 L131.78,644.84 L132.05,644.84 L132.32,644.84 L132.59,644.84 L132.86,644.84 L133.13,644.84 L133.4,644.84 L133.67,644.84 L133.94,644.84 L134.21,644.85 L134.48,644.85 L134.75,644.85 L135.02,644.85 L135.29,644.85 L135.56,644.85 L135.83,644.85 L136.1,644.85 L136.37,644.85 L136.64,644.85 L136.91,644.85 L137.18,644.85 L137.45,644.85 L137.72,644.85 L137.99,644.86 L138.26,644.86 L138.53,644.86 L138.8,644.86 L139.07,644.86 L139.34,644.86 L139.61,644.86 L139.88,644.86 L140.15,644.86 L140.42,644.86 L140.69,644.86 L140.96,644.86 L141.23,644.86 L141.5,644.86 L141.77,644.86 L142.04,644.86 L142.31,644.86 L142.58,644.86 L142.85,644.87 L143.12,644.87 L143.39,644.87 L143.66,644.87 L143.93,644.87 L144.2,644.87 L144.47,644.87 L144.74,644.87 L145.01,644.87 L145.28,644.87 L145.55,644.87 L145.82,644.87 L146.09,644.87 L146.36,644.87 L146.63,644.87 L146.9,644.87 L147.17,644.87 L147.44,644.87 L147.71,644.87 L147.98,644.87 L148.25,644.87 L148.52,644.88 L148.79,644.88 L149.06,644.88 L149.33,644.88 L149.6,644.88 L149.87,644.88 L150.14,644.88 L150.41,644.88 L150.68,644.88 L150.95,644.88 L151.22,644.88 L151.49,644.88 L151.76,644.88 L152.03,644.88 L152.3,644.88 L152.57,644.88 L152.84,644.88 L153.11,644.88 L153.38,644.88 L153.65,644.88 L153.92,644.88 L154.19,644.88 L154.46,644.88 L154.73,644.88 L155,644.88 L155.27,644.88 L155.54,644.88 L155.81,644.88 L156.08,644.88 L156.35,644.88 L156.62,644.89 L156.89,644.89 L157.16,644.89 L157.43,644.89 L157.7,644.89 L157.97,644.89 L158.24,644.89 L158.51,644.89 L158.78,644.89 L159.05,644.89 L159.32,644.89 L159.59,644.89 L159.86,644.89 L160.13,644.89 L160.4,644.89 L160.67,644.89 L160.94,644.89 L161.21,644.89 L161.48,644.89 L161.75,644.89 L162.02,644.89 L162.29,644.89 L162.56,644.89 L162.83,644.89 L163.1,644.89 L163.37,644.89 L163.64,644.89 L163.91,644.89 L164.18,644.89 L164.45,644.89 L164.72,644.89 L164.99,644.89 L165.26,644.89 L165.53,644.89 L165.8,644.89 L166.07,644.89 L166.34,644.89 L166.61,644.89 L166.88,644.89 L167.15,644.89 L167.42,644.89 L167.69,644.89 L167.96,644.89 L168.23,644.89 L168.5,644.89 L168.77,644.89 L169.04,644.89 L169.31,644.89 L169.58,644.89 L169.85,644.89 L170.12,644.89 L170.39,644.9 L170.66,644.9 L170.93,644.9 L171.2,644.9 L171.47,644.9 L171.74,644.9 L172.01,644.9 L172.28,644.9 L172.55,644.9 L172.82,644.9 L173.09,644.9 L173.36,644.9 L173.63,644.9 L173.9,644.9 L174.17,644.9 L174.44,644.9 L174.71,644.9 L174.98,644.9 L175.25,644.9 L175.52,644.9 L175.79,644.9 L176.06,644.9 L176.33,644.9 L176.6,644.9 L176.87,644.9 L177.14,644.9 L177.41,644.9 L177.68,644.9 L177.95,644.9 L178.22,644.9 L178.49,644.9 L178.76,644.9 L179.03,644.9 L179.3,644.9 L179.57,644.9 L179.84,644.9 L180.11,644.9 L180.38,644.9 L180.65,644.9 L180.92,644.9 L181.19,644.9 L181.46,644.9 L181.73,644.9 L182,644.9 L182.27,644.9 L182.54,644.9 L182.81,644.9 L183.08,644.9 L183.35,644.9 L183.62,644.9 L183.89,644.9 L184.16,644.9 L184.43,644.9 L184.7,644.9 L184.97,644.9 L185.24,644.9 L185.51,644.9 L185.78,644.9 L186.05,644.9 L186.32,644.9 L186.59,644.9 L186.86,644.9 L187.13,644.9 L187.4,644.9 L187.67,644.9 L187.94,644.9 L188.21,644.9 L188.48,644.9 L188.75,644.9 L189.02,644.9 L189.29,644.9 L189.56,644.9 L189.83,644.9 L190.1,644.9 L190.37,644.9 L190.64,644.9 L190.91,644.9 L191.18,644.9 L191.45,644.9 L191.72,644.9 L191.99,644.9 L192.26,644.9 L192.53,644.9 L192.8,644.9 L193.07,644.9 L193.34,644.9 L193.61,644.9 L193.88,644.9 L194.15,644.9 L194.42,644.89 L194.69,644.89 L194.96,644.89 L195.23,644.89 L195.5,644.89 L195.77,644.89 L196.04,644.89 L196.31,644.89 L196.58,644.89 L196.85,644.89 L197.12,644.89 L197.39,644.89 L197.66,644.89 L197.93,644.89 L198.2,644.89 L198.47,644.89 L198.74,644.89 L199.01,644.89 L199.28,644.89 L199.55,644.89 L199.82,644.89 L200.09,644.89 L200.36,644.89 L200.63,644.89 L200.9,644.89 L201.17,644.89 L201.44,644.89 L201.71,644.89 L201.98,644.89 L202.25,644.89 L202.52,644.89 L202.79,644.89 L203.06,644.89 L203.33,644.89 L203.6,644.89 L203.87,644.89 L204.14,644.89 L204.41,644.89 L204.68,644.89 L204.95,644.89 L205.22,644.89 L205.49,644.89 L205.76,644.89 L206.03,644.89 L206.3,644.89 L206.57,644.89 L206.84,644.89 L207.11,644.89 L207.38,644.89 L207.65,644.89 L207.92,644.89 L208.19,644.88 L208.46,644.88 L208.73,644.88 L209,644.88 L209.27,644.88 L209.54,644.88 L209.81,644.88 L210.08,644.88 L210.35,644.88 L210.62,644.88 L210.89,644.88 L211.16,644.88 L211.43,644.88 L211.7,644.88 L211.97,644.88 L212.24,644.88 L212.51,644.88 L212.78,644.88 L213.05,644.88 L213.32,644.88 L213.59,644.88 L213.86,644.88 L214.13,644.88 L214.4,644.88 L214.67,644.88 L214.94,644.88 L215.21,644.88 L215.48,644.88 L215.75,644.88 L216.02,644.88 L216.29,644.87 L216.56,644.87 L216.83,644.87 L217.1,644.87 L217.37,644.87 L217.64,644.87 L217.91,644.87 L218.18,644.87 L218.45,644.87 L218.72,644.87 L218.99,644.87 L219.26,644.87 L219.53,644.87 L219.8,644.87 L220.07,644.87 L220.34,644.87 L220.61,644.87 L220.88,644.87 L221.15,644.87 L221.42,644.87 L221.69,644.87 L221.96,644.86 L222.23,644.86 L222.5,644.86 L222.77,644.86 L223.04,644.86 L223.31,644.86 L223.58,644.86 L223.85,644.86 L224.12,644.86 L224.39,644.86 L224.66,644.86 L224.93,644.86 L225.2,644.86 L225.47,644.86 L225.74,644.86 L226.01,644.86 L226.28,644.86 L226.55,644.86 L226.82,644.85 L227.09,644.85 L227.36,644.85 L227.63,644.85 L227.9,644.85 L228.17,644.85 L228.44,644.85 L228.71,644.85 L228.98,644.85 L229.25,644.85 L229.52,644.85 L229.79,644.85 L230.06,644.85 L230.33,644.85 L230.6,644.84 L230.87,644.84 L231.14,644.84 L231.41,644.84 L231.68,644.84 L231.95,644.84 L232.22,644.84 L232.49,644.84 L232.76,644.84 L233.03,644.84 L233.3,644.84 L233.57,644.84 L233.84,644.84 L234.11,644.83 L234.38,644.83 L234.65,644.83 L234.92,644.83 L235.19,644.83 L235.46,644.83 L235.73,644.83 L236,644.83 L236.27,644.83 L236.54,644.83 L236.81,644.83 L237.08,644.82 L237.35,644.82 L237.62,644.82 L237.89,644.82 L238.16,644.82 L238.43,644.82 L238.7,644.82 L238.97,644.82 L239.24,644.82 L239.51,644.81 L239.78,644.81 L240.05,644.81 L240.32,644.81 L240.59,644.81 L240.86,644.81 L241.13,644.81 L241.4,644.81 L241.67,644.81 L241.94,644.8 L242.21,644.8 L242.48,644.8 L242.75,644.8 L243.02,644.8 L243.29,644.8 L243.56,644.8 L243.83,644.8 L244.1,644.79 L244.37,644.79 L244.64,644.79 L244.91,644.79 L245.18,644.79 L245.45,644.79 L245.72,644.79 L245.99,644.78 L246.26,644.78 L246.53,644.78 L246.8,644.78 L247.07,644.78 L247.34,644.78 L247.61,644.78 L247.88,644.77 L248.15,644.77 L248.42,644.77 L248.69,644.77 L248.96,644.77 L249.23,644.77 L249.5,644.76 L249.77,644.76 L250.04,644.76 L250.31,644.76 L250.58,644.76 L250.85,644.75 L251.12,644.75 L251.39,644.75 L251.66,644.75 L251.93,644.75 L252.2,644.75 L252.47,644.74 L252.74,644.74 L253.01,644.74 L253.28,644.74 L253.55,644.74 L253.82,644.73 L254.09,644.73 L254.36,644.73 L254.63,644.73 L254.9,644.72 L255.17,644.72 L255.44,644.72 L255.71,644.72 L255.98,644.71 L256.25,644.71 L256.52,644.71 L256.79,644.71 L257.06,644.7 L257.33,644.7 L257.6,644.7 L257.87,644.7 L258.14,644.69 L258.41,644.69 L258.68,644.69 L258.95,644.69 L259.22,644.68 L259.49,644.68 L259.76,644.68 L260.03,644.67 L260.3,644.67 L260.57,644.67 L260.84,644.67 L261.11,644.66 L261.38,644.66 L261.65,644.66 L261.92,644.65 L262.19,644.65 L262.46,644.65 L262.73,644.64 L263,644.64 L263.27,644.63 L263.54,644.63 L263.81,644.63 L264.08,644.62 L264.35,644.62 L264.62,644.62 L264.89,644.61 L265.16,644.61 L265.43,644.6 L265.7,644.6 L265.97,644.6 L266.24,644.59 L266.51,644.59 L266.78,644.58 L267.05,644.58 L267.32,644.57 L267.59,644.57 L267.86,644.56 L268.13,644.56 L268.4,644.55 L268.67,644.55 L268.94,644.54 L269.21,644.54 L269.48,644.53 L269.75,644.53 L270.02,644.52 L270.29,644.52 L270.56,644.51 L270.83,644.5 L271.1,644.5 L271.37,644.49 L271.64,644.49 L271.91,644.48 L272.18,644.47 L272.45,644.47 L272.72,644.46 L272.99,644.45 L273.26,644.45 L273.53,644.44 L273.8,644.43 L274.07,644.43 L274.34,644.42 L274.61,644.41 L274.88,644.4 L275.15,644.39 L275.42,644.39 L275.69,644.38 L275.96,644.37 L276.23,644.36 L276.5,644.35 L276.77,644.34 L277.04,644.33 L277.31,644.32 L277.58,644.31 L277.85,644.3 L278.12,644.29 L278.39,644.28 L278.66,644.27 L278.93,644.26 L279.2,644.25 L279.47,644.24 L279.74,644.23 L280.01,644.22 L280.28,644.2 L280.55,644.19 L280.82,644.18 L281.09,644.17 L281.36,644.15 L281.63,644.14 L281.9,644.12 L282.17,644.11 L282.44,644.09 L282.71,644.08 L282.98,644.06 L283.25,644.05 L283.52,644.03 L283.79,644.01 L284.06,644 L284.33,643.98 L284.6,643.96 L284.87,643.94 L285.14,643.92 L285.41,643.9 L285.68,643.88 L285.95,643.86 L286.22,643.84 L286.49,643.82 L286.76,643.8 L287.03,643.77 L287.3,643.75 L287.57,643.72 L287.84,643.7 L288.11,643.67 L288.38,643.64 L288.65,643.62 L288.92,643.59 L289.19,643.56 L289.46,643.53 L289.73,643.49 L290,643.46 L290.27,643.43 L290.54,643.39 L290.81,643.36 L291.08,643.32 L291.35,643.28 L291.62,643.24 L291.89,643.2 L292.16,643.15 L292.43,643.11 L292.7,643.06 L292.97,643.02 L293.24,642.97 L293.51,642.91 L293.78,642.86 L294.05,642.8 L294.32,642.75 L294.59,642.69 L294.86,642.62 L295.13,642.56 L295.4,642.49 L295.67,642.42 L295.94,642.34 L296.21,642.26 L296.48,642.18 L296.75,642.09 L297.02,642 L297.29,641.9 L297.56,641.8 L297.83,641.69 L298.1,641.58 L298.37,641.45 L298.64,641.32 L298.91,641.17 L299.18,641.02 L299.45,640.85 L299.72,640.66 L299.99,640.45 L300.26,640.23 L300.53,639.97 L300.8,639.69 L301.07,639.38 L301.34,639.03 L301.61,638.64 L301.88,638.19 L302.15,637.7 L302.42,637.13 L302.69,636.5 L302.96,635.78 L303.23,634.98 L303.5,634.07 L303.77,633.05 L304.04,631.91 L304.31,630.63 L304.58,629.21 L304.85,627.62 L305.12,625.87 L305.39,623.92 L305.66,621.79 L305.93,619.45 L306.2,616.89 L306.47,614.11 L306.74,611.1 L307.01,607.86 L307.28,604.38 L307.55,600.68 L307.82,596.75 L308.09,592.6 L308.36,588.25 L308.63,583.7 L308.9,578.99 L309.17,574.13 L309.44,569.15 L309.71,564.09 L309.98,558.99 L310.25,553.89 L310.52,548.83 L310.79,543.87 L311.06,539.07 L311.33,534.48 L311.6,530.18 L311.87,526.21 L312.14,522.66 L312.41,519.58 L312.68,517.04 L312.95,515.08 L313.22,513.75 L313.49,513.07 L313.76,513.07 L314.03,513.75 L314.3,515.08 L314.57,517.04 L314.84,519.58 L315.11,522.66 L315.38,526.21 L315.65,530.18 L315.92,534.49 L316.19,539.07 L316.46,543.87 L316.73,548.83 L317,553.89 L317.27,558.99 L317.54,564.09 L317.81,569.15 L318.08,574.13 L318.35,578.99 L318.62,583.7 L318.89,588.25 L319.16,592.6 L319.43,596.75 L319.7,600.68 L319.97,604.39 L320.24,607.86 L320.51,611.1 L320.78,614.11 L321.05,616.89 L321.32,619.45 L321.59,621.79 L321.86,623.93 L322.13,625.87 L322.4,627.63 L322.67,629.21 L322.94,630.64 L323.21,631.91 L323.48,633.06 L323.75,634.07 L324.02,634.98 L324.29,635.79 L324.56,636.5 L324.83,637.14 L325.1,637.7 L325.37,638.2 L325.64,638.64 L325.91,639.03 L326.18,639.38 L326.45,639.7 L326.72,639.98 L326.99,640.23 L327.26,640.46 L327.53,640.66 L327.8,640.85 L328.07,641.02 L328.34,641.18 L328.61,641.32 L328.88,641.45 L329.15,641.58 L329.42,641.7 L329.69,641.81 L329.96,641.91 L330.23,642 L330.5,642.1 L330.77,642.18 L331.04,642.27 L331.31,642.34 L331.58,642.42 L331.85,642.49 L332.12,642.56 L332.39,642.63 L332.66,642.69 L332.93,642.75 L333.2,642.81 L333.47,642.86 L333.74,642.92 L334.01,642.97 L334.28,643.02 L334.55,643.07 L334.82,643.11 L335.09,643.16 L335.36,643.2 L335.63,643.24 L335.9,643.28 L336.17,643.32 L336.44,643.36 L336.71,643.4 L336.98,643.43 L337.25,643.47 L337.52,643.5 L337.79,643.53 L338.06,643.56 L338.33,643.59 L338.6,643.62 L338.87,643.65 L339.14,643.68 L339.41,643.7 L339.68,643.73 L339.95,643.75 L340.22,643.78 L340.49,643.8 L340.76,643.82 L341.03,643.85 L341.3,643.87 L341.57,643.89 L341.84,643.91 L342.11,643.93 L342.38,643.95 L342.65,643.97 L342.92,643.99 L343.19,644 L343.46,644.02 L343.73,644.04 L344,644.05" fill="none" stroke="#0000ff" stroke-width="2.0" stroke-dasharray="4 2.8" stroke-linejoin="round"/>
<path d="M77.75,4.8 L79.45,4.8 L79.45,13.6 L82.4,10.4 L78.6,22.2 L74.8,10.4 L77.75,13.6 Z" fill="#00007f"/>
<path d="M286.05,4.8 L287.75,4.8 L287.75,13.6 L290.7,10.4 L286.9,22.2 L283.1,10.4 L286.05,13.6 Z" fill="#00007f"/>
<path d="M144.65,104.7 L146.35,104.7 L146.35,113.6 L149.3,110.4 L145.5,122.2 L141.7,110.4 L144.65,113.6 Z" fill="#7f0000"/>
<path d="M218.55,104.7 L220.25,104.7 L220.25,113.6 L223.2,110.4 L219.4,122.2 L215.6,110.4 L218.55,113.6 Z" fill="#7f0000"/>
<path d="M501.55,4.8 L503.25,4.8 L503.25,13.3 L506.2,10.1 L502.4,21.9 L498.6,10.1 L501.55,13.3 Z" fill="#00007f"/>
<path d="M641.05,4.8 L642.75,4.8 L642.75,13.3 L645.7,10.1 L641.9,21.9 L638.1,10.1 L641.05,13.3 Z" fill="#00007f"/>
<path d="M524.15,78 L525.85,78 L525.85,86.7 L528.8,83.5 L525,95.3 L521.2,83.5 L524.15,86.7 Z" fill="#7f0000"/>
<path d="M618.55,78 L620.25,78 L620.25,86.7 L623.2,83.5 L619.4,95.3 L615.6,83.5 L618.55,86.7 Z" fill="#7f0000"/>
<path d="M49.85,483 L51.55,483 L51.55,491.7 L54.5,488.5 L50.7,500.3 L46.9,488.5 L49.85,491.7 Z" fill="#00007f"/>
<path d="M313.45,483 L315.15,483 L315.15,491.7 L318.1,488.5 L314.3,500.3 L310.5,488.5 L313.45,491.7 Z" fill="#00007f"/>
<path d="M72.95,599.4 L74.65,599.4 L74.65,607.8 L77.6,604.6 L73.8,616.4 L70,604.6 L72.95,607.8 Z" fill="#7f0000"/>
<path d="M289.55,599.4 L291.25,599.4 L291.25,607.8 L294.2,604.6 L290.4,616.4 L286.6,604.6 L289.55,607.8 Z" fill="#7f0000"/>
<line x1="22" y1="396.6" x2="22" y2="400.2" stroke="#000" stroke-width="1.3"/>
<line x1="53.98" y1="396.6" x2="53.98" y2="400.2" stroke="#000" stroke-width="1.3"/>
<line x1="85.96" y1="396.6" x2="85.96" y2="400.2" stroke="#000" stroke-width="1.3"/>
<line x1="117.94" y1="396.6" x2="117.94" y2="400.2" stroke="#000" stroke-width="1.3"/>
<line x1="149.92" y1="396.6" x2="149.92" y2="400.2" stroke="#000" stroke-width="1.3"/>
<line x1="181.9" y1="396.6" x2="181.9" y2="400.2" stroke="#000" stroke-width="1.3"/>
<line x1="213.88" y1="396.6" x2="213.88" y2="400.2" stroke="#000" stroke-width="1.3"/>
<line x1="245.86" y1="396.6" x2="245.86" y2="400.2" stroke="#000" stroke-width="1.3"/>
<line x1="277.84" y1="396.6" x2="277.84" y2="400.2" stroke="#000" stroke-width="1.3"/>
<line x1="309.82" y1="396.6" x2="309.82" y2="400.2" stroke="#000" stroke-width="1.3"/>
<line x1="341.8" y1="396.6" x2="341.8" y2="400.2" stroke="#000" stroke-width="1.3"/>
<line x1="37.99" y1="396.6" x2="37.99" y2="398.9" stroke="#000" stroke-width="1.3"/>
<line x1="69.97" y1="396.6" x2="69.97" y2="398.9" stroke="#000" stroke-width="1.3"/>
<line x1="101.95" y1="396.6" x2="101.95" y2="398.9" stroke="#000" stroke-width="1.3"/>
<line x1="133.93" y1="396.6" x2="133.93" y2="398.9" stroke="#000" stroke-width="1.3"/>
<line x1="165.91" y1="396.6" x2="165.91" y2="398.9" stroke="#000" stroke-width="1.3"/>
<line x1="197.89" y1="396.6" x2="197.89" y2="398.9" stroke="#000" stroke-width="1.3"/>
<line x1="229.87" y1="396.6" x2="229.87" y2="398.9" stroke="#000" stroke-width="1.3"/>
<line x1="261.85" y1="396.6" x2="261.85" y2="398.9" stroke="#000" stroke-width="1.3"/>
<line x1="293.83" y1="396.6" x2="293.83" y2="398.9" stroke="#000" stroke-width="1.3"/>
<line x1="325.81" y1="396.6" x2="325.81" y2="398.9" stroke="#000" stroke-width="1.3"/>
<line x1="21.5" y1="396.6" x2="342.3" y2="396.6" stroke="#000" stroke-width="1.7"/>
<text transform="translate(4.4,418.4) scale(1.0,1.07)" font-size="17" fill="#000">-</text>
<path d="M16.13,418.4 L16.13,405.38 L15.16,405.38 L14.77,406.18 L14.06,407.03 L13.09,407.76 L11.85,408.45 L11.85,409.94 L12.95,409.45 L13.94,408.81 L14.74,408.12 L14.74,418.4 Z" fill="#000"/>
<text transform="translate(19.51,418.4) scale(1.0,1.07)" font-size="17" fill="#000">00</text>
<text transform="translate(73.09,418.4) scale(1.0,1.07)" font-size="17" fill="#000">-60</text>
<text transform="translate(137.05,418.4) scale(1.0,1.07)" font-size="17" fill="#000">-20</text>
<text transform="translate(203.78,418.4) scale(1.0,1.07)" font-size="17" fill="#000">20</text>
<text transform="translate(267.74,418.4) scale(1.0,1.07)" font-size="17" fill="#000">60</text>
<path d="M332.58,418.4 L332.58,405.38 L331.61,405.38 L331.22,406.18 L330.51,407.03 L329.54,407.76 L328.3,408.45 L328.3,409.94 L329.4,409.45 L330.39,408.81 L331.19,408.12 L331.19,418.4 Z" fill="#000"/>
<text transform="translate(335.97,418.4) scale(1.0,1.07)" font-size="17" fill="#000">00</text>
<text transform="translate(108.58,438.6) scale(1.0,1.05)" font-size="20" fill="#000">Frequency / kHz</text>
<path d="M22,394.35 L22.8,383.97 L23.6,385.28 L24.4,383.94 L25.2,390.56 L26,386.85 L26.8,391.7 L27.6,376.17 L28.4,395.5 L29.2,386.75 L30,391.45 L30.8,372 L31.6,385.16 L32.4,390.25 L33.2,392.46 L34,386.33 L34.8,386.67 L35.6,391.73 L36.4,382.43 L37.2,378.6 L38,390.1 L38.8,383.74 L39.6,363 L40.4,382.95 L41.2,385.07 L42,380.75 L42.8,378.99 L43.6,388.2 L44.4,393.4 L45.2,386.66 L46,383.63 L46.8,390.44 L47.6,374 L48.4,386.4 L49.2,391.5 L50,394.53 L50.8,387.07 L51.6,383.46 L52.4,390.47 L53.2,389.9 L54,392.63 L54.8,383.61 L55,385.99 L55.6,385.32 L56.4,381.93 L57.2,389.02 L58,390.56 L58.8,385.76 L59.6,376 L60.4,391.71 L61.2,390.99 L62,390.14 L62.8,392.26 L63.6,383.58 L64.4,390.99 L65.2,390.96 L66,381.97 L66.8,390.02 L67.6,387.76 L68.4,391.69 L69.2,387.07 L70,388.68 L70.8,390.07 L71.6,385.45 L72.4,391.06 L73.2,388.4 L74,390.69 L74.8,386.85 L75.6,392.97 L76.4,391.16 L77.2,388.19 L78,391.28 L78.8,393.68 L79.6,395.5 L80.4,382.94 L81.2,392.29 L82,390.72 L82.8,388.61 L83.6,385.15 L84.4,393.77 L85,384.21 L85.2,390.31 L86,386.85 L86.8,378.83 L87.6,377.52 L87.6,375.91 L88.4,378.08 L89.2,379.81 L90,380.31 L90.2,374.16 L90.8,364.22 L91.6,350.46 L91.9,345.93 L92.4,321.28 L93.2,283.47 L93.6,265.95 L94,258.97 L94.5,250.3 L94.8,250.6 L95.6,251.4 L96.2,252 L96.4,254.65 L97.2,265.21 L97.9,273.86 L98,275.38 L98.8,285.9 L98.8,284.63 L99.6,285.04 L100.4,289.49 L100.5,288.86 L101.2,305.88 L102,318.84 L102.2,322.06 L102.8,340.02 L103.1,354.22 L103.6,351.65 L104.4,338.93 L104.8,335.56 L105.2,334.49 L106,326.07 L106.6,322.37 L106.8,322.47 L107.6,324.27 L108.4,326.64 L108.5,325.04 L109.2,326.32 L110,324.02 L110.8,325.05 L110.9,321.08 L111.6,324.32 L112.4,330.36 L112.6,328.76 L113.2,337.78 L114,347.26 L114.8,358.05 L115.2,362 L115.6,368 L116.4,377.53 L116.9,383.68 L117.2,383.95 L118,385.18 L118.6,384.79 L118.8,383.99 L119.6,377.8 L120.4,371.43 L121.2,363.56 L121.2,361.02 L122,358.97 L122.8,354.43 L123.6,350.79 L123.8,348.72 L124.4,346.45 L125.2,345.9 L125.5,350.12 L126,355.78 L126.4,363.63 L126.8,362.48 L127.6,354.52 L128.1,354.42 L128.4,354.93 L129.2,356.13 L130,357.15 L130.7,357.52 L130.8,357.99 L131.6,359.4 L132.4,365.64 L132.4,364.7 L133.2,356.36 L134,345.67 L134.1,346.19 L134.8,343.71 L135.6,339.69 L136.4,336.51 L136.7,334.95 L137.2,338.64 L138,346.39 L138.4,349.51 L138.8,354.77 L139.6,361.86 L140.2,368.53 L140.4,366.08 L141.2,372.05 L142,371.83 L142.8,374.3 L143.6,377.58 L143.6,377 L144.4,377.98 L145.2,376.2 L146,375.02 L146.8,374.99 L147.1,378.3 L147.6,376.52 L148.4,374.98 L149.2,377.26 L150,375.16 L150.5,380.76 L150.8,376.46 L151.6,382.35 L152.4,385.13 L153.1,384.28 L153.2,386.35 L154,381.62 L154.8,374.93 L155.6,368.75 L155.7,369.12 L156.4,367.16 L157.2,366.64 L157.4,365.7 L158,370.55 L158.8,372.88 L159.1,377.47 L159.6,372.41 L160.4,366.7 L161.2,364.27 L161.7,363.41 L162,363.03 L162.8,362.79 L163.6,366.86 L164.3,366.87 L164.4,367.81 L165.2,371.4 L166,370.79 L166,374.81 L166.8,357.99 L167.6,343.66 L168.4,327.56 L168.6,323.77 L169.2,300.34 L170,269.62 L170.3,257.2 L170.8,256.26 L171.2,255.5 L171.6,264 L172.4,279.6 L172.9,291.88 L173.2,303.91 L174,333.18 L174.7,361.18 L174.8,363.13 L175.6,372.9 L175.8,374.94 L176.4,372.6 L177.2,366.83 L177.5,364.44 L178,361.58 L178.7,355.76 L178.8,354.03 L179.6,369.35 L180,376.51 L180.4,378.88 L181.2,384.89 L181.9,387.38 L182,388.5 L182.8,385.08 L183.6,377.65 L183.8,374.01 L184.4,365.82 L185.1,355.02 L185.2,354.59 L186,361.1 L186.3,367.47 L186.8,366.62 L187.6,375.21 L188,377.27 L188.4,369.35 L189.1,362.65 L189.2,357.42 L190,324.33 L190.8,296.34 L190.9,291.19 L191.6,275.67 L192.4,259.76 L192.6,255.5 L193.2,256.63 L193.5,257.2 L194,277.52 L194.8,310.72 L195.2,325.86 L195.6,335.51 L196.4,348.73 L197.2,363.82 L197.8,375.37 L198,372 L198.8,369.31 L199.5,370.05 L199.6,367.87 L200.4,364.76 L201.2,363.63 L202,360.19 L202.1,361.15 L202.8,363.81 L203.6,370.08 L204.4,371.89 L204.7,378.33 L205.2,372.35 L206,365.79 L206.4,365.54 L206.8,365.71 L207.6,367.34 L208.1,365.77 L208.4,370.43 L209.2,381.44 L210,379.44 L210.7,387.14 L210.8,385.77 L211.6,383.9 L212.4,378.01 L213.2,376.39 L213.3,378.64 L214,377.49 L214.8,379.77 L215.6,375.62 L216.4,376.63 L216.7,380.86 L217.2,375.22 L218,375.39 L218.8,377.16 L219.6,377.54 L220.2,379.25 L220.4,377.5 L221.2,373.66 L222,372.79 L222.8,374.25 L223.6,369.63 L223.6,363.15 L224.4,359.68 L225.2,350.82 L225.4,351.3 L226,344.55 L226.8,340.63 L227.1,336.29 L227.6,338.22 L228.4,340.3 L229.2,343.14 L229.7,345.74 L230,350.93 L230.8,359.45 L231.4,365.34 L231.6,366.92 L232.4,361.09 L233.1,357.08 L233.2,355.8 L234,355.12 L234.8,353.96 L235.6,349.46 L235.7,355.43 L236.4,357.55 L237.2,359.55 L237.4,362.37 L238,352.2 L238.3,347.49 L238.8,343.21 L239.6,347.22 L240,348.65 L240.4,352.88 L241.2,358.27 L242,362.62 L242.6,362.24 L242.8,362.31 L243.6,373.67 L244.4,379.72 L245.2,388.14 L245.2,386.4 L246,386.1 L246.8,382.51 L246.9,385.52 L247.6,374.16 L248.4,364.1 L248.6,361.44 L249.2,353.36 L250,344.51 L250.8,334.45 L251.2,330.91 L251.6,329.28 L252.4,325.15 L252.9,323.56 L253.2,327.35 L254,324.57 L254.8,326.48 L255.3,325.63 L255.6,323.75 L256.4,322.53 L257.2,322.99 L257.2,323.21 L258,329.92 L258.8,333.04 L259,335.65 L259.6,341.92 L260.4,351.93 L260.7,348.32 L261.2,336.52 L261.6,321.94 L262,315.37 L262.8,297.73 L263.3,288.68 L263.6,289.29 L264.4,286.38 L265,285.2 L265.2,282.82 L265.9,274.12 L266,273.42 L266.8,262.58 L267.6,252 L267.6,252 L268.4,251.2 L269.2,250.4 L269.3,250.3 L270,262.42 L270.2,266.13 L270.8,294.49 L271.6,331.76 L271.9,344.37 L272.4,353.11 L273.2,368.42 L273.6,376.55 L274,378.67 L274.8,377.64 L275.6,375.4 L276.2,377.94 L276.4,376.58 L277.2,382.5 L278,381.04 L278.8,384.2 L278.8,389.45 L279.6,388.69 L280.4,382.66 L281.2,391.8 L282,395.5 L282.8,383.3 L283.6,395.5 L284.4,386.29 L285.2,387.02 L286,388.2 L286.8,383.37 L287.6,393.79 L288.4,390.71 L289.2,385.97 L290,387.76 L290.8,383.04 L291.6,387.47 L292.4,392.33 L293.2,382.24 L294,387.09 L294.8,389.29 L295.6,392.7 L296.4,393.83 L297.2,374 L298,385.87 L298.8,390.38 L299.6,387.27 L300.4,387.46 L301.2,392.73 L302,395.03 L302.8,389.61 L303.6,387.86 L304.4,390.74 L305.2,381.39 L306,388.48 L306.8,384.5 L307.6,395.5 L308.4,391.24 L308.8,389.04 L309.2,387.74 L310,373.36 L310.8,392.69 L311.6,372 L312.4,383.96 L313.2,392.4 L314,392.6 L314.8,378.94 L315.6,393.81 L316.4,395.5 L317.2,389.49 L318,387.7 L318.8,392.77 L319.6,378.76 L320.4,388.53 L321.2,394.26 L322,380.45 L322.8,393.82 L323.6,385.32 L324.4,363 L325.2,387.12 L326,381.89 L326.8,389.6 L327.6,380.61 L328.4,393.91 L329.2,383.14 L330,389.67 L330.8,383.94 L331.6,385.53 L332.4,394.58 L333.2,388.68 L334,384.98 L334.8,372 L335.6,394.24 L336.4,391.64 L337.2,385.25 L338,388.63 L338.8,380.96 L339.6,381.01 L340.4,382.11 L341.2,389.15 L341.8,388.78" fill="none" stroke="#000" stroke-width="1.9" stroke-linejoin="round"/>
<line x1="165.9" y1="248.7" x2="24.2" y2="203.6" stroke="#167283" stroke-width="2" stroke-dasharray="12 2.7"/>
<line x1="198" y1="248.7" x2="342" y2="203.7" stroke="#167283" stroke-width="2" stroke-dasharray="12 2.7"/>
<line x1="165.9" y1="248.7" x2="198" y2="248.7" stroke="#167283" stroke-width="2" stroke-dasharray="12 2.7"/>
<line x1="165.9" y1="248.7" x2="165.9" y2="396.6" stroke="#167283" stroke-width="2" stroke-dasharray="12 2.7"/>
<line x1="198" y1="248.7" x2="198" y2="396.6" stroke="#167283" stroke-width="2" stroke-dasharray="12 2.7"/>
<line x1="165.9" y1="396.6" x2="198" y2="396.6" stroke="#167283" stroke-width="1.6" stroke-dasharray="12 2.7"/>
<line x1="410.8" y1="396.8" x2="410.8" y2="400.4" stroke="#000" stroke-width="1.3"/>
<line x1="442.8" y1="396.8" x2="442.8" y2="400.4" stroke="#000" stroke-width="1.3"/>
<line x1="474.8" y1="396.8" x2="474.8" y2="400.4" stroke="#000" stroke-width="1.3"/>
<line x1="506.8" y1="396.8" x2="506.8" y2="400.4" stroke="#000" stroke-width="1.3"/>
<line x1="538.8" y1="396.8" x2="538.8" y2="400.4" stroke="#000" stroke-width="1.3"/>
<line x1="570.8" y1="396.8" x2="570.8" y2="400.4" stroke="#000" stroke-width="1.3"/>
<line x1="602.8" y1="396.8" x2="602.8" y2="400.4" stroke="#000" stroke-width="1.3"/>
<line x1="634.8" y1="396.8" x2="634.8" y2="400.4" stroke="#000" stroke-width="1.3"/>
<line x1="666.8" y1="396.8" x2="666.8" y2="400.4" stroke="#000" stroke-width="1.3"/>
<line x1="698.8" y1="396.8" x2="698.8" y2="400.4" stroke="#000" stroke-width="1.3"/>
<line x1="730.8" y1="396.8" x2="730.8" y2="400.4" stroke="#000" stroke-width="1.3"/>
<line x1="426.8" y1="396.8" x2="426.8" y2="399.1" stroke="#000" stroke-width="1.3"/>
<line x1="458.8" y1="396.8" x2="458.8" y2="399.1" stroke="#000" stroke-width="1.3"/>
<line x1="490.8" y1="396.8" x2="490.8" y2="399.1" stroke="#000" stroke-width="1.3"/>
<line x1="522.8" y1="396.8" x2="522.8" y2="399.1" stroke="#000" stroke-width="1.3"/>
<line x1="554.8" y1="396.8" x2="554.8" y2="399.1" stroke="#000" stroke-width="1.3"/>
<line x1="586.8" y1="396.8" x2="586.8" y2="399.1" stroke="#000" stroke-width="1.3"/>
<line x1="618.8" y1="396.8" x2="618.8" y2="399.1" stroke="#000" stroke-width="1.3"/>
<line x1="650.8" y1="396.8" x2="650.8" y2="399.1" stroke="#000" stroke-width="1.3"/>
<line x1="682.8" y1="396.8" x2="682.8" y2="399.1" stroke="#000" stroke-width="1.3"/>
<line x1="714.8" y1="396.8" x2="714.8" y2="399.1" stroke="#000" stroke-width="1.3"/>
<line x1="410.3" y1="396.8" x2="731.3" y2="396.8" stroke="#666" stroke-width="1.3"/>
<text transform="translate(393.2,418.4) scale(1.0,1.07)" font-size="17" fill="#000">-</text>
<path d="M404.93,418.4 L404.93,405.38 L403.96,405.38 L403.57,406.18 L402.86,407.03 L401.89,407.76 L400.65,408.45 L400.65,409.94 L401.75,409.45 L402.74,408.81 L403.54,408.12 L403.54,418.4 Z" fill="#000"/>
<text transform="translate(408.31,418.4) scale(1.0,1.07)" font-size="17" fill="#000">00</text>
<text transform="translate(461.92,418.4) scale(1.0,1.07)" font-size="17" fill="#000">-60</text>
<text transform="translate(525.92,418.4) scale(1.0,1.07)" font-size="17" fill="#000">-20</text>
<text transform="translate(592.7,418.4) scale(1.0,1.07)" font-size="17" fill="#000">20</text>
<text transform="translate(656.7,418.4) scale(1.0,1.07)" font-size="17" fill="#000">60</text>
<path d="M721.58,418.4 L721.58,405.38 L720.61,405.38 L720.22,406.18 L719.51,407.03 L718.54,407.76 L717.3,408.45 L717.3,409.94 L718.4,409.45 L719.39,408.81 L720.19,408.12 L720.19,418.4 Z" fill="#000"/>
<text transform="translate(724.97,418.4) scale(1.0,1.07)" font-size="17" fill="#000">00</text>
<text transform="translate(497.08,438.4) scale(1.0,1.05)" font-size="20" fill="#000">Frequency / kHz</text>
<path d="M410.8,375.76 L411.3,381.78 L411.8,388.22 L412.3,378.99 L412.8,373.03 L413.3,370.94 L413.8,384.74 L414.3,392.71 L414.8,380.45 L415.3,366.9 L415.8,369.38 L416.3,392.4 L416.8,379.83 L417.3,362.41 L417.8,377.25 L418.3,367.53 L418.8,372.34 L419.3,373.61 L419.8,371.58 L420.3,382.98 L420.8,377.43 L421.3,372.7 L421.8,381.69 L422.3,385.47 L422.8,363.21 L423.3,375.69 L423.8,369.17 L424.3,376.44 L424.8,366.4 L425.3,378.19 L425.8,377.66 L426.3,375.26 L426.8,368.57 L427.3,374.43 L427.8,368.18 L428.3,365.8 L428.8,380.02 L429.3,368.02 L429.8,388.53 L430.3,384.45 L430.8,360.02 L431.3,347 L431.8,368.08 L432.3,378.3 L432.8,378.39 L433.3,360.1 L433.8,375.9 L434.3,375.7 L434.8,386.66 L435.3,367.37 L435.8,384.64 L436.3,368.11 L436.8,375.02 L437.3,370.44 L437.8,391.04 L438.3,383.11 L438.8,396 L439.3,383.78 L439.8,385.6 L440.3,385.57 L440.8,372.54 L441.3,377.37 L441.8,390.15 L442.3,374.43 L442.8,379.7 L443.3,377.81 L443.8,383.48 L444.3,374.72 L444.8,376.63 L445.3,380.18 L445.8,378.93 L446.3,370.22 L446.8,386.06 L447.3,366.31 L447.8,367.19 L448.3,366.46 L448.8,386.7 L449.3,374.75 L449.8,369.26 L450.3,367.78 L450.8,381.79 L451.3,368.51 L451.8,366.55 L452.3,383.53 L452.8,367.23 L453.3,375.1 L453.8,377.94 L454.3,373.99 L454.8,377.51 L455.3,390.05 L455.8,373.35 L456.3,366.67 L456.8,361.47 L457.3,376.16 L457.8,374.83 L458.3,380.39 L458.8,373.82 L459.3,373.69 L459.8,371.51 L460.3,373.32 L460.8,379.44 L461.3,374.58 L461.8,378.9 L462.3,395.11 L462.8,382.31 L463.3,363.82 L463.8,393.6 L464.3,381.13 L464.8,369.53 L465.3,386.16 L465.8,378.16 L466.3,372.46 L466.8,372.3 L467.3,369.06 L467.8,378.43 L468.3,387.62 L468.8,375.07 L469.3,381.79 L469.8,394.88 L470.3,367.07 L470.8,380.32 L471.3,375.24 L471.8,368.47 L472.3,368.77 L472.8,377.86 L473.3,381.9 L473.8,373.22 L474.3,378.49 L474.8,384.5 L475.3,380.67 L475.8,385.82 L476.3,350.5 L476.8,382.39 L477.3,394.44 L477.8,383.61 L478.3,379.17 L478.8,384.39 L479.3,369.73 L479.8,374.96 L480.3,385.14 L480.8,383.68 L481.3,391.94 L481.8,378.09 L482.3,364.84 L482.8,395.53 L483.3,387.84 L483.8,368.47 L484.3,390.38 L484.8,378.29 L485.3,361.67 L485.8,374.22 L486.3,373.42 L486.8,392.32 L487.3,370.87 L487.8,375.72 L488.3,375.51 L488.8,374.59 L489.3,369.77 L489.8,379.97 L490,387.69 L490.3,382.12 L490.8,367.97 L491.3,364.03 L491.8,369.77 L492,363.41 L492.3,361.6 L492.8,350.95 L493.3,370.71 L493.8,360.16 L494.3,344.04 L494.8,352.44 L495,353.73 L495.3,327.97 L495.8,337.43 L496.3,335.98 L496.8,340.21 L497.3,332.71 L497.8,329.5 L498,329.62 L498.3,341.25 L498.8,341.91 L499.3,323.12 L499.8,319.18 L500.3,341.37 L500.8,316.16 L501,318.27 L501.3,322.69 L501.8,326.34 L502.3,330.64 L502.8,327.24 L503.3,319.78 L503.8,329.49 L504.3,328.57 L504.8,339.9 L505,327.9 L505.3,319.55 L505.8,321.85 L506.3,338.47 L506.8,325.93 L507.3,316.16 L507.8,326.47 L508.3,330.64 L508.8,338.77 L509.3,324.85 L509.8,336.17 L510,337.17 L510.3,327.09 L510.8,329.82 L511.3,341.94 L511.8,341.02 L512.3,334.8 L512.8,330.8 L513.3,335.44 L513.8,326.53 L514.3,326.22 L514.8,320.65 L515,326.04 L515.3,325.23 L515.8,343.39 L516.3,323.71 L516.8,332.82 L517.3,332.74 L517.8,322.55 L518.3,330.96 L518.8,308.81 L519.3,323.18 L519.8,327.73 L520,306.41 L520.3,314.17 L520.8,328.06 L521.3,319.03 L521.8,313.06 L522.3,317.27 L522.8,315.67 L523.3,323.41 L523.8,321.15 L524,316.18 L524.3,314.73 L524.8,320.45 L525.3,331.16 L525.8,326.57 L526,306 L526.3,327.02 L526.8,324.6 L527.3,333.38 L527.8,347.23 L528,345.67 L528.3,342.88 L528.8,344.48 L529.3,361.97 L529.8,365.29 L530,367.72 L530.3,367.06 L530.8,369.71 L531.3,368.45 L531.8,371.45 L532.3,369.9 L532.8,371.19 L533,367.24 L533.3,359.52 L533.8,360.85 L534.3,363.91 L534.8,358.18 L535.3,363.27 L535.8,366.7 L536.3,353.49 L536.8,346.69 L537,365.76 L537.3,358.42 L537.8,363.41 L538.3,350.64 L538.8,371.06 L539.3,365.1 L539.8,359.98 L540.3,359.01 L540.8,362.54 L541,360.92 L541.3,358.97 L541.8,351.48 L542.3,364.95 L542.8,354.46 L543.3,353.18 L543.8,351.27 L544.3,333.31 L544.8,350.05 L545.2,342.86 L545.3,343.95 L545.8,336 L546.3,347.85 L546.8,363.82 L547,355.48 L547.3,356.73 L547.8,361.33 L548.3,372.3 L548.8,380.45 L549.3,376.07 L549.8,374.45 L550,392.91 L550.3,377.68 L550.8,390.03 L551.3,379.58 L551.8,373.06 L552.3,371.11 L552.8,375.94 L553,377.78 L553.3,370.11 L553.8,376.56 L554.3,382.97 L554.8,367.05 L555.3,359.93 L555.8,365.98 L556,365.44 L556.3,366.74 L556.8,368.38 L557.3,369.8 L557.8,372.21 L558.1,394.96 L558.3,395.47 L558.5,396 L558.8,383.82 L559,375.21 L559.3,374.58 L559.8,374.11 L560.3,372.61 L560.5,372.03 L560.8,364.01 L561.3,351.97 L561.8,348.21 L562.3,344.72 L562.8,328.29 L563,321.98 L563.3,312.44 L563.7,300.35 L563.8,286.84 L564.1,249.43 L564.3,275.49 L564.5,300.02 L564.8,309.91 L565.2,322.45 L565.3,325.81 L565.8,342.01 L565.9,344.45 L566.3,347.69 L566.8,351.15 L566.9,351.38 L567.3,365.15 L567.5,371.5 L567.8,373.93 L568.3,379.02 L568.8,383.25 L569,384.72 L569.3,384.89 L569.8,385.49 L570.3,386 L570.8,386.44 L571.3,386.13 L571.8,385.54 L572.3,385.42 L572.6,385.21 L572.8,383.41 L573.3,378.67 L573.8,374.35 L574.1,372.17 L574.3,365.25 L574.7,351.98 L574.8,350.3 L575.3,346.72 L575.7,345.13 L575.8,341.85 L576.3,325.84 L576.4,322.29 L576.8,309.52 L577.1,300.01 L577.3,274.18 L577.5,249.85 L577.8,287.13 L577.9,300.2 L578.3,312.65 L578.6,322.11 L578.8,328.93 L579.3,344.8 L579.8,348.35 L580.3,351.66 L580.8,364.35 L581.1,372.67 L581.3,372.25 L581.8,373.87 L582.3,374.73 L582.6,375.29 L582.8,383.72 L583.1,395.59 L583.3,396 L583.5,396 L583.8,371.72 L584.3,370.31 L584.8,368.39 L585.3,367.13 L585.6,365.57 L585.8,367.04 L586.3,364.95 L586.8,358.37 L587.3,381.04 L587.8,376.71 L588.3,374.77 L588.6,375.46 L588.8,370.61 L589.3,373.82 L589.8,382.31 L590.3,385.9 L590.8,388.33 L591.3,385.98 L591.6,382.97 L591.8,383.02 L592.3,387.15 L592.8,384.96 L593.3,369.05 L593.8,363.83 L594.3,370.71 L594.6,364.7 L594.8,362.87 L595.3,345.64 L595.8,336 L596.3,342.49 L596.4,346.35 L596.8,335.67 L597.3,356.91 L597.8,352.62 L598.3,355.52 L598.8,347.02 L599.3,356.57 L599.8,367.44 L600.3,350.58 L600.6,363.99 L600.8,366.34 L601.3,356.8 L601.8,366.1 L602.3,358.15 L602.8,367.79 L603.3,362.73 L603.8,360.26 L604.3,371.36 L604.6,363.41 L604.8,366.71 L605.3,350.97 L605.8,355 L606.3,365.14 L606.8,366.09 L607.3,360.34 L607.8,366.27 L608.3,354.82 L608.6,363.39 L608.8,355.08 L609.3,366.08 L609.8,362.04 L610.3,362.37 L610.8,368.23 L611.3,381.01 L611.6,363.42 L611.8,363.59 L612.3,368.19 L612.8,352.25 L613.3,360.25 L613.6,346.45 L613.8,343.59 L614.3,340.32 L614.8,344.32 L615.3,332.26 L615.6,306 L615.8,325.94 L616.3,312.39 L616.8,315.05 L617.3,328.69 L617.6,323.34 L617.8,321.49 L618.3,322.84 L618.8,315.67 L619.3,321.9 L619.8,314.34 L620.3,323.24 L620.8,316.56 L621.3,320.31 L621.6,324.95 L621.8,320.04 L622.3,326.77 L622.8,325.92 L623.3,325.7 L623.8,332.37 L624.3,314.58 L624.8,314.18 L625.3,328.97 L625.8,331.48 L626.3,338.84 L626.6,330.92 L626.8,331.64 L627.3,321.1 L627.8,332.33 L628.3,332.42 L628.8,321.78 L629.3,323.41 L629.8,329.12 L630.3,332.31 L630.8,311.9 L631.3,332.1 L631.6,333.5 L631.8,330.69 L632.3,333.17 L632.8,334 L633.3,324.06 L633.8,332.95 L634.3,328.21 L634.8,323.29 L635.3,330.4 L635.8,338.31 L636.3,318.75 L636.6,317.25 L636.8,316.95 L637.3,339.8 L637.8,324.56 L638.3,325.06 L638.8,319.59 L639.3,317.84 L639.8,310.03 L640.3,323.56 L640.6,323.69 L640.8,309.69 L641.3,317.09 L641.8,320.36 L642.3,326.36 L642.8,329.45 L643.3,336.52 L643.6,338.87 L643.8,337.94 L644.3,342.22 L644.8,328.42 L645.3,334.9 L645.8,348.43 L646.3,345.38 L646.6,345.12 L646.8,333.67 L647.3,338.28 L647.8,358.95 L648.3,360.25 L648.8,359.94 L649.3,363.02 L649.6,356.78 L649.8,371.41 L650.3,378.22 L650.8,384.67 L651.3,376.94 L651.6,376.16 L651.8,368.14 L652.3,389.01 L652.8,393.36 L653.3,372.48 L653.8,380.62 L654.3,378.82 L654.8,372.84 L655.3,355.52 L655.8,374.71 L656.3,383.47 L656.8,365.01 L657.3,370.45 L657.8,348.45 L658.3,389.56 L658.8,382.5 L659.3,378.41 L659.8,375.57 L660.3,372.26 L660.8,377.29 L661.3,375.21 L661.8,375.76 L662.3,377.7 L662.8,379.13 L663.3,391.94 L663.8,364.96 L664.3,380.36 L664.8,347 L665.3,367.74 L665.8,356.69 L666.3,383.46 L666.8,369.09 L667.3,371.16 L667.8,382.14 L668.3,368.16 L668.8,378.14 L669.3,377.24 L669.8,385.13 L670.3,387.01 L670.8,370.11 L671.3,386.16 L671.8,377.04 L672.3,379.02 L672.8,376 L673.3,384.89 L673.8,367 L674.3,380.25 L674.8,388.49 L675.3,375.36 L675.8,396 L676.3,371.29 L676.8,379.83 L677.3,373.57 L677.8,372.34 L678.3,367.87 L678.8,373.05 L679.3,377.44 L679.8,370.68 L680.3,385.85 L680.8,391.59 L681.3,364.15 L681.8,385.42 L682.3,379.6 L682.8,380.1 L683.3,396 L683.8,388.75 L684.3,380.92 L684.8,379.56 L685.3,358.51 L685.8,384.95 L686.3,371.26 L686.8,379.58 L687.3,378.88 L687.8,386.64 L688.3,396 L688.8,386.85 L689.3,389.46 L689.8,375.89 L690.3,382.1 L690.8,384.92 L691.3,365.04 L691.8,396 L692.3,371.57 L692.8,366.5 L693.3,392.71 L693.8,396 L694.3,371.67 L694.8,372.48 L695.3,396 L695.8,379.01 L696.3,360.14 L696.8,372.49 L697.3,396 L697.8,383.93 L698.3,384.77 L698.8,389.02 L699.3,384.08 L699.8,375 L700.3,363.65 L700.8,382.02 L701.3,367.96 L701.8,377.49 L702.3,393.83 L702.8,382.87 L703.3,378.54 L703.8,378.59 L704.3,384.58 L704.8,386.29 L705.3,366.15 L705.8,379.67 L706.3,393.44 L706.8,384.79 L707.3,371.11 L707.8,371.88 L708.3,359.44 L708.8,370.86 L709.3,392.46 L709.8,377.37 L710.3,370.3 L710.8,372.81 L711.3,377 L711.8,350 L712.3,374.81 L712.8,371.08 L713.3,383.73 L713.8,391.85 L714.3,372.89 L714.8,373.13 L715.3,388.7 L715.8,364.83 L716.3,372.68 L716.8,374.6 L717.3,379.51 L717.8,375.53 L718.3,370.02 L718.8,380.79 L719.3,367.31 L719.8,362.32 L720.3,359.75 L720.8,384.74 L721.3,362.37 L721.8,382.02 L722.3,384.04 L722.8,385.26 L723.3,376.43 L723.8,373.07 L724.3,378.77 L724.8,372.66 L725.3,366.42 L725.8,389.3 L726.3,369.95 L726.8,394.16 L727.3,382.63 L727.8,373.91 L728.3,381.94 L728.8,389.07 L729.3,365.59 L729.8,369.66 L730.3,368.56 L730.8,379.49" fill="none" stroke="#000" stroke-width="1.9" stroke-linejoin="round"/>
<line x1="554.8" y1="245" x2="413.4" y2="203.6" stroke="#167283" stroke-width="2" stroke-dasharray="12 2.7"/>
<line x1="587.2" y1="245" x2="731" y2="203.7" stroke="#167283" stroke-width="2" stroke-dasharray="12 2.7"/>
<line x1="554.8" y1="245" x2="587.2" y2="245" stroke="#167283" stroke-width="2" stroke-dasharray="12 2.7"/>
<line x1="554.8" y1="245" x2="554.8" y2="396.5" stroke="#167283" stroke-width="2" stroke-dasharray="12 2.7"/>
<line x1="587.2" y1="245" x2="587.2" y2="396.5" stroke="#167283" stroke-width="2" stroke-dasharray="12 2.7"/>
<line x1="554.8" y1="396.5" x2="587.2" y2="396.5" stroke="#167283" stroke-width="1.6" stroke-dasharray="12 2.7"/>
<line x1="19.55" y1="877.3" x2="19.55" y2="880.9" stroke="#000" stroke-width="1.3"/>
<line x1="52.3" y1="877.3" x2="52.3" y2="880.9" stroke="#000" stroke-width="1.3"/>
<line x1="85.05" y1="877.3" x2="85.05" y2="880.9" stroke="#000" stroke-width="1.3"/>
<line x1="117.8" y1="877.3" x2="117.8" y2="880.9" stroke="#000" stroke-width="1.3"/>
<line x1="150.55" y1="877.3" x2="150.55" y2="880.9" stroke="#000" stroke-width="1.3"/>
<line x1="183.3" y1="877.3" x2="183.3" y2="880.9" stroke="#000" stroke-width="1.3"/>
<line x1="216.05" y1="877.3" x2="216.05" y2="880.9" stroke="#000" stroke-width="1.3"/>
<line x1="248.8" y1="877.3" x2="248.8" y2="880.9" stroke="#000" stroke-width="1.3"/>
<line x1="281.55" y1="877.3" x2="281.55" y2="880.9" stroke="#000" stroke-width="1.3"/>
<line x1="314.3" y1="877.3" x2="314.3" y2="880.9" stroke="#000" stroke-width="1.3"/>
<line x1="347.05" y1="877.3" x2="347.05" y2="880.9" stroke="#000" stroke-width="1.3"/>
<line x1="35.93" y1="877.3" x2="35.93" y2="879.6" stroke="#000" stroke-width="1.3"/>
<line x1="68.68" y1="877.3" x2="68.68" y2="879.6" stroke="#000" stroke-width="1.3"/>
<line x1="101.43" y1="877.3" x2="101.43" y2="879.6" stroke="#000" stroke-width="1.3"/>
<line x1="134.18" y1="877.3" x2="134.18" y2="879.6" stroke="#000" stroke-width="1.3"/>
<line x1="166.93" y1="877.3" x2="166.93" y2="879.6" stroke="#000" stroke-width="1.3"/>
<line x1="199.68" y1="877.3" x2="199.68" y2="879.6" stroke="#000" stroke-width="1.3"/>
<line x1="232.43" y1="877.3" x2="232.43" y2="879.6" stroke="#000" stroke-width="1.3"/>
<line x1="265.18" y1="877.3" x2="265.18" y2="879.6" stroke="#000" stroke-width="1.3"/>
<line x1="297.93" y1="877.3" x2="297.93" y2="879.6" stroke="#000" stroke-width="1.3"/>
<line x1="330.68" y1="877.3" x2="330.68" y2="879.6" stroke="#000" stroke-width="1.3"/>
<line x1="19.05" y1="877.3" x2="347.55" y2="877.3" stroke="#555" stroke-width="1.2"/>
<text transform="translate(1.95,897.9) scale(1.0,1.07)" font-size="17" fill="#000">-</text>
<path d="M13.68,897.9 L13.68,884.88 L12.71,884.88 L12.32,885.68 L11.61,886.53 L10.64,887.26 L9.4,887.95 L9.4,889.44 L10.5,888.95 L11.49,888.31 L12.29,887.62 L12.29,897.9 Z" fill="#000"/>
<text transform="translate(17.06,897.9) scale(1.0,1.07)" font-size="17" fill="#000">00</text>
<text transform="translate(72.18,897.9) scale(1.0,1.07)" font-size="17" fill="#000">-60</text>
<text transform="translate(137.68,897.9) scale(1.0,1.07)" font-size="17" fill="#000">-20</text>
<text transform="translate(205.95,897.9) scale(1.0,1.07)" font-size="17" fill="#000">20</text>
<text transform="translate(271.45,897.9) scale(1.0,1.07)" font-size="17" fill="#000">60</text>
<path d="M337.83,897.9 L337.83,884.88 L336.86,884.88 L336.47,885.68 L335.76,886.53 L334.79,887.26 L333.55,887.95 L333.55,889.44 L334.65,888.95 L335.64,888.31 L336.44,887.62 L336.44,897.9 Z" fill="#000"/>
<text transform="translate(341.22,897.9) scale(1.0,1.07)" font-size="17" fill="#000">00</text>
<text transform="translate(110.28,919) scale(1.0,1.05)" font-size="20" fill="#000">Frequency / kHz</text>
<path d="M19.5,864.72 L20.3,862.03 L21.1,858.66 L21.9,859.64 L22.7,864.89 L23.5,869.02 L24.3,865.44 L25.1,859.68 L25.9,856.51 L26.7,855.35 L27.5,856.56 L28.3,860.34 L29.1,863.95 L29.9,865.5 L30.7,866.16 L31.5,866.54 L32.3,869.45 L33.1,872.88 L33.9,871 L34.7,866.63 L35.5,866.2 L36.3,870.28 L37.1,873.12 L37.9,870.88 L38.7,868.58 L39.5,867.03 L40.3,864.65 L41.1,866.21 L41.9,870.44 L42.7,871.48 L43.5,868.94 L44.3,863.87 L45.1,860.4 L45.9,862.89 L46.7,863.37 L47.5,862.9 L48.3,865.56 L49.1,866.39 L49.9,864.09 L50.7,863.74 L51.5,866.74 L52.3,870 L53.1,871.7 L53.9,870.78 L54.7,870.17 L55.5,870.48 L56.3,868.29 L57.1,866.31 L57.9,867.13 L58.7,867.2 L59.5,865.67 L60.3,864.92 L61.1,863.54 L61.9,861.76 L62.7,863.96 L63.5,864.51 L64.3,862.97 L65.1,864.19 L65.9,865.36 L66.7,863.61 L67.5,859.81 L68.3,861.7 L69.1,867.83 L69.9,868.26 L70.7,863.3 L71.5,862.35 L72.3,864.41 L73.1,866.84 L73.9,868.9 L74.7,867.49 L75.5,865.8 L76.3,865.75 L77.1,867.46 L77.9,866.93 L78.7,864.78 L79.5,865.79 L80.3,870.22 L81.1,871.61 L81.9,871.3 L82.7,871.44 L83.5,869.4 L84.3,865.41 L85.1,862.62 L85.9,863.36 L86.7,864.87 L87.5,863.47 L88.3,863.59 L89.1,866.39 L89.9,865.95 L90.7,864.46 L91.5,862.92 L92.3,863.69 L93.1,866.42 L93.9,867.7 L94.7,866.24 L95.5,864.16 L96.3,863.23 L97.1,862.24 L97.9,858.12 L98.7,848.79 L99.5,833.58 L100.3,811.27 L101.1,783.17 L101.9,753.97 L102.7,731.74 L103.39,724.82 L103.5,724.93 L104.3,736 L105.1,760.77 L105.9,790.85 L106.7,818.24 L107.5,838.31 L108.3,850.52 L109.1,857.68 L109.9,861.54 L110.7,862.15 L111.5,861.95 L112.3,861.06 L113.1,859.07 L113.9,856.05 L114.7,851.42 L115.5,846.19 L116.3,843.08 L117.1,843.34 L117.9,846.88 L118.7,852.4 L119.5,857.71 L120.3,861.31 L121.1,863.43 L121.9,864.82 L122.7,866.08 L123.5,866.41 L124.3,866.44 L125.1,867.08 L125.9,866.87 L126.7,864.98 L127.5,864.45 L128.3,867.29 L129.1,869.98 L129.9,868.86 L130.7,865.8 L131.5,863.29 L132.3,863.37 L133.1,866.27 L133.9,868.66 L134.7,868.38 L135.5,866.04 L136.3,862.78 L137.1,860.27 L137.9,860.27 L138.7,863.06 L139.5,865.37 L140.3,864.93 L141.1,863.8 L141.9,864.18 L142.7,866.48 L143.5,868.41 L144.3,867.91 L145.1,866.9 L145.9,867.16 L146.7,868.34 L147.5,868.66 L148.3,867.55 L149.1,867.02 L149.9,866.2 L150.7,866.34 L151.5,868.42 L152.3,870.5 L153.1,870.76 L153.9,869.55 L154.7,868.01 L155.5,866.6 L156.3,867.15 L157.1,868.79 L157.9,869.76 L158.7,870.4 L159.5,870.15 L160.3,869.55 L161.1,868.63 L161.9,868.27 L162.7,868.27 L163.5,867.17 L164.3,865.81 L165.1,866.51 L165.9,868.73 L166.7,869.92 L167.5,868.65 L168.3,866.67 L169.1,864.69 L169.9,864.21 L170.7,865.23 L171.5,866.34 L172.3,867.25 L173.1,867.4 L173.9,867.43 L174.7,869.08 L175.5,870.73 L176.3,869.82 L177.1,867.2 L177.9,864.57 L178.7,864.02 L179.5,865.56 L180.3,866.53 L181.1,866.65 L181.9,865.08 L182.7,862.72 L183.5,861.45 L184.3,862.71 L185.1,865.27 L185.9,866.04 L186.7,865.46 L187.5,865.29 L188.3,865.97 L189.1,866.75 L189.9,866.53 L190.7,864.78 L191.5,862.79 L192.3,863.2 L193.1,865.84 L193.9,869.05 L194.7,868.85 L195.5,865.73 L196.3,864.48 L197.1,864.83 L197.9,866.03 L198.7,867.37 L199.5,866.18 L200.3,863.93 L201.1,863.84 L201.9,865.32 L202.7,866.59 L203.5,867.33 L204.3,867.8 L205.1,866.44 L205.9,864.35 L206.7,864.75 L207.5,866.84 L208.3,868.62 L209.1,868.93 L209.9,866.54 L210.7,864.33 L211.5,865.41 L212.3,868.82 L213.1,870.57 L213.9,868.55 L214.7,866.56 L215.5,866.9 L216.3,869.03 L217.1,870.69 L217.9,869.46 L218.7,867.63 L219.5,866.59 L220.3,866.47 L221.1,867.73 L221.9,869.45 L222.7,868.37 L223.5,865.61 L224.3,864.01 L225.1,865.34 L225.9,868.51 L226.7,870.34 L227.5,869.9 L228.3,868.58 L229.1,867.48 L229.9,867.44 L230.7,867.57 L231.5,865.88 L232.3,863.77 L233.1,863.87 L233.9,865.65 L234.7,867.16 L235.5,868.4 L236.3,869.54 L237.1,868.85 L237.9,866.49 L238.7,865.85 L239.5,867.35 L240.3,867.78 L241.1,866.12 L241.9,865.65 L242.7,865.91 L243.5,866.42 L244.3,867.71 L245.1,866.53 L245.9,862.46 L246.7,857.49 L247.5,852.78 L248.3,848.76 L249.1,844.76 L249.9,842.73 L250.7,844.12 L251.5,848.16 L252.3,853.18 L253.1,857.21 L253.9,859.56 L254.7,861.4 L255.5,861.45 L256.3,859.54 L257.1,857.98 L257.9,854.78 L258.7,845.47 L259.5,828.83 L260.3,804.98 L261.1,775.98 L261.9,747.5 L262.7,728.33 L263.21,724.55 L263.5,725.44 L264.3,740.42 L265.1,767.37 L265.9,797.56 L266.7,823.82 L267.5,842.59 L268.3,854.4 L269.1,859.76 L269.9,861.55 L270.7,862.43 L271.5,863.26 L272.3,863.45 L273.1,863.12 L273.9,862.59 L274.7,862.19 L275.5,863.71 L276.3,866.95 L277.1,869.91 L277.9,871.03 L278.7,872.2 L279.5,867.41 L280.3,867.82 L281.1,868.61 L281.9,868.24 L282.7,866.57 L283.5,860.38 L284.3,857.34 L285.1,862.86 L285.9,868.4 L286.7,869.62 L287.5,865.79 L288.3,864 L289.1,866.12 L289.9,867 L290.7,869.75 L291.5,871.86 L292.3,869.16 L293.1,866.52 L293.9,867.36 L294.7,868.7 L295.5,868.65 L296.3,869.98 L297.1,872.24 L297.9,872.27 L298.7,868.28 L299.5,866.59 L300.3,868.04 L301.1,867.58 L301.9,866.96 L302.7,868.09 L303.5,869.04 L304.3,867.03 L305.1,862.6 L305.9,858.58 L306.7,861.28 L307.5,866.21 L308.3,865.76 L309.1,863.8 L309.9,864.13 L310.7,865.73 L311.5,864.91 L312.3,864.55 L313.1,868.08 L313.9,870.69 L314.7,869.92 L315.5,868.92 L316.3,870.28 L317.1,869.85 L317.9,867.82 L318.7,866.7 L319.5,867.09 L320.3,867.73 L321.1,868.37 L321.9,871.1 L322.7,873.89 L323.5,874.46 L324.3,870.89 L325.1,864.45 L325.9,861.67 L326.7,866.16 L327.5,870.61 L328.3,870.47 L329.1,867.75 L329.9,864.44 L330.7,863.4 L331.5,866.25 L332.3,869.93 L333.1,867.9 L333.9,862.29 L334.7,859.79 L335.5,862.78 L336.3,865.68 L337.1,863.73 L337.9,861.32 L338.7,862.23 L339.5,863.9 L340.3,865.3 L341.1,867.33 L341.9,868.95 L342.7,868.52 L343.5,866.81 L344.3,866.99 L345.1,870.82 L345.9,873.45 L346.7,871.2" fill="none" stroke="#000" stroke-width="1.9" stroke-linejoin="round"/>
<line x1="84.9" y1="720.4" x2="25.7" y2="683.9" stroke="#167283" stroke-width="2" stroke-dasharray="12 2.7"/>
<line x1="281.7" y1="720.4" x2="343.5" y2="683.9" stroke="#167283" stroke-width="2" stroke-dasharray="12 2.7"/>
<line x1="84.9" y1="720.4" x2="281.7" y2="720.4" stroke="#167283" stroke-width="2" stroke-dasharray="12 2.7"/>
<line x1="84.9" y1="720.4" x2="84.9" y2="877.1" stroke="#167283" stroke-width="2" stroke-dasharray="12 2.7"/>
<line x1="281.7" y1="720.4" x2="281.7" y2="877.1" stroke="#167283" stroke-width="2" stroke-dasharray="12 2.7"/>
<line x1="84.9" y1="877.1" x2="281.7" y2="877.1" stroke="#167283" stroke-width="1.6" stroke-dasharray="12 2.7"/>
<text transform="translate(139.36,20.6) scale(1.0,1.0)" font-size="23" font-weight="bold" fill="#000">PSM-d</text>
<text transform="translate(211.22,25) scale(1.0,1.05)" font-size="13.5" font-weight="bold" fill="#000">3</text>
<path d="M224.4,25 L224.4,14.85 L222.85,14.85 L222.51,15.5 L221.84,16.14 L220.96,16.64 L219.88,17.06 L219.88,18.76 L220.89,18.34 L221.77,17.77 L222.44,17.18 L222.44,25 Z" fill="#000"/>
<text transform="translate(522.06,20.2) scale(1.0,1.0)" font-size="23" font-weight="bold" fill="#000">PDPC-d</text>
<text transform="translate(607.92,25.3) scale(1.0,1.05)" font-size="13.5" font-weight="bold" fill="#000">3</text>
<path d="M621.1,25.3 L621.1,15.15 L619.55,15.15 L619.21,15.8 L618.54,16.44 L617.66,16.94 L616.58,17.36 L616.58,19.06 L617.59,18.64 L618.47,18.07 L619.14,17.48 L619.14,25.3 Z" fill="#000"/>
<text transform="translate(96.71,496.4) scale(1.0,1.0)" font-size="22.9" font-weight="bold" fill="#000">cholesterol-3-d</text>
<path d="M266,500.3 L266,490.63 L264.45,490.63 L264.11,491.25 L263.44,491.86 L262.56,492.34 L261.48,492.74 L261.48,494.36 L262.49,493.95 L263.37,493.42 L264.04,492.85 L264.04,500.3 Z" fill="#000"/>
<rect x="404" y="463.4" width="332" height="457.3" rx="42" ry="42" fill="none" stroke="#444" stroke-width="1.8"/>
<text transform="translate(445.83,495.4) scale(1.0,1.0)" font-size="23" font-weight="bold" fill="#000">Ordered Domain (80%)</text>
<text transform="translate(431.66,771.3) scale(1.0,1.0)" font-size="23" font-weight="bold" fill="#000">Disordered Domain (20%)</text>
<path d="M720.7,597 L720.6,599.94 L720.31,602.88 L719.83,605.81 L719.15,608.72 L718.28,611.63 L717.22,614.51 L715.97,617.37 L714.53,620.21 L712.9,623.01 L711.09,625.79 L709.1,628.52 L706.93,631.22 L704.58,633.87 L702.06,636.47 L699.37,639.03 L696.51,641.53 L696.51,683.33 L699.37,680.83 L702.06,678.27 L704.58,675.67 L706.93,673.02 L709.1,670.32 L711.09,667.59 L712.9,664.81 L714.53,662.01 L715.97,659.17 L717.22,656.31 L718.28,653.43 L719.15,650.52 L719.83,647.61 L720.31,644.68 L720.6,641.74 L720.7,638.8 Z" fill="#00ffff" stroke="#333" stroke-width="0.8" stroke-linejoin="round"/>
<path d="M696.51,641.53 L693.57,643.91 L690.47,646.24 L687.22,648.51 L683.83,650.72 L680.29,652.86 L676.62,654.93 L672.82,656.93 L668.9,658.86 L664.85,660.71 L660.68,662.49 L656.41,664.18 L652.02,665.8 L647.54,667.33 L642.96,668.77 L638.29,670.13 L633.53,671.39 L628.7,672.57 L623.79,673.65 L618.81,674.64 L613.78,675.54 L608.69,676.34 L603.55,677.04 L598.37,677.64 L593.15,678.15 L587.91,678.56 L582.64,678.87 L577.35,679.08 L572.06,679.18 L566.76,679.19 L561.46,679.1 L556.18,678.91 L550.9,678.61 L545.66,678.22 L540.43,677.73 L535.25,677.14 L530.1,676.45 L525.01,675.67 L519.96,674.79 L514.98,673.81 L510.06,672.74 L505.21,671.58 L500.44,670.33 L495.76,668.99 L491.16,667.56 L486.66,666.04 L482.26,664.44 L477.97,662.76 L473.79,660.99 L469.72,659.15 L465.77,657.24 L461.96,655.24 L458.27,653.18 L454.71,651.05 L451.3,648.86 L448.03,646.6 L444.9,644.28 L441.93,641.9 L439.12,639.47 L436.46,636.98 L433.96,634.45 L431.63,631.87 L429.46,629.25 L427.47,626.59 L427.47,668.39 L429.46,671.05 L431.63,673.67 L433.96,676.25 L436.46,678.78 L439.12,681.27 L441.93,683.7 L444.9,686.08 L448.03,688.4 L451.3,690.66 L454.71,692.85 L458.27,694.98 L461.96,697.04 L465.77,699.04 L469.72,700.95 L473.79,702.79 L477.97,704.56 L482.26,706.24 L486.66,707.84 L491.16,709.36 L495.76,710.79 L500.44,712.13 L505.21,713.38 L510.06,714.54 L514.98,715.61 L519.96,716.59 L525.01,717.47 L530.1,718.25 L535.25,718.94 L540.43,719.53 L545.66,720.02 L550.9,720.41 L556.18,720.71 L561.46,720.9 L566.76,720.99 L572.06,720.98 L577.35,720.88 L582.64,720.67 L587.91,720.36 L593.15,719.95 L598.37,719.44 L603.55,718.84 L608.69,718.14 L613.78,717.34 L618.81,716.44 L623.79,715.45 L628.7,714.37 L633.53,713.19 L638.29,711.93 L642.96,710.57 L647.54,709.13 L652.02,707.6 L656.41,705.98 L660.68,704.29 L664.85,702.51 L668.9,700.66 L672.82,698.73 L676.62,696.73 L680.29,694.66 L683.83,692.52 L687.22,690.31 L690.47,688.04 L693.57,685.71 L696.51,683.33 Z" fill="#c3c3c3" stroke="#333" stroke-width="0.8" stroke-linejoin="round"/>
<path d="M427.47,626.59 L425.56,623.75 L423.84,620.87 L422.31,617.96 L420.99,615.02 L419.86,612.05 L418.94,609.06 L418.22,606.06 L417.71,603.05 L417.4,600.03 L417.3,597 L417.3,638.8 L417.4,641.83 L417.71,644.85 L418.22,647.86 L418.94,650.86 L419.86,653.85 L420.99,656.82 L422.31,659.76 L423.84,662.67 L425.56,665.55 L427.47,668.39 Z" fill="#ff8243" stroke="#333" stroke-width="0.8" stroke-linejoin="round"/>
<path d="M569,597 L550.78,515.4 L556.11,515.1 L561.47,514.9 L566.83,514.81 L572.19,514.82 L577.55,514.93 L582.91,515.15 L588.24,515.46 L593.55,515.88 L598.83,516.4 L604.07,517.03 L609.26,517.75 L614.41,518.57 L619.5,519.49 L624.53,520.5 L629.49,521.62 L634.37,522.82 L639.17,524.12 L643.88,525.51 L648.5,526.99 L653.02,528.56 L657.43,530.21 L661.74,531.95 L665.92,533.77 L669.99,535.66 L673.93,537.64 L677.74,539.68 L681.41,541.8 L684.94,543.99 L688.33,546.25 L691.57,548.56 L694.65,550.94 L697.58,553.38 L700.35,555.87 L702.95,558.41 L705.38,561 L707.65,563.64 L709.74,566.32 L711.65,569.03 L713.39,571.78 L714.94,574.57 L716.31,577.38 L717.5,580.21 L718.51,583.07 L719.32,585.94 L719.95,588.83 L720.39,591.73 L720.64,594.63 L720.7,597.54 L720.57,600.44 L720.25,603.35 L719.74,606.24 L719.04,609.12 L718.16,611.99 L717.08,614.84 L715.83,617.67 L714.39,620.47 L712.76,623.24 L710.96,625.98 L708.98,628.68 L706.83,631.34 L704.5,633.96 L702,636.53 L699.34,639.06 L696.51,641.53 Z" fill="#00ffff" stroke="#333" stroke-width="0.8" stroke-linejoin="round"/>
<path d="M569,597 L696.51,641.53 L693.57,643.91 L690.47,646.24 L687.22,648.51 L683.83,650.72 L680.29,652.86 L676.62,654.93 L672.82,656.93 L668.9,658.86 L664.85,660.71 L660.68,662.49 L656.41,664.18 L652.02,665.8 L647.54,667.33 L642.96,668.77 L638.29,670.13 L633.53,671.39 L628.7,672.57 L623.79,673.65 L618.81,674.64 L613.78,675.54 L608.69,676.34 L603.55,677.04 L598.37,677.64 L593.15,678.15 L587.91,678.56 L582.64,678.87 L577.35,679.08 L572.06,679.18 L566.76,679.19 L561.46,679.1 L556.18,678.91 L550.9,678.61 L545.66,678.22 L540.43,677.73 L535.25,677.14 L530.1,676.45 L525.01,675.67 L519.96,674.79 L514.98,673.81 L510.06,672.74 L505.21,671.58 L500.44,670.33 L495.76,668.99 L491.16,667.56 L486.66,666.04 L482.26,664.44 L477.97,662.76 L473.79,660.99 L469.72,659.15 L465.77,657.24 L461.96,655.24 L458.27,653.18 L454.71,651.05 L451.3,648.86 L448.03,646.6 L444.9,644.28 L441.93,641.9 L439.12,639.47 L436.46,636.98 L433.96,634.45 L431.63,631.87 L429.46,629.25 L427.47,626.59 Z" fill="#c3c3c3" stroke="#333" stroke-width="0.8" stroke-linejoin="round"/>
<path d="M569,597 L427.47,626.59 L425.65,623.89 L424,621.16 L422.53,618.4 L421.24,615.61 L420.13,612.8 L419.2,609.97 L418.45,607.12 L417.89,604.26 L417.52,601.4 L417.33,598.52 L417.32,595.65 L417.5,592.78 L417.87,589.91 L418.42,587.05 L419.15,584.2 L420.07,581.37 L421.17,578.56 L422.45,575.77 L423.91,573 L425.54,570.27 L427.36,567.57 L429.34,564.9 L431.5,562.28 L433.83,559.69 L436.32,557.15 L438.97,554.66 L441.78,552.23 L444.75,549.84 L447.87,547.52 L451.13,545.25 L454.54,543.05 L458.1,540.92 L461.78,538.85 L465.6,536.85 L469.55,534.93 L473.61,533.08 L477.79,531.32 L482.09,529.63 L486.49,528.02 L490.99,526.5 L495.59,525.07 L500.27,523.72 L505.05,522.46 L509.89,521.3 L514.82,520.22 L519.8,519.24 L524.85,518.36 L529.95,517.57 L535.1,516.88 L540.29,516.29 L545.52,515.79 L550.78,515.4 Z" fill="#ff8243" stroke="#333" stroke-width="0.8" stroke-linejoin="round"/>
<text transform="translate(469.78,562.8) scale(1.0,1.0)" font-size="20" fill="#000">PDPC</text>
<text transform="translate(477.14,584.8) scale(1.0,1.0)" font-size="20" fill="#000">23%</text>
<text transform="translate(616.36,562.8) scale(1.0,1.0)" font-size="20" fill="#000">SM</text>
<text transform="translate(613.14,584.8) scale(1.0,1.0)" font-size="20" fill="#000">28%</text>
<text transform="translate(549.51,633) scale(1.0,1.0)" font-size="20" fill="#000">chol</text>
<text transform="translate(547.34,655) scale(1.0,1.0)" font-size="20" fill="#000">29%</text>
<path d="M657.5,836.5 L657.44,838.14 L657.28,839.79 L657,841.42 L656.61,843.05 L656.11,844.68 L655.5,846.29 L654.78,847.89 L653.96,849.47 L653.02,851.03 L651.99,852.58 L650.84,854.11 L649.6,855.61 L648.25,857.08 L646.81,858.53 L645.27,859.95 L643.63,861.34 L643.63,883.74 L645.27,882.35 L646.81,880.93 L648.25,879.48 L649.6,878.01 L650.84,876.51 L651.99,874.98 L653.02,873.43 L653.96,871.87 L654.78,870.29 L655.5,868.69 L656.11,867.08 L656.61,865.45 L657,863.82 L657.28,862.19 L657.44,860.54 L657.5,858.9 Z" fill="#00ffff" stroke="#333" stroke-width="0.8" stroke-linejoin="round"/>
<path d="M643.63,861.34 L641.95,862.65 L640.19,863.93 L638.35,865.18 L636.43,866.39 L634.42,867.56 L632.34,868.69 L630.19,869.79 L627.97,870.84 L625.68,871.85 L623.33,872.81 L620.91,873.73 L618.43,874.6 L615.9,875.42 L613.32,876.2 L610.69,876.92 L608.01,877.6 L605.29,878.22 L602.52,878.79 L599.73,879.31 L596.9,879.77 L594.04,880.18 L591.16,880.54 L588.25,880.84 L585.33,881.08 L582.4,881.27 L579.45,881.4 L576.5,881.48 L573.54,881.5 L570.58,881.46 L567.63,881.37 L564.69,881.22 L561.75,881.01 L558.84,880.75 L555.94,880.43 L553.06,880.06 L550.21,879.64 L547.4,879.15 L544.61,878.62 L541.86,878.03 L539.15,877.39 L536.49,876.7 L533.87,875.96 L531.3,875.17 L528.79,874.33 L526.33,873.45 L523.93,872.51 L521.6,871.54 L519.33,870.51 L519.33,892.91 L521.6,893.94 L523.93,894.91 L526.33,895.85 L528.79,896.73 L531.3,897.57 L533.87,898.36 L536.49,899.1 L539.15,899.79 L541.86,900.43 L544.61,901.02 L547.4,901.55 L550.21,902.04 L553.06,902.46 L555.94,902.83 L558.84,903.15 L561.75,903.41 L564.69,903.62 L567.63,903.77 L570.58,903.86 L573.54,903.9 L576.5,903.88 L579.45,903.8 L582.4,903.67 L585.33,903.48 L588.25,903.24 L591.16,902.94 L594.04,902.58 L596.9,902.17 L599.73,901.71 L602.52,901.19 L605.29,900.62 L608.01,900 L610.69,899.32 L613.32,898.6 L615.9,897.82 L618.43,897 L620.91,896.13 L623.33,895.21 L625.68,894.25 L627.97,893.24 L630.19,892.19 L632.34,891.09 L634.42,889.96 L636.43,888.79 L638.35,887.58 L640.19,886.33 L641.95,885.05 L643.63,883.74 Z" fill="#c3c3c3" stroke="#333" stroke-width="0.8" stroke-linejoin="round"/>
<path d="M519.33,870.51 L517.11,869.44 L514.97,868.32 L512.89,867.17 L510.9,865.97 L508.99,864.74 L507.16,863.47 L505.42,862.17 L503.76,860.83 L502.19,859.47 L500.72,858.07 L499.34,856.65 L498.05,855.2 L496.86,853.72 L495.77,852.23 L494.77,850.71 L493.88,849.18 L493.09,847.63 L492.41,846.07 L491.83,844.49 L491.35,842.91 L490.98,841.31 L490.71,839.71 L490.55,838.11 L490.5,836.5 L490.5,858.9 L490.55,860.51 L490.71,862.11 L490.98,863.71 L491.35,865.31 L491.83,866.89 L492.41,868.47 L493.09,870.03 L493.88,871.58 L494.77,873.11 L495.77,874.63 L496.86,876.12 L498.05,877.6 L499.34,879.05 L500.72,880.47 L502.19,881.87 L503.76,883.23 L505.42,884.57 L507.16,885.87 L508.99,887.14 L510.9,888.37 L512.89,889.57 L514.97,890.72 L517.11,891.84 L519.33,892.91 Z" fill="#ff8243" stroke="#333" stroke-width="0.8" stroke-linejoin="round"/>
<path d="M574,836.5 L632.11,804.18 L634.2,805.32 L636.22,806.49 L638.16,807.7 L640.02,808.95 L641.79,810.23 L643.48,811.54 L645.08,812.89 L646.59,814.26 L648.01,815.67 L649.34,817.1 L650.57,818.55 L651.71,820.03 L652.74,821.53 L653.68,823.05 L654.52,824.58 L655.25,826.13 L655.88,827.69 L656.41,829.26 L656.84,830.85 L657.16,832.44 L657.37,834.03 L657.48,835.63 L657.49,837.23 L657.39,838.82 L657.18,840.42 L656.87,842.01 L656.46,843.59 L655.94,845.17 L655.31,846.73 L654.59,848.28 L653.76,849.82 L652.83,851.34 L651.8,852.84 L650.68,854.31 L649.46,855.77 L648.14,857.2 L646.73,858.61 L645.22,859.99 L643.63,861.34 Z" fill="#00ffff" stroke="#333" stroke-width="0.8" stroke-linejoin="round"/>
<path d="M574,836.5 L643.63,861.34 L641.95,862.65 L640.19,863.93 L638.35,865.18 L636.43,866.39 L634.42,867.56 L632.34,868.69 L630.19,869.79 L627.97,870.84 L625.68,871.85 L623.33,872.81 L620.91,873.73 L618.43,874.6 L615.9,875.42 L613.32,876.2 L610.69,876.92 L608.01,877.6 L605.29,878.22 L602.52,878.79 L599.73,879.31 L596.9,879.77 L594.04,880.18 L591.16,880.54 L588.25,880.84 L585.33,881.08 L582.4,881.27 L579.45,881.4 L576.5,881.48 L573.54,881.5 L570.58,881.46 L567.63,881.37 L564.69,881.22 L561.75,881.01 L558.84,880.75 L555.94,880.43 L553.06,880.06 L550.21,879.64 L547.4,879.15 L544.61,878.62 L541.86,878.03 L539.15,877.39 L536.49,876.7 L533.87,875.96 L531.3,875.17 L528.79,874.33 L526.33,873.45 L523.93,872.51 L521.6,871.54 L519.33,870.51 Z" fill="#c3c3c3" stroke="#333" stroke-width="0.8" stroke-linejoin="round"/>
<path d="M574,836.5 L519.33,870.51 L517.15,869.46 L515.03,868.36 L512.99,867.22 L511.03,866.05 L509.14,864.84 L507.33,863.59 L505.61,862.32 L503.97,861.01 L502.41,859.66 L500.95,858.29 L499.57,856.9 L498.29,855.48 L497.1,854.03 L496,852.56 L495,851.08 L494.1,849.57 L493.3,848.05 L492.6,846.52 L491.99,844.97 L491.49,843.41 L491.09,841.85 L490.79,840.27 L490.6,838.7 L490.51,837.12 L490.52,835.53 L490.63,833.95 L490.85,832.38 L491.17,830.81 L491.59,829.24 L492.12,827.69 L492.74,826.14 L493.47,824.61 L494.29,823.09 L495.22,821.59 L496.24,820.11 L497.35,818.65 L498.56,817.21 L499.87,815.79 L501.26,814.4 L502.75,813.04 L504.32,811.7 L505.98,810.4 L507.73,809.13 L509.55,807.89 L511.46,806.69 L513.44,805.52 L515.49,804.39 L517.62,803.31 L519.82,802.26 L522.09,801.25 L524.42,800.29 L526.81,799.38 L529.26,798.51 L531.76,797.68 L534.32,796.91 L536.92,796.18 L539.57,795.5 L542.27,794.88 L545,794.3 L547.77,793.78 L550.57,793.31 L553.4,792.89 L556.26,792.53 L559.13,792.22 L562.03,791.96 L564.94,791.77 L567.86,791.62 L570.79,791.53 L573.72,791.5 L576.66,791.52 L579.59,791.6 L582.51,791.73 L585.42,791.92 L588.32,792.17 L591.2,792.47 L594.06,792.82 L596.9,793.22 L599.7,793.69 L602.48,794.2 L605.22,794.76 L607.92,795.38 L610.58,796.05 L613.19,796.77 L615.76,797.53 L618.27,798.35 L620.73,799.21 L623.14,800.12 L625.48,801.07 L627.75,802.07 L629.97,803.1 L632.11,804.18 Z" fill="#ff8243" stroke="#333" stroke-width="0.8" stroke-linejoin="round"/>
<text transform="translate(527.38,814.3) scale(1.0,1.0)" font-size="18.3" fill="#000">PDPC</text>
<path d="M538.86,833.9 L538.86,820.8 L537.82,820.8 L537.4,821.6 L536.63,822.46 L535.58,823.19 L534.25,823.89 L534.25,825.39 L535.44,824.9 L536.5,824.26 L537.36,823.56 L537.36,833.9 Z" fill="#000"/>
<path d="M549.04,833.9 L549.04,820.8 L548,820.8 L547.57,821.6 L546.81,822.46 L545.76,823.19 L544.43,823.89 L544.43,825.39 L545.62,824.9 L546.68,824.26 L547.54,823.56 L547.54,833.9 Z" fill="#000"/>
<text transform="translate(551.32,833.9) scale(1.0,1.0)" font-size="18.3" fill="#000">%</text>
<text transform="translate(615.6,829.1) scale(1.0,1.0)" font-size="18.3" fill="#000">SM</text>
<text transform="translate(616.43,848.2) scale(1.0,1.0)" font-size="18.3" fill="#000">5%</text>
<text transform="translate(557.25,857.6) scale(1.0,1.0)" font-size="18.3" fill="#000">chol</text>
<text transform="translate(559.69,877.9) scale(1.0,1.0)" font-size="18.3" fill="#000">4%</text>
</svg></body></html>
